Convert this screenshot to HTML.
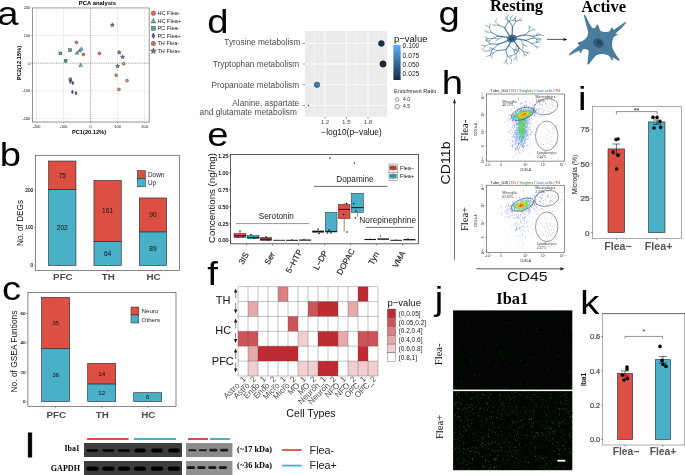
<!DOCTYPE html>
<html><head><meta charset="utf-8"><title>Figure</title>
<style>html,body{margin:0;padding:0;background:#fff}svg{display:block;will-change:transform}text{font-family:"Liberation Sans",sans-serif}</style></head>
<body>
<svg width="685" height="475" viewBox="0 0 685 475">
<rect width="685" height="475" fill="#fff"/>
<g id="pa">
<text transform="translate(-2.82 24.9) scale(1.14 1)" font-size="33.5" fill="#000">a</text>
<text x="97.4" y="5.2" font-size="5.9" text-anchor="middle" font-weight="bold" fill="#000">PCA analysis</text>
<rect x="32.50" y="7.90" width="116.70" height="114.10" fill="#fff" stroke="#8a8a8a" stroke-width="0.9"/>
<line x1="36.60" y1="7.90" x2="36.60" y2="122.00" stroke="#dcdcdc" stroke-width="0.5"/>
<line x1="32.50" y1="118.60" x2="149.20" y2="118.60" stroke="#dcdcdc" stroke-width="0.5"/>
<line x1="63.60" y1="7.90" x2="63.60" y2="122.00" stroke="#dcdcdc" stroke-width="0.5"/>
<line x1="32.50" y1="90.90" x2="149.20" y2="90.90" stroke="#dcdcdc" stroke-width="0.5"/>
<line x1="117.60" y1="7.90" x2="117.60" y2="122.00" stroke="#dcdcdc" stroke-width="0.5"/>
<line x1="32.50" y1="35.50" x2="149.20" y2="35.50" stroke="#dcdcdc" stroke-width="0.5"/>
<line x1="144.60" y1="7.90" x2="144.60" y2="122.00" stroke="#dcdcdc" stroke-width="0.5"/>
<line x1="32.50" y1="7.80" x2="149.20" y2="7.80" stroke="#dcdcdc" stroke-width="0.5"/>
<line x1="90.60" y1="7.90" x2="90.60" y2="122.00" stroke="#444" stroke-width="0.5" stroke-dasharray="1 0.8"/>
<line x1="32.50" y1="63.20" x2="149.20" y2="63.20" stroke="#444" stroke-width="0.5" stroke-dasharray="1 0.8"/>
<line x1="36.60" y1="122.00" x2="36.60" y2="123.30" stroke="#444" stroke-width="0.4"/>
<line x1="31.20" y1="118.60" x2="32.50" y2="118.60" stroke="#444" stroke-width="0.4"/>
<text x="36.6" y="127.7" font-size="3.9" text-anchor="middle" fill="#111">-200</text>
<text x="30.3" y="119.9" font-size="3.9" text-anchor="end" fill="#111">-200</text>
<line x1="63.60" y1="122.00" x2="63.60" y2="123.30" stroke="#444" stroke-width="0.4"/>
<line x1="31.20" y1="90.90" x2="32.50" y2="90.90" stroke="#444" stroke-width="0.4"/>
<text x="63.6" y="127.7" font-size="3.9" text-anchor="middle" fill="#111">-100</text>
<text x="30.3" y="92.2" font-size="3.9" text-anchor="end" fill="#111">-100</text>
<line x1="90.60" y1="122.00" x2="90.60" y2="123.30" stroke="#444" stroke-width="0.4"/>
<line x1="31.20" y1="63.20" x2="32.50" y2="63.20" stroke="#444" stroke-width="0.4"/>
<text x="90.6" y="127.7" font-size="3.9" text-anchor="middle" fill="#111">0</text>
<text x="30.3" y="64.5" font-size="3.9" text-anchor="end" fill="#111">0</text>
<line x1="117.60" y1="122.00" x2="117.60" y2="123.30" stroke="#444" stroke-width="0.4"/>
<line x1="31.20" y1="35.50" x2="32.50" y2="35.50" stroke="#444" stroke-width="0.4"/>
<text x="117.6" y="127.7" font-size="3.9" text-anchor="middle" fill="#111">100</text>
<text x="30.3" y="36.8" font-size="3.9" text-anchor="end" fill="#111">100</text>
<line x1="144.60" y1="122.00" x2="144.60" y2="123.30" stroke="#444" stroke-width="0.4"/>
<line x1="31.20" y1="7.80" x2="32.50" y2="7.80" stroke="#444" stroke-width="0.4"/>
<text x="144.6" y="127.7" font-size="3.9" text-anchor="middle" fill="#111">200</text>
<text x="30.3" y="9.1" font-size="3.9" text-anchor="end" fill="#111">200</text>
<text x="89" y="134.4" font-size="5.7" text-anchor="middle" font-weight="bold" fill="#000">PC1(20.12%)</text>
<text x="21.4" y="63" font-size="5.7" text-anchor="middle" font-weight="bold" fill="#000" transform="rotate(-90 21.4 63)">PC2(12.15%)</text>
<circle cx="76.4" cy="42.4" r="1.45" fill="#E0674B" stroke="#333" stroke-width="0.4"/>
<circle cx="83.4" cy="54.4" r="1.45" fill="#E0674B" stroke="#333" stroke-width="0.4"/>
<circle cx="99.4" cy="53.4" r="1.45" fill="#E0674B" stroke="#333" stroke-width="0.4"/>
<path d="M77 50.9L78.81 54.22L75.19 54.22Z" fill="#5FB3D3" stroke="#333" stroke-width="0.4"/>
<path d="M79.6 48.7L81.41 52.02L77.79 52.02Z" fill="#5FB3D3" stroke="#333" stroke-width="0.4"/>
<path d="M81.4 46.9L83.21 50.22L79.59 50.22Z" fill="#5FB3D3" stroke="#333" stroke-width="0.4"/>
<path d="M80.6 63.300000000000004L82.41 66.62L78.79 66.62Z" fill="#5FB3D3" stroke="#333" stroke-width="0.4"/>
<rect x="58.95" y="51.95" width="2.9" height="2.9" fill="#4FA08C" stroke="#333" stroke-width="0.4"/>
<rect x="68.75" y="48.75" width="2.9" height="2.9" fill="#4FA08C" stroke="#333" stroke-width="0.4"/>
<rect x="64.15" y="59.35" width="2.9" height="2.9" fill="#4FA08C" stroke="#333" stroke-width="0.4"/>
<rect x="68.95" y="77.95" width="2.9" height="2.9" fill="#4FA08C" stroke="#333" stroke-width="0.4"/>
<path d="M70.4 79.6L71.50 81.6L70.4 83.6L69.30 81.6Z" fill="#4E5A94" stroke="#222" stroke-width="0.4"/>
<path d="M72.8 81.0L73.90 83L72.8 85.0L71.70 83Z" fill="#4E5A94" stroke="#222" stroke-width="0.4"/>
<path d="M72.4 90.0L73.50 92L72.4 94.0L71.30 92Z" fill="#4E5A94" stroke="#222" stroke-width="0.4"/>
<path d="M76 91.2L77.10 93.2L76 95.2L74.90 93.2Z" fill="#4E5A94" stroke="#222" stroke-width="0.4"/>
<circle cx="123.6" cy="63.8" r="1.5" fill="#E3856B" stroke="#333" stroke-width="0.4"/>
<circle cx="116.2" cy="75.2" r="1.5" fill="#E3856B" stroke="#333" stroke-width="0.4"/>
<circle cx="127" cy="80.6" r="1.5" fill="#E3856B" stroke="#333" stroke-width="0.4"/>
<circle cx="119" cy="89.4" r="1.5" fill="#E3856B" stroke="#333" stroke-width="0.4"/>
<path d="M112.40 22.80L112.94 24.25L114.49 24.32L113.28 25.29L113.69 26.78L112.40 25.92L111.11 26.78L111.52 25.29L110.31 24.32L111.86 24.25Z" fill="#66759B" stroke="#222" stroke-width="0.4"/>
<path d="M119.20 50.20L119.74 51.65L121.29 51.72L120.08 52.69L120.49 54.18L119.20 53.32L117.91 54.18L118.32 52.69L117.11 51.72L118.66 51.65Z" fill="#66759B" stroke="#222" stroke-width="0.4"/>
<path d="M122.60 54.80L123.14 56.25L124.69 56.32L123.48 57.29L123.89 58.78L122.60 57.92L121.31 58.78L121.72 57.29L120.51 56.32L122.06 56.25Z" fill="#66759B" stroke="#222" stroke-width="0.4"/>
<path d="M117.60 64.00L118.14 65.45L119.69 65.52L118.48 66.49L118.89 67.98L117.60 67.12L116.31 67.98L116.72 66.49L115.51 65.52L117.06 65.45Z" fill="#66759B" stroke="#222" stroke-width="0.4"/>
<circle cx="153.4" cy="13.2" r="2.2" fill="#E0674B" stroke="#333" stroke-width="0.4"/>
<path d="M153.4 18.4L155.87 22.95L150.93 22.95Z" fill="#5FB3D3" stroke="#333" stroke-width="0.4"/>
<rect x="151.50" y="26.40" width="3.8" height="3.8" fill="#4FA08C" stroke="#333" stroke-width="0.4"/>
<path d="M153.4 33.0L154.94 35.8L153.4 38.599999999999994L151.86 35.8Z" fill="#4E5A94" stroke="#222" stroke-width="0.4"/>
<circle cx="153.4" cy="43.4" r="2.2" fill="#E3856B" stroke="#333" stroke-width="0.4"/>
<line x1="151.20" y1="43.40" x2="155.60" y2="43.40" stroke="#333" stroke-width="0.3"/>
<line x1="153.40" y1="41.20" x2="153.40" y2="45.60" stroke="#333" stroke-width="0.3"/>
<path d="M153.40 47.90L154.17 49.95L156.35 50.04L154.64 51.40L155.22 53.51L153.40 52.30L151.58 53.51L152.16 51.40L150.45 50.04L152.63 49.95Z" fill="#66759B" stroke="#222" stroke-width="0.4"/>
<text x="157.4" y="15.2" font-size="5.6" fill="#222">HC Flea-</text>
<text x="157.4" y="22.7" font-size="5.6" fill="#222">HC Flea+</text>
<text x="157.4" y="30.3" font-size="5.6" fill="#222">PC Flea-</text>
<text x="157.4" y="37.8" font-size="5.6" fill="#222">PC Flea+</text>
<text x="157.4" y="45.4" font-size="5.6" fill="#222">TH Flea-</text>
<text x="157.4" y="53" font-size="5.6" fill="#222">TH Flea+</text>
</g>
<g id="pb">
<text transform="translate(-0.26 165.7) scale(1.14 1)" font-size="33.5" fill="#000">b</text>
<rect x="35.60" y="155.30" width="143.90" height="115.20" fill="#fff" stroke="#555" stroke-width="0.7"/>
<rect x="48.65" y="189.29" width="27.30" height="76.11" fill="#49B0C7" stroke="#222" stroke-width="0.6"/>
<rect x="48.65" y="161.03" width="27.30" height="28.26" fill="#DC5044" stroke="#222" stroke-width="0.6"/>
<text x="62.3" y="229.6" font-size="6.6" text-anchor="middle" fill="#111">202</text>
<text x="62.3" y="177.5" font-size="6.6" text-anchor="middle" fill="#111">75</text>
<line x1="62.30" y1="270.50" x2="62.30" y2="272.00" stroke="#444" stroke-width="0.5"/>
<rect x="93.95" y="241.28" width="27.30" height="24.12" fill="#49B0C7" stroke="#222" stroke-width="0.6"/>
<rect x="93.95" y="180.62" width="27.30" height="60.66" fill="#DC5044" stroke="#222" stroke-width="0.6"/>
<text x="107.6" y="255.6" font-size="6.6" text-anchor="middle" fill="#111">64</text>
<text x="107.6" y="213.3" font-size="6.6" text-anchor="middle" fill="#111">161</text>
<line x1="107.60" y1="270.50" x2="107.60" y2="272.00" stroke="#444" stroke-width="0.5"/>
<rect x="139.35" y="231.86" width="27.30" height="33.54" fill="#49B0C7" stroke="#222" stroke-width="0.6"/>
<rect x="139.35" y="197.95" width="27.30" height="33.91" fill="#DC5044" stroke="#222" stroke-width="0.6"/>
<text x="153" y="250.9" font-size="6.6" text-anchor="middle" fill="#111">89</text>
<text x="153" y="217.2" font-size="6.6" text-anchor="middle" fill="#111">90</text>
<line x1="153.00" y1="270.50" x2="153.00" y2="272.00" stroke="#444" stroke-width="0.5"/>
<line x1="34.10" y1="265.40" x2="35.60" y2="265.40" stroke="#444" stroke-width="0.5"/>
<text x="33.2" y="267.1" font-size="4.7" text-anchor="end" fill="#111" stroke="#111" stroke-width="0.12">0</text>
<line x1="34.10" y1="227.72" x2="35.60" y2="227.72" stroke="#444" stroke-width="0.5"/>
<text x="33.2" y="229.4" font-size="4.7" text-anchor="end" fill="#111" stroke="#111" stroke-width="0.12">100</text>
<line x1="34.10" y1="190.04" x2="35.60" y2="190.04" stroke="#444" stroke-width="0.5"/>
<text x="33.2" y="191.7" font-size="4.7" text-anchor="end" fill="#111" stroke="#111" stroke-width="0.12">200</text>
<text x="23" y="223" font-size="8.2" text-anchor="middle" fill="#111" transform="rotate(-90 23 223)">No. of DEGs</text>
<text x="62.9" y="280" font-size="9.8" text-anchor="middle" font-weight="bold" fill="#4c4c4c">PFC</text>
<text x="108.19999999999999" y="280" font-size="9.8" text-anchor="middle" font-weight="bold" fill="#4c4c4c">TH</text>
<text x="153.6" y="280" font-size="9.8" text-anchor="middle" font-weight="bold" fill="#4c4c4c">HC</text>
<rect x="137.40" y="170.60" width="8.00" height="8.00" fill="#DC5044" stroke="#222" stroke-width="0.5"/>
<rect x="137.40" y="178.60" width="8.00" height="8.20" fill="#49B0C7" stroke="#222" stroke-width="0.5"/>
<text x="148" y="177.2" font-size="6.4" fill="#222">Down</text>
<text x="148" y="185.3" font-size="6.4" fill="#222">Up</text>
</g>
<g id="pc">
<text transform="translate(1.98 299.8) scale(1.14 1)" font-size="33.5" fill="#000">c</text>
<rect x="27.90" y="292.60" width="148.10" height="114.00" fill="#fff" stroke="#555" stroke-width="0.7"/>
<rect x="41.60" y="348.72" width="28.00" height="52.78" fill="#49B0C7" stroke="#222" stroke-width="0.6"/>
<text x="55.6" y="377.3" font-size="6.2" text-anchor="middle" fill="#111">36</text>
<rect x="41.60" y="297.41" width="28.00" height="51.31" fill="#DC5044" stroke="#222" stroke-width="0.6"/>
<text x="55.6" y="325.3" font-size="6.2" text-anchor="middle" fill="#111">35</text>
<line x1="55.60" y1="406.60" x2="55.60" y2="408.10" stroke="#444" stroke-width="0.5"/>
<rect x="87.70" y="383.91" width="28.00" height="17.59" fill="#49B0C7" stroke="#222" stroke-width="0.6"/>
<text x="101.7" y="394.9" font-size="6.2" text-anchor="middle" fill="#111">12</text>
<rect x="87.70" y="363.38" width="28.00" height="20.52" fill="#DC5044" stroke="#222" stroke-width="0.6"/>
<text x="101.7" y="375.8" font-size="6.2" text-anchor="middle" fill="#111">14</text>
<line x1="101.70" y1="406.60" x2="101.70" y2="408.10" stroke="#444" stroke-width="0.5"/>
<rect x="133.70" y="392.70" width="28.00" height="8.80" fill="#49B0C7" stroke="#222" stroke-width="0.6"/>
<text x="147.7" y="399.3" font-size="6.2" text-anchor="middle" fill="#111">6</text>
<line x1="147.70" y1="406.60" x2="147.70" y2="408.10" stroke="#444" stroke-width="0.5"/>
<line x1="26.40" y1="401.50" x2="27.90" y2="401.50" stroke="#444" stroke-width="0.5"/>
<text x="25.4" y="403.0" font-size="4.4" text-anchor="end" fill="#111" stroke="#111" stroke-width="0.12">0</text>
<line x1="26.40" y1="372.18" x2="27.90" y2="372.18" stroke="#444" stroke-width="0.5"/>
<text x="25.4" y="373.7" font-size="4.4" text-anchor="end" fill="#111" stroke="#111" stroke-width="0.12">20</text>
<line x1="26.40" y1="342.86" x2="27.90" y2="342.86" stroke="#444" stroke-width="0.5"/>
<text x="25.4" y="344.4" font-size="4.4" text-anchor="end" fill="#111" stroke="#111" stroke-width="0.12">40</text>
<line x1="26.40" y1="313.54" x2="27.90" y2="313.54" stroke="#444" stroke-width="0.5"/>
<text x="25.4" y="315.0" font-size="4.4" text-anchor="end" fill="#111" stroke="#111" stroke-width="0.12">60</text>
<text x="17.4" y="351.5" font-size="8.4" text-anchor="middle" fill="#111" transform="rotate(-90 17.4 351.5)">No. of GSEA Funtions</text>
<text x="56.2" y="417.8" font-size="9.8" text-anchor="middle" font-weight="bold" fill="#4c4c4c">PFC</text>
<text x="102.3" y="417.8" font-size="9.8" text-anchor="middle" font-weight="bold" fill="#4c4c4c">TH</text>
<text x="148.29999999999998" y="417.8" font-size="9.8" text-anchor="middle" font-weight="bold" fill="#4c4c4c">HC</text>
<rect x="131.00" y="307.00" width="7.80" height="8.00" fill="#DC5044" stroke="#222" stroke-width="0.5"/>
<rect x="131.00" y="315.00" width="7.80" height="8.00" fill="#49B0C7" stroke="#222" stroke-width="0.5"/>
<text x="141.6" y="313.2" font-size="6.2" fill="#222">Neuro</text>
<text x="141.6" y="321.6" font-size="6.2" fill="#222">Others</text>
</g>
<g id="pd">
<text transform="translate(207.20 33) scale(1.14 1)" font-size="33.5" fill="#000">d</text>
<rect x="305.00" y="31.00" width="82.00" height="85.80" fill="#EBEBEB"/>
<line x1="314.40" y1="31.00" x2="314.40" y2="116.80" stroke="#F6F6F6" stroke-width="0.5"/>
<line x1="336.00" y1="31.00" x2="336.00" y2="116.80" stroke="#F6F6F6" stroke-width="0.5"/>
<line x1="357.00" y1="31.00" x2="357.00" y2="116.80" stroke="#F6F6F6" stroke-width="0.5"/>
<line x1="378.60" y1="31.00" x2="378.60" y2="116.80" stroke="#F6F6F6" stroke-width="0.5"/>
<line x1="325.00" y1="31.00" x2="325.00" y2="116.80" stroke="#fff" stroke-width="0.9"/>
<line x1="346.40" y1="31.00" x2="346.40" y2="116.80" stroke="#fff" stroke-width="0.9"/>
<line x1="368.00" y1="31.00" x2="368.00" y2="116.80" stroke="#fff" stroke-width="0.9"/>
<line x1="305.00" y1="43.40" x2="387.00" y2="43.40" stroke="#fff" stroke-width="0.8"/>
<line x1="302.80" y1="43.40" x2="305.00" y2="43.40" stroke="#333" stroke-width="0.5"/>
<line x1="305.00" y1="64.00" x2="387.00" y2="64.00" stroke="#fff" stroke-width="0.8"/>
<line x1="302.80" y1="64.00" x2="305.00" y2="64.00" stroke="#333" stroke-width="0.5"/>
<line x1="305.00" y1="84.70" x2="387.00" y2="84.70" stroke="#fff" stroke-width="0.8"/>
<line x1="302.80" y1="84.70" x2="305.00" y2="84.70" stroke="#333" stroke-width="0.5"/>
<line x1="305.00" y1="105.40" x2="387.00" y2="105.40" stroke="#fff" stroke-width="0.8"/>
<line x1="302.80" y1="105.40" x2="305.00" y2="105.40" stroke="#333" stroke-width="0.5"/>
<line x1="325.00" y1="116.80" x2="325.00" y2="118.80" stroke="#333" stroke-width="0.5"/>
<text x="325" y="123.6" font-size="6.2" text-anchor="middle" fill="#4d4d4d">1.2</text>
<line x1="346.40" y1="116.80" x2="346.40" y2="118.80" stroke="#333" stroke-width="0.5"/>
<text x="346.4" y="123.6" font-size="6.2" text-anchor="middle" fill="#4d4d4d">1.5</text>
<line x1="368.00" y1="116.80" x2="368.00" y2="118.80" stroke="#333" stroke-width="0.5"/>
<text x="368" y="123.6" font-size="6.2" text-anchor="middle" fill="#4d4d4d">1.8</text>
<text x="300.4" y="45.0" font-size="8.3" text-anchor="end" fill="#4d4d4d">Tyrosine metabolism</text>
<text x="299.2" y="66.8" font-size="8.3" text-anchor="end" fill="#4d4d4d">Tryptophan metabolism</text>
<text x="299.2" y="88.3" font-size="8.3" text-anchor="end" fill="#4d4d4d">Propanoate metabolism</text>
<text x="299.2" y="105.9" font-size="8.3" text-anchor="end" fill="#4d4d4d">Alanine, aspartate</text>
<text x="296.9" y="115.2" font-size="8.3" text-anchor="end" fill="#4d4d4d">and glutamate metabolism</text>
<text x="351.5" y="135.2" font-size="8.4" text-anchor="middle" fill="#111">−log10(p−value)</text>
<circle cx="381.4" cy="43.4" r="3.0" fill="#1B2D47" stroke="#222" stroke-width="0.4"/>
<circle cx="383" cy="64" r="3.2" fill="#182840" stroke="#222" stroke-width="0.4"/>
<circle cx="317" cy="84.8" r="2.8" fill="#3C7DB6" stroke="#222" stroke-width="0.4"/>
<circle cx="308.4" cy="105.4" r="0.5" fill="#24466B" stroke="#222" stroke-width="0.4"/>
<text x="394" y="41.8" font-size="9.5" fill="#111">p−value</text>
<defs><linearGradient id="pvg" x1="0" y1="0" x2="0" y2="1"><stop offset="0" stop-color="#56B1F7"/><stop offset="1" stop-color="#132B43"/></linearGradient></defs>
<rect x="393.40" y="45.00" width="7.20" height="35.00" fill="url(#pvg)"/>
<text x="402.6" y="48.4" font-size="6.7" fill="#222">0.100</text>
<text x="402.6" y="57.8" font-size="6.7" fill="#222">0.075</text>
<text x="402.6" y="66.8" font-size="6.7" fill="#222">0.050</text>
<text x="402.6" y="76.0" font-size="6.7" fill="#222">0.025</text>
<text x="394" y="93.2" font-size="5.5" fill="#222">Enrichment Ratio</text>
<circle cx="397.2" cy="99.6" r="1.7" fill="#fff" stroke="#333" stroke-width="0.5"/><circle cx="397.2" cy="106.6" r="2.3" fill="#fff" stroke="#333" stroke-width="0.5"/>
<text x="403" y="101.4" font-size="5" fill="#222">4.0</text>
<text x="403" y="108.4" font-size="5" fill="#222">4.5</text>
</g>
<g id="pe">
<text transform="translate(207.18 146) scale(1.14 1)" font-size="33.5" fill="#000">e</text>
<rect x="230.50" y="154.50" width="188.00" height="89.30" fill="#fff" stroke="#333" stroke-width="0.8"/>
<line x1="229.00" y1="240.60" x2="230.50" y2="240.60" stroke="#333" stroke-width="0.5"/>
<text x="228.3" y="242.4" font-size="5.2" text-anchor="end" fill="#111" stroke="#111" stroke-width="0.15">0.00</text>
<line x1="229.00" y1="223.67" x2="230.50" y2="223.67" stroke="#333" stroke-width="0.5"/>
<text x="228.3" y="225.5" font-size="5.2" text-anchor="end" fill="#111" stroke="#111" stroke-width="0.15">0.25</text>
<line x1="229.00" y1="206.75" x2="230.50" y2="206.75" stroke="#333" stroke-width="0.5"/>
<text x="228.3" y="208.6" font-size="5.2" text-anchor="end" fill="#111" stroke="#111" stroke-width="0.15">0.50</text>
<line x1="229.00" y1="189.82" x2="230.50" y2="189.82" stroke="#333" stroke-width="0.5"/>
<text x="228.3" y="191.6" font-size="5.2" text-anchor="end" fill="#111" stroke="#111" stroke-width="0.15">0.75</text>
<line x1="229.00" y1="172.90" x2="230.50" y2="172.90" stroke="#333" stroke-width="0.5"/>
<text x="228.3" y="174.7" font-size="5.2" text-anchor="end" fill="#111" stroke="#111" stroke-width="0.15">1.00</text>
<line x1="229.00" y1="155.97" x2="230.50" y2="155.97" stroke="#333" stroke-width="0.5"/>
<text x="228.3" y="157.8" font-size="5.2" text-anchor="end" fill="#111" stroke="#111" stroke-width="0.15">1.25</text>
<text x="215.4" y="198" font-size="9.7" text-anchor="middle" fill="#111" transform="rotate(-90 215.4 198)">Concentions (ng/mg)</text>
<line x1="246.60" y1="243.80" x2="246.60" y2="245.60" stroke="#333" stroke-width="0.5"/>
<text transform="translate(249.13 254.12) rotate(-61)" text-anchor="end" font-size="8.2" fill="#222" stroke="#222" stroke-width="0.15">3IS</text>
<line x1="272.60" y1="243.80" x2="272.60" y2="245.60" stroke="#333" stroke-width="0.5"/>
<text transform="translate(275.18 254.02) rotate(-61)" text-anchor="end" font-size="8.2" fill="#222" stroke="#222" stroke-width="0.15">Ser</text>
<line x1="298.60" y1="243.80" x2="298.60" y2="245.60" stroke="#333" stroke-width="0.5"/>
<text transform="translate(302.70 251.30) rotate(-61)" text-anchor="end" font-size="8.2" fill="#222" stroke="#222" stroke-width="0.15">5−HTP</text>
<line x1="324.60" y1="243.80" x2="324.60" y2="245.60" stroke="#333" stroke-width="0.5"/>
<text transform="translate(328.11 252.35) rotate(-61)" text-anchor="end" font-size="8.2" fill="#222" stroke="#222" stroke-width="0.15">L−DP</text>
<line x1="350.60" y1="243.80" x2="350.60" y2="245.60" stroke="#333" stroke-width="0.5"/>
<text transform="translate(355.09 250.58) rotate(-61)" text-anchor="end" font-size="8.2" fill="#222" stroke="#222" stroke-width="0.15">DOPAC</text>
<line x1="376.60" y1="243.80" x2="376.60" y2="245.60" stroke="#333" stroke-width="0.5"/>
<text transform="translate(379.29 253.83) rotate(-61)" text-anchor="end" font-size="8.2" fill="#222" stroke="#222" stroke-width="0.15">Tyn</text>
<line x1="402.60" y1="243.80" x2="402.60" y2="245.60" stroke="#333" stroke-width="0.5"/>
<text transform="translate(405.77 252.97) rotate(-61)" text-anchor="end" font-size="8.2" fill="#222" stroke="#222" stroke-width="0.15">VMA</text>
<line x1="240.00" y1="231.50" x2="240.00" y2="233.60" stroke="#222" stroke-width="0.5"/>
<rect x="234.00" y="233.60" width="12.00" height="3.80" fill="#DC5044" stroke="#222" stroke-width="0.5"/>
<line x1="234.00" y1="235.80" x2="246.00" y2="235.80" stroke="#111" stroke-width="1.0"/>
<line x1="253.10" y1="234.60" x2="253.10" y2="235.60" stroke="#222" stroke-width="0.5"/>
<rect x="247.20" y="235.60" width="11.80" height="3.00" fill="#49B0C7" stroke="#222" stroke-width="0.5"/>
<line x1="247.20" y1="237.40" x2="259.00" y2="237.40" stroke="#111" stroke-width="1.0"/>
<circle cx="240" cy="231" r="0.8" fill="#111"/>
<circle cx="243" cy="236.5" r="0.8" fill="#111"/>
<circle cx="238" cy="237" r="0.8" fill="#111"/>
<circle cx="251" cy="234.5" r="0.8" fill="#111"/>
<circle cx="254" cy="238" r="0.8" fill="#111"/>
<rect x="260.20" y="237.40" width="11.40" height="3.20" fill="#DC5044" stroke="#222" stroke-width="0.5"/>
<line x1="260.20" y1="239.20" x2="271.60" y2="239.20" stroke="#111" stroke-width="1.0"/>
<line x1="273.20" y1="240.30" x2="285.00" y2="240.30" stroke="#111" stroke-width="0.9"/>
<circle cx="266" cy="236.8" r="0.8" fill="#111"/>
<circle cx="268" cy="240" r="0.8" fill="#111"/>
<line x1="286.20" y1="240.30" x2="298.00" y2="240.30" stroke="#111" stroke-width="1.0"/>
<line x1="299.20" y1="240.10" x2="311.00" y2="240.10" stroke="#111" stroke-width="1.2"/>
<circle cx="292" cy="239.6" r="0.55" fill="#111"/>
<circle cx="304" cy="239.2" r="0.6" fill="#111"/>
<line x1="312.20" y1="231.60" x2="324.00" y2="231.60" stroke="#111" stroke-width="1.9"/>
<circle cx="318" cy="229.2" r="0.8" fill="#111"/>
<circle cx="319" cy="233.6" r="0.8" fill="#111"/>
<rect x="325.40" y="212.40" width="11.60" height="19.60" fill="#49B0C7" stroke="#222" stroke-width="0.5"/>
<line x1="325.40" y1="231.40" x2="337.00" y2="231.40" stroke="#111" stroke-width="1.0"/>
<circle cx="329" cy="230" r="0.8" fill="#111"/>
<circle cx="327.5" cy="233" r="0.8" fill="#111"/>
<circle cx="331" cy="233" r="0.8" fill="#111"/>
<line x1="344.20" y1="203.00" x2="344.20" y2="204.40" stroke="#222" stroke-width="0.5"/>
<line x1="344.20" y1="218.60" x2="344.20" y2="231.60" stroke="#222" stroke-width="0.5"/>
<rect x="338.40" y="204.40" width="11.60" height="14.20" fill="#DC5044" stroke="#222" stroke-width="0.5"/>
<line x1="338.40" y1="209.40" x2="350.00" y2="209.40" stroke="#111" stroke-width="1.0"/>
<circle cx="346.5" cy="203.6" r="0.8" fill="#111"/>
<circle cx="343.5" cy="214.5" r="0.8" fill="#111"/>
<circle cx="347" cy="232" r="0.8" fill="#111"/>
<line x1="357.40" y1="212.40" x2="357.40" y2="217.00" stroke="#222" stroke-width="0.5"/>
<rect x="351.40" y="193.40" width="12.00" height="19.00" fill="#49B0C7" stroke="#222" stroke-width="0.5"/>
<line x1="351.40" y1="207.60" x2="363.40" y2="207.60" stroke="#111" stroke-width="1.0"/>
<circle cx="353.8" cy="203.6" r="0.8" fill="#111"/>
<circle cx="356" cy="211" r="0.8" fill="#111"/>
<circle cx="355.4" cy="218" r="0.8" fill="#111"/>
<line x1="364.40" y1="239.50" x2="376.00" y2="239.50" stroke="#111" stroke-width="1.1"/>
<line x1="377.40" y1="239.10" x2="389.00" y2="239.10" stroke="#111" stroke-width="1.4"/>
<circle cx="370" cy="239" r="0.55" fill="#111"/>
<circle cx="380.4" cy="235.8" r="0.65" fill="#111"/>
<line x1="390.40" y1="240.30" x2="402.00" y2="240.30" stroke="#111" stroke-width="1.0"/>
<line x1="403.40" y1="239.70" x2="415.40" y2="239.70" stroke="#111" stroke-width="1.3"/>
<circle cx="396" cy="239.8" r="0.5" fill="#111"/>
<circle cx="408" cy="238.6" r="0.6" fill="#111"/>
<circle cx="330" cy="158" r="0.8" fill="#111"/>
<circle cx="354.4" cy="163" r="0.8" fill="#111"/>
<text x="276.4" y="219.3" font-size="8.2" text-anchor="middle" fill="#222">Serotonin</text>
<line x1="236.00" y1="223.60" x2="309.40" y2="223.60" stroke="#777" stroke-width="0.8"/>
<text x="355" y="182" font-size="8.2" text-anchor="middle" fill="#222">Dopamine</text>
<line x1="314.00" y1="186.40" x2="387.40" y2="186.40" stroke="#333" stroke-width="0.7"/>
<text x="387.7" y="223" font-size="8.3" text-anchor="middle" fill="#222">Norepinephrine</text>
<line x1="366.00" y1="227.40" x2="413.60" y2="227.40" stroke="#333" stroke-width="0.7"/>
<rect x="389.00" y="164.00" width="8.20" height="8.20" fill="#fff" stroke="#555" stroke-width="0.45"/>
<rect x="389.90" y="165.90" width="6.40" height="4.00" fill="#DC5044" stroke="#222" stroke-width="0.3"/>
<line x1="389.90" y1="167.80" x2="396.30" y2="167.80" stroke="#111" stroke-width="0.45"/>
<line x1="393.10" y1="164.70" x2="393.10" y2="165.90" stroke="#222" stroke-width="0.35"/>
<line x1="393.10" y1="169.90" x2="393.10" y2="171.30" stroke="#222" stroke-width="0.35"/>
<rect x="389.00" y="172.20" width="8.20" height="8.20" fill="#fff" stroke="#555" stroke-width="0.45"/>
<rect x="389.90" y="174.10" width="6.40" height="4.00" fill="#49B0C7" stroke="#222" stroke-width="0.3"/>
<line x1="389.90" y1="176.00" x2="396.30" y2="176.00" stroke="#111" stroke-width="0.45"/>
<line x1="393.10" y1="172.90" x2="393.10" y2="174.10" stroke="#222" stroke-width="0.35"/>
<line x1="393.10" y1="178.10" x2="393.10" y2="179.50" stroke="#222" stroke-width="0.35"/>
<text x="400" y="169.6" font-size="5.6" fill="#111">Flea−</text>
<text x="400" y="177.8" font-size="5.6" fill="#111">Flea+</text>
</g>
<g id="pf">
<text transform="translate(207.36 285) scale(1.14 1)" font-size="33.5" fill="#000">f</text>
<rect x="238.00" y="286.60" width="140.00" height="89.40" fill="#fff"/>
<rect x="278.00" y="286.60" width="10.00" height="14.90" fill="#DA7F83"/>
<rect x="358.00" y="286.60" width="10.00" height="14.90" fill="#C12A30"/>
<rect x="248.00" y="301.50" width="10.00" height="14.90" fill="#E6AAAC"/>
<rect x="308.00" y="301.50" width="10.00" height="14.90" fill="#CD5559"/>
<rect x="318.00" y="301.50" width="10.00" height="14.90" fill="#C12A30"/>
<rect x="328.00" y="301.50" width="10.00" height="14.90" fill="#C12A30"/>
<rect x="348.00" y="301.50" width="10.00" height="14.90" fill="#E6AAAC"/>
<rect x="288.00" y="316.40" width="10.00" height="14.90" fill="#CD5559"/>
<rect x="238.00" y="331.30" width="10.00" height="14.90" fill="#CD5559"/>
<rect x="248.00" y="331.30" width="10.00" height="14.90" fill="#CD5559"/>
<rect x="298.00" y="331.30" width="10.00" height="14.90" fill="#F1CECF"/>
<rect x="318.00" y="331.30" width="10.00" height="14.90" fill="#C12A30"/>
<rect x="328.00" y="331.30" width="10.00" height="14.90" fill="#C12A30"/>
<rect x="338.00" y="331.30" width="10.00" height="14.90" fill="#E6AAAC"/>
<rect x="358.00" y="331.30" width="10.00" height="14.90" fill="#CD5559"/>
<rect x="368.00" y="331.30" width="10.00" height="14.90" fill="#CD5559"/>
<rect x="248.00" y="346.20" width="10.00" height="14.90" fill="#E6AAAC"/>
<rect x="258.00" y="346.20" width="10.00" height="14.90" fill="#C12A30"/>
<rect x="268.00" y="346.20" width="10.00" height="14.90" fill="#C12A30"/>
<rect x="278.00" y="346.20" width="10.00" height="14.90" fill="#C12A30"/>
<rect x="288.00" y="346.20" width="10.00" height="14.90" fill="#C12A30"/>
<rect x="358.00" y="346.20" width="10.00" height="14.90" fill="#C12A30"/>
<rect x="248.00" y="361.10" width="10.00" height="14.90" fill="#F1CECF"/>
<rect x="298.00" y="361.10" width="10.00" height="14.90" fill="#F1CECF"/>
<rect x="308.00" y="361.10" width="10.00" height="14.90" fill="#F1CECF"/>
<rect x="318.00" y="361.10" width="10.00" height="14.90" fill="#C12A30"/>
<rect x="328.00" y="361.10" width="10.00" height="14.90" fill="#C12A30"/>
<rect x="348.00" y="361.10" width="10.00" height="14.90" fill="#F1CECF"/>
<rect x="358.00" y="361.10" width="10.00" height="14.90" fill="#F1CECF"/>
<rect x="368.00" y="361.10" width="10.00" height="14.90" fill="#F1CECF"/>
<line x1="238.00" y1="286.60" x2="238.00" y2="376.00" stroke="#555" stroke-width="0.35"/>
<line x1="248.00" y1="286.60" x2="248.00" y2="376.00" stroke="#555" stroke-width="0.35"/>
<line x1="258.00" y1="286.60" x2="258.00" y2="376.00" stroke="#555" stroke-width="0.35"/>
<line x1="268.00" y1="286.60" x2="268.00" y2="376.00" stroke="#555" stroke-width="0.35"/>
<line x1="278.00" y1="286.60" x2="278.00" y2="376.00" stroke="#555" stroke-width="0.35"/>
<line x1="288.00" y1="286.60" x2="288.00" y2="376.00" stroke="#555" stroke-width="0.35"/>
<line x1="298.00" y1="286.60" x2="298.00" y2="376.00" stroke="#555" stroke-width="0.35"/>
<line x1="308.00" y1="286.60" x2="308.00" y2="376.00" stroke="#555" stroke-width="0.35"/>
<line x1="318.00" y1="286.60" x2="318.00" y2="376.00" stroke="#555" stroke-width="0.35"/>
<line x1="328.00" y1="286.60" x2="328.00" y2="376.00" stroke="#555" stroke-width="0.35"/>
<line x1="338.00" y1="286.60" x2="338.00" y2="376.00" stroke="#555" stroke-width="0.35"/>
<line x1="348.00" y1="286.60" x2="348.00" y2="376.00" stroke="#555" stroke-width="0.35"/>
<line x1="358.00" y1="286.60" x2="358.00" y2="376.00" stroke="#555" stroke-width="0.35"/>
<line x1="368.00" y1="286.60" x2="368.00" y2="376.00" stroke="#555" stroke-width="0.35"/>
<line x1="378.00" y1="286.60" x2="378.00" y2="376.00" stroke="#555" stroke-width="0.35"/>
<line x1="238.00" y1="286.60" x2="378.00" y2="286.60" stroke="#555" stroke-width="0.35"/>
<line x1="238.00" y1="301.50" x2="378.00" y2="301.50" stroke="#555" stroke-width="0.35"/>
<line x1="238.00" y1="316.40" x2="378.00" y2="316.40" stroke="#555" stroke-width="0.35"/>
<line x1="238.00" y1="331.30" x2="378.00" y2="331.30" stroke="#555" stroke-width="0.35"/>
<line x1="238.00" y1="346.20" x2="378.00" y2="346.20" stroke="#555" stroke-width="0.35"/>
<line x1="238.00" y1="361.10" x2="378.00" y2="361.10" stroke="#555" stroke-width="0.35"/>
<line x1="238.00" y1="376.00" x2="378.00" y2="376.00" stroke="#555" stroke-width="0.35"/>
<text x="223.2" y="303.5" font-size="11" text-anchor="middle" fill="#111">TH</text>
<text x="223.3" y="333.9" font-size="11" text-anchor="middle" fill="#111">HC</text>
<text x="222.8" y="364.9" font-size="11" text-anchor="middle" fill="#111">PFC</text>
<line x1="235.60" y1="298.00" x2="235.60" y2="290.10" stroke="#111" stroke-width="0.5"/>
<path d="M235.6 288.6L234.0 292.6L237.2 292.6Z" fill="#111"/>
<line x1="235.60" y1="303.00" x2="235.60" y2="312.10" stroke="#111" stroke-width="0.5"/>
<path d="M235.6 313.6L234.0 309.6L237.2 309.6Z" fill="#111"/>
<line x1="235.60" y1="328.40" x2="235.60" y2="320.10" stroke="#111" stroke-width="0.5"/>
<path d="M235.6 318.6L234.0 322.6L237.2 322.6Z" fill="#111"/>
<line x1="235.60" y1="333.00" x2="235.60" y2="341.50" stroke="#111" stroke-width="0.5"/>
<path d="M235.6 343L234.0 339L237.2 339Z" fill="#111"/>
<line x1="235.60" y1="359.00" x2="235.60" y2="350.10" stroke="#111" stroke-width="0.5"/>
<path d="M235.6 348.6L234.0 352.6L237.2 352.6Z" fill="#111"/>
<line x1="235.60" y1="362.60" x2="235.60" y2="371.10" stroke="#111" stroke-width="0.5"/>
<path d="M235.6 372.6L234.0 368.6L237.2 368.6Z" fill="#111"/>
<text transform="translate(246.5 379.6) rotate(-45)" text-anchor="end" font-size="8.1" fill="#4d4d4d">Astro_1</text>
<text transform="translate(256.5 379.6) rotate(-45)" text-anchor="end" font-size="8.1" fill="#4d4d4d">Astro_2</text>
<text transform="translate(266.5 379.6) rotate(-45)" text-anchor="end" font-size="8.1" fill="#4d4d4d">Endo_1</text>
<text transform="translate(276.5 379.6) rotate(-45)" text-anchor="end" font-size="8.1" fill="#4d4d4d">Endo_2</text>
<text transform="translate(286.5 379.6) rotate(-45)" text-anchor="end" font-size="8.1" fill="#4d4d4d">Micro_1</text>
<text transform="translate(296.5 379.6) rotate(-45)" text-anchor="end" font-size="8.1" fill="#4d4d4d">Micro_2</text>
<text transform="translate(306.5 379.6) rotate(-45)" text-anchor="end" font-size="8.1" fill="#4d4d4d">MO_1</text>
<text transform="translate(316.5 379.6) rotate(-45)" text-anchor="end" font-size="8.1" fill="#4d4d4d">MO_2</text>
<text transform="translate(326.5 379.6) rotate(-45)" text-anchor="end" font-size="8.1" fill="#4d4d4d">Neuron_1</text>
<text transform="translate(336.5 379.6) rotate(-45)" text-anchor="end" font-size="8.1" fill="#4d4d4d">Neuron_2</text>
<text transform="translate(346.5 379.6) rotate(-45)" text-anchor="end" font-size="8.1" fill="#4d4d4d">NFO_1</text>
<text transform="translate(356.5 379.6) rotate(-45)" text-anchor="end" font-size="8.1" fill="#4d4d4d">NFO_2</text>
<text transform="translate(366.5 379.6) rotate(-45)" text-anchor="end" font-size="8.1" fill="#4d4d4d">OPC_1</text>
<text transform="translate(376.5 379.6) rotate(-45)" text-anchor="end" font-size="8.1" fill="#4d4d4d">OPC_2</text>
<text x="311" y="416.8" font-size="10.6" text-anchor="middle" fill="#111">Cell Types</text>
<text x="387.4" y="306.3" font-size="9.5" fill="#111">p−value</text>
<rect x="387.40" y="309.00" width="8.20" height="8.77" fill="#C12A30" stroke="#444" stroke-width="0.35"/>
<text x="398.6" y="315.7" font-size="6.5" fill="#222">(0,0.05]</text>
<rect x="387.40" y="317.77" width="8.20" height="8.77" fill="#CD5559" stroke="#444" stroke-width="0.35"/>
<text x="398.6" y="324.5" font-size="6.5" fill="#222">(0.05,0.2]</text>
<rect x="387.40" y="326.54" width="8.20" height="8.77" fill="#DA7F83" stroke="#444" stroke-width="0.35"/>
<text x="398.6" y="333.2" font-size="6.5" fill="#222">(0.2,0.4]</text>
<rect x="387.40" y="335.31" width="8.20" height="8.77" fill="#E6AAAC" stroke="#444" stroke-width="0.35"/>
<text x="398.6" y="342.0" font-size="6.5" fill="#222">(0.4,0.6]</text>
<rect x="387.40" y="344.08" width="8.20" height="8.77" fill="#F1CECF" stroke="#444" stroke-width="0.35"/>
<text x="398.6" y="350.8" font-size="6.5" fill="#222">(0.6,0.8]</text>
<rect x="387.40" y="352.85" width="8.20" height="8.77" fill="#fff" stroke="#444" stroke-width="0.35"/>
<text x="398.6" y="359.6" font-size="6.5" fill="#222">(0.8,1]</text>
</g>
<g id="pg">
<text transform="translate(438.40 24.8) scale(1.14 1)" font-size="33.5" fill="#000">g</text>
<text x="516.5" y="11" font-size="16.5" text-anchor="middle" font-weight="bold" style="font-family:'Liberation Serif',serif" fill="#000">Resting</text>
<text x="603.6" y="12" font-size="16.5" text-anchor="middle" font-weight="bold" style="font-family:'Liberation Serif',serif" fill="#000">Active</text>
<path d="M515.0 38.9Q520.4 39.4 525.8 40.3M513.7 40.6Q516.6 44.2 519.0 48.1M511.1 40.9Q509.2 45.5 505.9 49.6M509.4 39.8Q503.9 42.5 497.8 44.3M509.1 37.9Q503.9 36.5 498.4 36.2M510.4 36.6Q507.0 32.4 504.6 27.8M512.1 36.2Q512.3 31.4 512.5 26.5M514.7 37.6Q519.6 35.7 524.9 34.9" fill="none" stroke="#4E7E9F" stroke-width="1.3" stroke-linecap="round"/>
<path d="M525.8 40.3Q528.9 42.1 532.1 43.6M525.8 40.3Q529.2 39.1 532.8 38.2M519.0 48.1Q518.1 51.0 516.3 53.6M519.0 48.1Q521.4 49.6 523.3 51.5M505.9 49.6Q501.7 50.1 497.5 50.6M505.9 49.6Q506.2 52.8 507.5 55.9M497.8 44.3Q493.9 44.0 490.0 43.9M497.8 44.3Q495.2 47.7 491.6 50.6M498.4 36.2Q494.6 34.6 491.3 32.4M498.4 36.2Q495.4 37.4 492.3 38.5M504.6 27.8Q506.2 24.8 508.1 21.9M504.6 27.8Q501.8 26.2 498.6 25.1M512.5 26.5Q514.4 24.1 515.9 21.5M512.5 26.5Q511.0 24.0 509.4 21.5M524.9 34.9Q528.9 35.6 533.0 36.1M524.9 34.9Q527.1 33.3 529.0 31.4" fill="none" stroke="#4E7E9F" stroke-width="0.9" stroke-linecap="round"/>
<path d="M532.1 43.6Q533.7 45.2 535.9 46.3M535.9 46.3Q536.5 47.5 537.1 48.6M535.9 46.3Q537.6 46.6 539.1 47.3M532.1 43.6Q534.7 43.3 537.0 42.3M537.0 42.3Q538.6 42.2 540.2 42.1M537.0 42.3Q538.1 41.2 539.2 40.2M532.8 38.2Q535.4 38.4 538.0 38.2M538.0 38.2Q539.3 38.8 540.8 39.1M532.8 38.2Q534.8 36.7 536.8 35.1M536.8 35.1Q538.8 34.7 540.9 34.2M536.8 35.1Q537.2 33.8 538.0 32.7M520.4 39.4Q522.1 41.7 523.1 44.3M523.1 44.3Q522.5 46.3 522.7 48.5M523.1 44.3Q524.9 45.6 527.0 46.5M516.3 53.6Q514.0 54.7 511.6 55.7M511.6 55.7Q510.1 55.9 508.6 56.2M511.6 55.7Q511.0 56.9 510.2 57.9M516.3 53.6Q516.2 55.7 515.9 57.8M515.9 57.8Q514.9 58.9 513.7 59.9M515.9 57.8Q516.2 59.1 517.0 60.4M523.3 51.5Q523.8 53.0 524.4 54.4M524.4 54.4Q524.4 55.4 524.3 56.4M524.4 54.4Q525.7 54.9 526.8 55.6M523.3 51.5Q525.1 52.1 527.0 52.6M527.0 52.6Q527.5 53.5 528.2 54.2M527.0 52.6Q528.1 52.4 529.3 52.2M516.6 44.2Q515.9 46.8 516.0 49.4M516.0 49.4Q514.8 50.7 514.1 52.2M516.0 49.4Q517.8 50.8 519.4 52.4M497.5 50.6Q495.0 49.6 492.4 48.7M492.4 48.7Q491.3 47.8 490.0 47.1M492.4 48.7Q490.7 48.8 489.0 49.2M497.5 50.6Q495.2 51.5 493.4 52.9M493.4 52.9Q492.0 53.0 490.6 53.4M493.4 52.9Q492.9 54.3 491.9 55.5M507.5 55.9Q506.8 58.4 506.0 60.9M506.0 60.9Q504.9 62.1 504.0 63.4M506.0 60.9Q506.6 62.8 507.7 64.5M507.5 55.9Q509.6 57.8 511.5 59.8M511.5 59.8Q511.5 61.8 511.0 63.8M509.2 45.5Q511.4 47.8 514.0 49.8M514.0 49.8Q514.0 51.7 514.5 53.5M514.0 49.8Q516.4 50.0 518.7 50.5M490.0 43.9Q488.3 42.5 486.6 41.1M486.6 41.1Q486.7 39.7 486.8 38.3M490.0 43.9Q487.5 44.8 485.1 45.9M485.1 45.9Q483.4 45.5 481.7 45.3M485.1 45.9Q484.2 47.0 483.6 48.3M491.6 50.6Q488.1 51.1 484.5 51.0M484.5 51.0Q483.1 49.8 481.5 48.7M491.6 50.6Q491.3 53.0 490.2 55.3M490.2 55.3Q488.5 56.0 486.7 56.4M490.2 55.3Q491.1 56.7 492.1 58.1M491.3 32.4Q489.9 30.0 489.5 27.4M489.5 27.4Q490.2 25.7 490.1 23.8M489.5 27.4Q487.7 26.1 485.5 25.3M491.3 32.4Q488.8 32.5 486.4 31.8M486.4 31.8Q485.7 30.8 484.8 29.8M492.3 38.5Q490.1 38.3 487.9 38.6M487.9 38.6Q486.6 37.8 485.6 36.8M487.9 38.6Q486.7 39.5 485.3 40.2M492.3 38.5Q490.9 39.6 489.5 40.8M489.5 40.8Q488.1 40.8 486.7 40.7M489.5 40.8Q489.1 41.7 488.6 42.5M503.9 36.5Q501.0 37.8 498.1 39.1M498.1 39.1Q496.3 38.8 494.5 38.3M498.1 39.1Q497.0 40.5 495.6 41.7M508.1 21.9Q510.5 20.8 513.1 20.1M513.1 20.1Q515.1 20.5 517.1 20.9M513.1 20.1Q514.4 18.9 515.9 18.1M508.1 21.9Q507.1 19.4 506.9 16.9M506.9 16.9Q508.1 15.7 508.9 14.4M498.6 25.1Q496.9 23.6 495.6 21.9M495.6 21.9Q496.0 20.5 496.3 19.0M498.6 25.1Q496.6 25.2 494.6 25.3M494.6 25.3Q493.4 24.8 492.4 24.0M515.9 21.5Q517.7 20.8 519.5 20.2M519.5 20.2Q520.7 20.5 521.9 20.8M519.5 20.2Q520.5 19.2 521.1 18.0M515.9 21.5Q515.1 19.8 514.9 18.1M514.9 18.1Q515.3 17.2 515.9 16.3M509.4 21.5Q510.2 19.5 510.5 17.4M510.5 17.4Q511.8 16.3 513.0 15.3M509.4 21.5Q507.6 20.6 506.1 19.4M506.1 19.4Q505.8 18.4 505.9 17.4M533.0 36.1Q535.2 37.6 536.7 39.5M536.7 39.5Q536.6 40.8 536.3 42.1M536.7 39.5Q539.0 39.8 541.2 39.8M533.0 36.1Q536.1 35.4 539.2 34.9M539.2 34.9Q541.3 35.5 543.5 35.6M529.0 31.4Q530.9 30.5 532.9 29.7M532.9 29.7Q534.2 29.8 535.5 29.9M529.0 31.4Q529.1 29.7 529.3 28.0M529.3 28.0Q530.4 27.3 531.3 26.5M529.3 28.0Q528.9 27.0 528.8 25.9" fill="none" stroke="#4E7E9F" stroke-width="0.6" stroke-linecap="round"/>
<ellipse cx="512.0" cy="38.6" rx="5" ry="3.9" fill="#3F7091" transform="rotate(-15 512.0 38.6)"/>
<ellipse cx="511.7" cy="38.7" rx="2.6" ry="2" fill="#2A5170" transform="rotate(-15 512.0 38.6)"/>
<line x1="547.00" y1="39.40" x2="565.00" y2="39.40" stroke="#111" stroke-width="0.7"/>
<path d="M567.4 39.4L563.6 37.9L563.6 40.9Z" fill="#111"/>
<path d="M584.6 15.6C587 20 589 25 592 28.5L595.3 29.2Q596.4 26.2 597.6 25.4Q598.4 28 599.6 31C603 33.5 607 33 610 32L612 28.4L613.3 31C617 28.5 621 26 625.2 22.8C621.6 27.6 617.6 31 614 33.6L616.6 34.6L613.5 36.2C611 40 610.5 46 612.5 50C614.5 54 616.5 57 618.8 60C615.5 58.6 613 56.6 611.5 55L612.4 59.6L609.8 55.4C606 53 600 53 596 54.5C593 57.5 591 60.5 588.2 63.8C588.4 59 589.5 54 589.5 50.5C588 48.5 585 48 582.5 48.6L580.4 52.2L580 49.6C576 51 573 52.8 569.6 54.6C573 51 577 48 580.5 45.5L578.4 43L582.5 42C586 40 589 36 589 32C587.5 27 586 21 584.6 15.6Z" fill="#4A7C9D" stroke="#4A7C9D" stroke-width="1.5" stroke-linejoin="round"/>
<ellipse cx="598.6" cy="43" rx="5.6" ry="4.4" fill="#305A78" transform="rotate(30 598.6 43)"/>
<ellipse cx="599.4" cy="42.4" rx="2.8" ry="1.7" fill="#23435E" transform="rotate(35 599.4 42.4)"/>
</g>
<g id="ph">
<text transform="translate(441.75 93.6) scale(1.14 1)" font-size="33.5" fill="#000">h</text>
<line x1="454.50" y1="259.80" x2="454.50" y2="102.00" stroke="#333" stroke-width="0.7"/>
<path d="M454.5 98.8L453 103.2L456 103.2Z" fill="#222"/>
<line x1="476.40" y1="268.80" x2="562.00" y2="268.80" stroke="#333" stroke-width="0.8"/>
<path d="M564.8 268.8L560.4 267.2L560.4 270.4Z" fill="#222"/>
<text transform="translate(450.2 163) rotate(-90) scale(1.06 1)" text-anchor="middle" font-size="13.4" fill="#111">CD11b</text>
<text transform="translate(527.4 281.3) scale(1.16 1)" text-anchor="middle" font-size="13.7" fill="#111">CD45</text>
<text x="468.2" y="130.6" font-size="10.6" text-anchor="middle" style="font-family:'Liberation Serif',serif" fill="#111" transform="rotate(-90 468.2 130.6)">Flea-</text>
<text x="468.2" y="219" font-size="10.6" text-anchor="middle" style="font-family:'Liberation Serif',serif" fill="#111" transform="rotate(-90 468.2 219)">Flea+</text>
<g transform="translate(486.5 94)">
<rect x="0.00" y="0.00" width="78.00" height="67.10" fill="#fff" stroke="#3a3a3a" stroke-width="0.55"/>
<path d="M29.1 55.7h.5M28.3 50.5h.5M26.1 47.2h.5M21.7 36.8h.5M24.7 26.5h.5M32.3 58.4h.5M29.3 55.2h.5M28.6 55.0h.5M27.7 41.9h.5M31.2 56.8h.5M37.8 51.7h.5M31.7 50.5h.5M40.2 50.9h.5M25.5 31.7h.5M26.0 53.2h.5M28.5 50.1h.5M26.4 47.0h.5M24.3 39.6h.5M48.4 15.3h.5M36.9 52.1h.5M45.8 29.6h.5M23.7 38.9h.5M37.2 52.2h.5M31.4 55.5h.5M32.7 54.5h.5M42.1 29.1h.5M30.2 52.5h.5M44.2 40.7h.5M26.6 27.8h.5M44.0 26.6h.5M28.4 48.0h.5M25.9 26.4h.5M37.8 12.0h.5M24.2 21.3h.5M28.7 49.9h.5M36.8 57.1h.5M25.8 42.9h.5M26.4 31.8h.5M25.6 51.5h.5M22.0 20.7h.5M24.0 25.3h.5M22.4 27.8h.5M57.4 16.4h.5M36.5 53.8h.5M40.8 41.2h.5M65.7 11.0h.5M41.2 39.7h.5M38.5 49.9h.5M42.6 35.6h.5M25.5 52.5h.5M25.4 50.9h.5M36.3 50.2h.5M24.3 35.9h.5M21.7 37.5h.5M36.3 51.8h.5M32.2 57.8h.5M28.3 54.6h.5M67.1 12.8h.5M49.0 16.9h.5M55.8 20.2h.5M62.5 9.9h.5M57.3 57.5h.5M62.3 12.1h.5M60.8 17.7h.5M32.5 53.2h.5M39.3 11.4h.5M38.9 13.4h.5M34.5 8.9h.5M29.3 55.5h.5M30.3 53.5h.5M24.4 51.6h.5M28.6 47.2h.5M41.7 13.0h.5M64.5 7.9h.5M47.6 13.6h.5M42.5 25.5h.5M27.7 31.3h.5M41.3 41.5h.5M32.0 14.7h.5M37.9 11.3h.5M46.5 14.5h.5M26.5 34.9h.5M26.4 34.6h.5M51.3 18.3h.5M26.0 19.2h.5M20.5 24.2h.5M32.6 15.2h.5M50.0 14.4h.5M40.5 51.5h.5M48.4 21.3h.5M41.5 34.1h.5M28.0 13.5h.5M29.3 53.7h.5M41.9 28.8h.5M65.7 35.0h.5M70.9 52.6h.5M69.0 52.1h.5M69.1 50.9h.5M60.5 35.8h.5M40.7 44.6h.5M26.4 51.3h.5M35.5 52.6h.5M45.6 14.7h.5M40.9 41.7h.5M36.3 3.4h.5M28.3 17.1h.5M66.3 33.3h.5M69.7 31.6h.5M66.0 38.8h.5M36.1 51.7h.5M34.1 55.5h.5M26.0 33.4h.5M26.1 13.2h.5M35.0 8.9h.5M24.7 16.4h.5M45.2 38.6h.5M25.2 42.5h.5M26.1 38.4h.5M28.0 28.9h.5M37.1 11.8h.5M25.6 51.2h.5M45.9 38.1h.5M33.4 51.6h.5M48.5 10.5h.5M42.0 25.8h.5M39.8 10.9h.5M31.1 14.8h.5M45.0 23.4h.5M26.9 7.1h.5M46.7 40.6h.5M26.6 42.9h.5M42.3 59.1h.5M49.0 19.8h.5M28.2 57.8h.5M38.8 48.8h.5M23.1 25.9h.5M48.3 20.0h.5M41.0 47.9h.5M34.0 58.6h.5M34.9 53.0h.5M34.5 13.3h.5M38.0 13.2h.5M37.0 52.4h.5M46.1 14.5h.5M30.2 51.7h.5M36.2 56.1h.5M41.4 45.9h.5M29.0 17.7h.5M25.8 28.4h.5M38.6 7.6h.5M36.8 53.1h.5M42.5 25.6h.5M30.7 16.4h.5M36.5 54.2h.5M35.6 9.6h.5M40.2 42.7h.5M23.8 49.5h.5M36.1 52.9h.5M22.3 21.3h.5M50.1 34.6h.5M44.4 40.2h.5M36.4 53.1h.5M41.7 26.3h.5M23.1 46.0h.5M30.9 13.6h.5M45.7 13.9h.5M60.8 13.3h.5M23.8 51.7h.5M32.0 4.8h.5M26.0 47.3h.5M26.2 63.0h.5M40.1 51.8h.5M25.4 27.1h.5M41.3 45.5h.5M30.3 53.3h.5M51.8 17.1h.5M41.6 13.8h.5M40.5 12.3h.5M65.1 42.4h.5M54.3 18.4h.5M50.8 12.0h.5M62.7 20.6h.5M64.4 14.4h.5M52.3 10.8h.5M56.3 15.0h.5M63.6 50.4h.5M20.8 31.7h.5M44.2 35.6h.5M43.9 29.4h.5M45.8 12.6h.5M33.8 15.1h.5M34.5 9.6h.5M31.7 4.9h.5M47.6 21.3h.5M45.0 8.7h.5M23.3 20.5h.5M47.9 32.7h.5M17.7 28.3h.5M44.5 38.1h.5M37.7 12.2h.5M24.7 36.0h.5M54.7 14.4h.5M65.1 64.3h.5M69.0 32.6h.5M65.0 46.9h.5M56.8 50.5h.5M67.4 36.6h.5M40.4 55.0h.5M25.6 53.0h.5M43.2 9.8h.5M39.7 11.0h.5M28.5 60.2h.5M20.5 26.7h.5M30.2 15.5h.5M43.8 52.8h.5M42.5 27.9h.5M52.0 3.3h.5M42.8 41.0h.5M26.9 30.5h.5M37.5 49.3h.5M49.4 28.0h.5M44.6 24.8h.5M60.7 5.8h.5M44.5 37.4h.5M37.7 13.0h.5M47.4 22.7h.5M26.7 41.1h.5M37.9 13.7h.5M29.6 58.8h.5M22.7 37.7h.5M44.3 32.4h.5M22.0 23.1h.5M24.8 20.3h.5M46.3 44.8h.5M27.6 40.5h.5M30.6 54.7h.5M44.2 50.2h.5M42.4 52.3h.5M31.6 5.1h.5M42.6 33.4h.5M35.9 56.0h.5M39.7 12.0h.5M37.2 11.2h.5M43.7 40.2h.5M30.3 15.2h.5M43.4 47.9h.5M60.6 41.6h.5M42.1 40.2h.5M26.5 41.8h.5M41.8 43.1h.5M43.3 36.0h.5M39.3 8.7h.5M33.7 9.7h.5M28.3 50.1h.5M38.8 14.4h.5M43.3 29.0h.5M43.1 9.2h.5M67.7 12.1h.5M67.0 55.4h.5M55.0 48.0h.5M31.9 62.2h.5M47.9 21.8h.5M42.2 43.1h.5M25.8 26.4h.5M31.6 54.8h.5M23.4 25.0h.5M38.6 7.7h.5M43.1 14.3h.5M24.3 45.1h.5M50.0 16.6h.5M24.2 33.1h.5M25.4 43.3h.5M40.2 12.1h.5M53.1 6.9h.5M48.2 20.0h.5M58.8 9.4h.5M55.0 11.2h.5M29.6 55.0h.5M43.2 11.1h.5M33.9 10.6h.5M65.0 18.5h.5M24.6 14.7h.5M43.4 45.1h.5M33.1 59.7h.5M38.1 48.4h.5M29.0 53.9h.5M45.4 11.6h.5M52.7 15.7h.5M45.8 5.0h.5M59.5 12.8h.5M49.9 15.4h.5M60.7 6.2h.5M37.8 8.1h.5M56.8 17.7h.5M60.3 11.2h.5M21.8 38.7h.5M34.3 12.8h.5M31.0 54.6h.5M53.1 14.5h.5M26.3 41.0h.5M28.1 49.3h.5M49.3 17.2h.5M30.9 53.4h.5M26.1 48.4h.5M52.9 8.7h.5M52.8 8.8h.5M51.4 14.9h.5M55.4 10.8h.5M58.3 16.1h.5M41.7 13.4h.5M62.1 17.0h.5M63.3 17.3h.5M55.4 14.8h.5M59.6 10.2h.5M60.7 54.2h.5M68.9 31.5h.5M66.4 53.1h.5M66.5 60.1h.5M61.0 49.3h.5M67.3 34.4h.5M62.5 45.4h.5M59.2 44.3h.5M64.3 10.5h.5M66.1 60.3h.5M62.6 39.1h.5M61.6 37.6h.5M54.3 44.5h.5M56.1 53.7h.5M63.9 47.6h.5M60.7 4.5h.5M71.8 7.7h.5M53.9 10.2h.5M52.5 22.9h.5M47.8 15.0h.5M56.6 8.6h.5M53.6 22.4h.5M70.4 49.6h.5M51.3 16.4h.5M62.6 20.3h.5M61.8 2.6h.5M58.7 9.6h.5M52.5 10.0h.5M56.7 18.4h.5M47.8 10.5h.5M33.0 14.1h.5M36.1 52.5h.5M29.0 18.1h.5M42.4 33.0h.5M30.9 16.7h.5M27.9 45.1h.5M27.3 33.0h.5M29.9 48.8h.5M33.3 53.0h.5M44.3 21.6h.5M28.4 39.5h.5M28.8 33.8h.5M35.7 49.7h.5M30.3 49.5h.5M43.6 14.9h.5M28.2 29.4h.5M44.2 14.3h.5M26.4 27.1h.5M32.0 51.1h.5M42.6 24.8h.5M27.4 38.1h.5M28.4 26.6h.5M28.9 43.0h.5M41.2 26.5h.5M44.6 21.6h.5M41.7 35.2h.5M46.1 15.1h.5M40.5 40.1h.5M30.3 47.7h.5M27.6 42.6h.5M43.5 15.0h.5M28.2 30.7h.5M27.8 32.7h.5M28.1 31.2h.5M28.6 44.6h.5M46.6 16.0h.5M37.2 13.3h.5M33.2 52.4h.5M29.6 47.4h.5M41.5 28.9h.5M36.7 49.6h.5M40.7 25.7h.5M27.0 26.4h.5M36.9 50.5h.5M47.8 19.1h.5M27.6 32.7h.5M24.1 21.2h.5M29.2 38.3h.5M42.4 30.9h.5M28.0 38.7h.5M48.4 18.6h.5M28.5 40.6h.5M40.3 40.8h.5M24.2 24.7h.5M40.0 41.8h.5M38.7 43.6h.5M38.2 48.1h.5M48.8 17.4h.5M35.8 12.9h.5M46.0 21.0h.5M30.5 17.6h.5M31.5 50.2h.5M27.8 46.7h.5M41.7 15.0h.5M28.2 31.9h.5M41.3 14.8h.5M27.3 43.2h.5M40.3 38.3h.5M40.9 29.6h.5M27.4 36.7h.5M41.2 29.2h.5M40.8 35.7h.5M31.2 51.4h.5M43.3 15.5h.5M35.6 51.3h.5M25.3 22.8h.5M29.3 46.2h.5M48.5 16.2h.5M49.5 15.9h.5M29.3 18.5h.5M41.8 24.4h.5M42.3 27.1h.5M30.0 32.1h.5M39.4 41.7h.5M39.4 45.4h.5M32.0 49.8h.5M29.7 41.6h.5M30.4 45.3h.5M29.3 30.2h.5" stroke="#2B4BDE" stroke-width="0.5" fill="none"/>
<path d="M30.0 46.2h.5M42.1 14.7h.5M39.2 41.1h.5M40.4 25.0h.5M41.2 36.5h.5M28.2 19.4h.5M40.2 40.9h.5M29.5 46.0h.5M32.2 16.3h.5M47.2 18.1h.5M33.0 49.7h.5M44.7 15.0h.5M38.3 46.4h.5M39.1 44.8h.5M45.9 20.5h.5M37.9 47.5h.5M29.6 34.9h.5M29.3 44.0h.5M30.8 17.7h.5M39.1 40.7h.5M38.5 14.3h.5M48.2 18.6h.5M32.1 49.2h.5M29.1 46.1h.5M46.3 16.1h.5M37.8 45.6h.5M46.5 19.8h.5M28.5 39.6h.5M32.1 48.8h.5M38.1 46.4h.5M29.1 27.8h.5M33.8 13.6h.5M45.4 20.7h.5M40.4 14.3h.5M48.6 17.0h.5M39.5 45.2h.5M39.5 42.6h.5M29.8 34.7h.5M33.6 16.3h.5M28.2 27.3h.5M29.0 26.9h.5M28.5 18.4h.5M31.5 48.2h.5M28.8 19.0h.5M29.9 44.9h.5M42.4 23.3h.5M29.3 27.8h.5M41.7 23.0h.5M43.3 23.2h.5M29.8 37.2h.5M34.8 46.4h.5M30.4 28.5h.5M40.1 38.4h.5M30.2 49.1h.5M33.8 16.4h.5M29.4 46.7h.5M28.9 28.2h.5M40.2 26.6h.5M29.7 40.1h.5M37.4 46.9h.5M29.4 42.0h.5M34.1 47.8h.5M40.7 33.3h.5M47.9 18.6h.5M28.4 38.1h.5M29.2 44.6h.5M29.2 44.0h.5M25.9 22.0h.5M39.1 44.6h.5M43.6 15.7h.5M27.2 20.0h.5M41.7 15.1h.5M25.5 21.3h.5M37.7 49.2h.5M36.7 49.7h.5M34.2 50.3h.5M38.7 14.7h.5M28.3 36.7h.5M38.3 46.9h.5M35.4 46.8h.5M41.2 28.4h.5M48.4 17.3h.5M38.4 45.2h.5M41.2 33.8h.5M33.7 17.3h.5M34.8 48.0h.5M30.2 30.0h.5M41.0 31.3h.5M29.2 19.1h.5M26.9 25.9h.5M32.6 49.6h.5M40.5 30.4h.5M34.7 50.6h.5M40.5 29.0h.5M26.1 20.8h.5M31.8 49.9h.5M37.3 47.8h.5M35.0 51.4h.5M34.7 15.2h.5M29.9 41.8h.5M44.8 15.4h.5M34.7 14.4h.5M35.1 46.3h.5M40.0 35.7h.5M46.9 15.8h.5M40.6 31.8h.5M29.7 18.4h.5M38.5 46.0h.5M46.6 17.4h.5M42.6 23.2h.5M47.3 16.6h.5M41.0 36.4h.5M41.0 25.4h.5M37.6 15.3h.5M30.0 29.7h.5M24.6 23.4h.5M35.1 16.2h.5M29.7 44.0h.5M34.2 50.6h.5M27.9 20.1h.5M35.6 50.7h.5M46.2 19.2h.5M37.8 44.3h.5M29.0 43.5h.5M36.5 46.0h.5M43.6 21.6h.5M45.6 16.1h.5M36.4 14.8h.5M25.7 26.5h.5M45.1 15.9h.5M34.7 16.4h.5M39.6 14.8h.5M30.7 42.4h.5M35.4 47.2h.5M40.6 27.6h.5M33.0 49.7h.5M44.3 20.9h.5" stroke="#3269E1" stroke-width="0.5" fill="none"/>
<path d="M39.5 37.6h.5M47.5 18.4h.5M29.5 36.4h.5M29.6 40.5h.5M29.0 37.8h.5M29.3 48.6h.5M30.4 46.2h.5M26.0 24.5h.5M32.4 17.7h.5M40.2 36.9h.5M29.7 39.4h.5M40.2 32.3h.5M45.3 21.1h.5M39.9 27.2h.5M41.1 27.4h.5M34.6 48.8h.5M31.4 46.6h.5M36.6 15.4h.5M30.6 40.2h.5M37.5 46.8h.5M33.9 51.0h.5M30.4 35.8h.5M35.8 43.6h.5M29.9 29.6h.5M32.7 46.8h.5M33.6 16.6h.5M30.3 29.1h.5M32.8 17.2h.5M47.5 15.9h.5M35.2 15.6h.5M45.3 16.3h.5M33.4 47.8h.5M39.9 25.9h.5M27.4 19.8h.5M30.6 34.0h.5M37.6 41.3h.5M30.4 30.1h.5M29.8 31.6h.5M45.4 21.1h.5M30.0 28.8h.5M29.2 25.9h.5M34.4 47.0h.5M43.2 21.9h.5M34.4 49.4h.5M45.2 16.8h.5M40.8 23.7h.5M29.7 42.8h.5M28.6 38.2h.5M29.8 42.4h.5M29.4 35.8h.5M29.9 29.8h.5M40.2 31.9h.5M40.2 33.0h.5M40.1 40.0h.5M25.2 23.2h.5M40.3 15.3h.5M33.1 16.9h.5M39.6 26.5h.5M30.9 43.5h.5M35.0 15.6h.5M45.7 19.6h.5M44.2 15.9h.5M39.1 26.2h.5M29.5 26.5h.5M39.6 32.4h.5M30.3 43.8h.5M39.8 26.4h.5M34.4 16.5h.5M29.7 36.3h.5M35.6 47.9h.5M35.4 47.5h.5M29.4 18.9h.5M27.1 25.6h.5M30.0 26.6h.5M34.8 16.5h.5M39.5 36.9h.5M30.8 42.8h.5M37.6 42.6h.5M26.7 22.4h.5M32.2 25.5h.5M35.6 15.9h.5M40.5 23.5h.5M40.0 29.4h.5M39.3 37.5h.5M31.4 26.3h.5M39.1 15.9h.5M29.0 39.5h.5M46.4 18.0h.5M31.6 48.6h.5M29.8 33.1h.5M32.8 47.7h.5M33.6 49.8h.5M29.6 31.8h.5M32.9 46.7h.5M33.5 47.1h.5M40.7 16.0h.5M39.5 36.7h.5M46.7 18.8h.5M35.4 49.2h.5M29.8 40.1h.5M30.5 30.7h.5M33.8 48.7h.5M31.0 44.4h.5M36.7 46.1h.5M38.9 26.6h.5M39.6 33.7h.5M29.6 37.2h.5M30.3 26.8h.5M39.9 37.0h.5M34.9 48.2h.5M31.7 45.9h.5M39.5 39.9h.5M35.6 47.2h.5M43.4 16.3h.5M26.2 23.4h.5M26.0 24.3h.5M30.0 25.6h.5M43.7 16.7h.5M37.7 43.7h.5M28.9 36.8h.5M32.9 46.3h.5M27.2 20.8h.5M29.2 25.2h.5M25.2 23.5h.5M39.2 27.4h.5M41.1 23.6h.5M30.2 40.6h.5M30.3 27.0h.5M26.6 22.1h.5M37.3 43.1h.5M39.4 28.6h.5M46.5 18.5h.5M42.9 16.4h.5M29.9 38.5h.5M40.8 29.9h.5M35.0 47.0h.5M39.5 38.7h.5M37.7 15.9h.5M39.0 38.0h.5M39.4 24.3h.5M43.1 21.6h.5M45.9 17.1h.5M31.0 31.4h.5M27.0 21.7h.5M32.9 45.3h.5M32.6 49.3h.5M30.9 30.6h.5M30.8 29.8h.5M35.2 16.6h.5M46.9 18.2h.5M36.6 15.4h.5M40.0 33.5h.5M36.6 44.3h.5M33.1 17.0h.5M32.7 17.4h.5M27.6 23.8h.5M39.8 33.2h.5M30.9 41.7h.5M39.6 37.4h.5M42.0 16.3h.5M28.6 25.3h.5M31.5 45.8h.5M40.6 38.4h.5M39.3 27.2h.5M28.7 26.1h.5M26.9 21.8h.5M30.4 36.5h.5M41.7 22.9h.5M33.7 47.8h.5M31.4 27.4h.5M31.0 33.9h.5M35.6 47.5h.5M45.8 20.3h.5M37.7 42.4h.5M33.7 46.5h.5M27.0 23.3h.5M40.3 31.1h.5M29.5 19.2h.5M39.6 29.0h.5M38.7 37.0h.5M32.8 25.4h.5" stroke="#3987E4" stroke-width="0.5" fill="none"/>
<path d="M28.2 24.3h.5M30.2 40.1h.5M41.1 23.0h.5M26.7 23.5h.5M32.2 29.4h.5M45.7 16.4h.5M43.9 20.8h.5M37.9 40.6h.5M30.1 40.1h.5M30.3 39.7h.5M38.6 42.3h.5M39.5 28.0h.5M40.3 31.4h.5M46.3 18.6h.5M38.7 36.1h.5M27.1 20.5h.5M34.5 47.8h.5M37.0 44.3h.5M40.3 28.9h.5M31.7 28.5h.5M45.8 19.2h.5M30.7 27.1h.5M38.8 38.6h.5M30.7 29.9h.5M31.4 44.7h.5M39.7 36.7h.5M27.7 22.3h.5M35.6 45.3h.5M45.2 19.8h.5M39.0 27.5h.5M31.3 29.9h.5M29.5 35.5h.5M39.3 28.3h.5M39.3 39.8h.5M26.8 24.6h.5M30.2 35.1h.5M35.9 48.1h.5M31.1 34.1h.5M30.5 43.1h.5M32.7 50.3h.5M40.5 23.4h.5M33.2 45.3h.5M35.0 45.1h.5M46.9 18.1h.5M39.9 32.1h.5M29.9 40.3h.5M28.5 23.6h.5M30.8 45.8h.5M39.3 39.5h.5M31.0 37.9h.5M39.2 37.2h.5M39.3 28.6h.5M32.4 29.3h.5M30.1 39.4h.5M26.9 21.2h.5M41.0 15.6h.5M32.6 26.6h.5M32.5 44.1h.5M30.2 30.4h.5M26.6 22.1h.5M40.0 29.5h.5M43.0 15.8h.5M34.3 46.8h.5M39.7 25.1h.5M30.4 36.5h.5M38.3 42.4h.5M31.9 44.2h.5M39.2 32.7h.5M40.4 34.3h.5M38.0 26.2h.5M27.1 24.8h.5M40.3 23.1h.5M44.3 20.5h.5M32.6 17.2h.5M31.5 28.9h.5M30.8 37.3h.5M32.7 45.1h.5M32.4 27.8h.5M26.3 23.3h.5M31.8 17.4h.5M27.5 25.0h.5M41.5 22.8h.5M32.2 41.1h.5M36.4 44.8h.5M31.5 41.7h.5M30.6 45.1h.5M33.0 17.2h.5M30.9 29.3h.5M30.6 39.1h.5M39.6 36.9h.5M44.3 16.2h.5M31.4 33.6h.5M42.6 16.8h.5M39.5 28.7h.5M32.5 44.6h.5M32.0 38.9h.5M39.9 24.0h.5M39.4 34.7h.5M39.1 34.7h.5M30.3 36.1h.5M27.1 22.4h.5M26.3 23.7h.5M31.4 42.5h.5M29.3 19.4h.5M31.3 18.8h.5M36.2 16.0h.5M31.5 38.8h.5M32.5 27.6h.5M42.3 21.7h.5M37.1 44.2h.5M37.1 16.0h.5M31.4 32.9h.5M31.5 29.3h.5M38.5 37.6h.5M34.8 42.5h.5M41.9 22.3h.5M37.7 43.8h.5M39.0 34.3h.5M33.6 47.5h.5M39.7 23.4h.5M28.7 21.3h.5M31.1 43.6h.5M36.6 43.5h.5M25.9 22.5h.5M39.4 29.1h.5M40.7 22.9h.5M36.3 42.3h.5M31.3 33.5h.5M31.5 38.7h.5M25.5 23.1h.5M32.2 44.5h.5M32.0 18.1h.5M35.1 44.8h.5M31.6 25.9h.5M33.7 42.2h.5M27.3 22.1h.5M39.3 26.7h.5M36.9 41.7h.5M35.2 16.5h.5M41.1 16.0h.5M37.2 16.8h.5M36.3 44.9h.5M26.8 22.3h.5M31.8 40.0h.5M31.1 31.7h.5M34.2 17.8h.5M38.1 40.1h.5M32.8 28.3h.5M40.9 23.0h.5M40.2 23.2h.5M30.8 24.1h.5M33.1 29.8h.5M38.5 38.2h.5M41.7 21.6h.5M29.6 24.7h.5M27.9 21.1h.5M33.6 16.9h.5M45.6 18.4h.5M39.4 24.6h.5M30.6 29.4h.5M44.2 16.2h.5M32.0 28.9h.5M36.1 16.8h.5M38.9 29.6h.5M28.2 21.0h.5M37.7 16.5h.5M39.3 26.2h.5M36.0 48.7h.5M40.0 23.5h.5M34.6 45.2h.5M36.8 16.5h.5M27.9 21.7h.5M32.5 28.5h.5M35.6 44.5h.5M31.5 24.4h.5M39.0 26.9h.5M34.7 41.8h.5M42.3 21.8h.5M42.2 16.5h.5M38.0 38.8h.5M31.3 36.2h.5M32.6 29.3h.5M33.0 42.1h.5M38.4 38.7h.5M32.5 40.8h.5M37.9 15.9h.5M31.7 27.3h.5M36.5 16.5h.5M38.7 28.4h.5M31.5 30.2h.5M28.0 21.1h.5M31.6 29.6h.5M34.4 43.9h.5M31.8 31.3h.5M33.5 45.7h.5M38.9 40.0h.5M45.7 17.7h.5M41.3 22.2h.5M33.4 18.1h.5M32.2 42.7h.5M31.6 35.6h.5M32.4 26.8h.5M36.4 42.8h.5M37.5 29.8h.5M38.2 39.4h.5M32.3 44.4h.5M44.4 17.6h.5M42.7 16.1h.5M37.6 38.7h.5M32.3 42.7h.5M46.1 17.8h.5M31.0 34.7h.5M38.3 35.9h.5M32.4 43.2h.5M39.1 30.3h.5M28.9 20.2h.5M26.6 22.2h.5M41.0 22.6h.5M33.0 42.5h.5M28.5 21.6h.5M38.8 32.1h.5M27.2 23.5h.5M38.4 37.1h.5M42.0 21.4h.5M31.9 39.4h.5M32.0 28.7h.5M36.2 43.7h.5M36.9 41.7h.5M39.5 25.8h.5M35.6 43.2h.5M31.8 35.5h.5M37.9 34.9h.5M37.8 40.1h.5" stroke="#3E9ED3" stroke-width="0.5" fill="none"/>
<path d="M31.3 36.6h.5M39.0 31.0h.5M37.6 25.1h.5M42.7 17.1h.5M37.6 16.3h.5M39.3 24.4h.5M37.7 39.5h.5M32.1 25.7h.5M45.4 18.0h.5M35.3 40.3h.5M33.3 44.0h.5M34.5 42.6h.5M30.4 25.5h.5M37.6 38.4h.5M39.1 15.7h.5M33.4 41.3h.5M34.8 45.8h.5M39.6 16.4h.5M31.7 33.6h.5M39.4 24.1h.5M33.6 43.5h.5M32.3 27.1h.5M36.7 42.4h.5M32.7 25.2h.5M32.6 44.7h.5M27.6 23.5h.5M38.0 38.2h.5M31.4 26.2h.5M38.1 29.2h.5M28.1 22.6h.5M38.9 28.1h.5M31.7 24.7h.5M35.5 42.6h.5M27.1 23.8h.5M38.0 31.0h.5M27.1 24.1h.5M29.3 24.8h.5M28.9 21.2h.5M27.5 23.5h.5M31.8 35.6h.5M37.5 37.1h.5M36.5 42.1h.5M38.0 36.9h.5M31.4 38.7h.5M31.4 31.1h.5M38.5 29.7h.5M38.6 31.1h.5M32.5 36.9h.5M34.1 40.3h.5M35.2 45.2h.5M33.7 45.3h.5M30.9 40.8h.5M29.9 19.2h.5M42.0 21.4h.5M28.9 21.5h.5M37.2 43.2h.5M37.5 25.6h.5M31.2 37.5h.5M34.9 42.8h.5M31.4 34.1h.5M37.6 40.6h.5M38.3 25.9h.5M39.2 26.6h.5M28.1 21.8h.5M32.3 33.5h.5M30.4 38.2h.5M33.8 27.5h.5M38.6 24.8h.5M38.6 32.4h.5M27.4 24.2h.5M42.0 21.8h.5M28.0 21.3h.5M44.0 16.7h.5M33.9 41.6h.5M32.2 26.7h.5M32.6 44.7h.5M32.9 27.2h.5M31.7 33.8h.5M30.3 39.2h.5M29.9 20.3h.5M33.5 17.4h.5M31.8 39.0h.5M39.6 16.1h.5M39.3 24.0h.5M39.7 32.8h.5M37.8 30.4h.5M36.3 42.3h.5M37.6 36.0h.5M38.7 29.1h.5M32.8 45.0h.5M33.4 45.3h.5M28.8 24.0h.5M38.7 36.1h.5M31.6 36.4h.5M37.8 42.9h.5M32.9 28.7h.5M37.9 25.3h.5M29.2 24.7h.5M34.3 45.7h.5M37.1 42.8h.5M39.5 28.9h.5M32.9 40.1h.5M35.7 42.1h.5M28.1 23.2h.5M29.5 24.1h.5M32.2 43.2h.5M35.5 45.8h.5M38.1 35.1h.5M31.5 41.1h.5M38.5 33.9h.5M43.6 17.1h.5M35.7 45.5h.5M33.9 41.7h.5M37.5 29.2h.5M31.2 38.6h.5M31.6 25.0h.5M29.5 20.3h.5M33.2 43.5h.5M30.2 41.1h.5M33.6 26.3h.5M32.6 26.2h.5M32.1 28.4h.5M40.2 23.3h.5M37.8 38.3h.5M38.2 36.5h.5M37.1 16.6h.5M37.8 16.4h.5M38.7 39.3h.5M34.6 46.0h.5M32.5 37.3h.5M32.3 33.7h.5M32.9 29.4h.5M35.2 43.0h.5M37.0 43.2h.5M36.7 43.6h.5M32.7 43.6h.5M36.4 44.7h.5M35.8 43.3h.5M32.2 25.5h.5M35.5 44.9h.5M42.1 21.4h.5M31.6 43.6h.5M32.3 31.4h.5M37.6 31.3h.5M32.5 28.9h.5M28.7 21.9h.5M32.8 33.4h.5M34.5 41.5h.5M31.4 38.1h.5M32.4 24.9h.5M31.7 33.7h.5M35.7 43.1h.5M34.1 44.7h.5M28.7 24.6h.5M38.4 33.8h.5M33.5 27.6h.5M33.4 43.1h.5M31.0 19.6h.5M32.2 33.8h.5M37.5 37.7h.5M37.7 31.9h.5M35.4 17.6h.5M38.6 38.9h.5M32.9 42.3h.5M26.5 22.6h.5M36.1 26.5h.5M45.0 17.6h.5M38.2 27.3h.5M32.6 38.2h.5M37.8 41.1h.5M36.7 41.2h.5M32.3 38.7h.5M31.4 36.5h.5M30.4 36.6h.5M32.0 18.5h.5M34.8 17.4h.5M32.0 33.3h.5M37.4 39.8h.5M38.4 33.4h.5M37.3 39.5h.5M32.8 28.0h.5M35.1 44.7h.5M33.4 25.8h.5M41.3 17.0h.5M37.0 25.4h.5M28.7 24.6h.5M38.4 39.0h.5M30.8 38.3h.5M40.6 22.6h.5M32.6 31.6h.5M28.8 21.7h.5M37.5 17.2h.5M35.0 39.9h.5M32.9 41.2h.5M28.0 21.5h.5M32.3 39.2h.5M36.1 45.6h.5M32.0 29.6h.5M32.3 35.0h.5M27.4 23.2h.5M37.4 29.7h.5M30.1 24.4h.5M38.9 25.1h.5M32.1 42.9h.5M36.8 38.0h.5M30.8 36.4h.5M38.5 24.7h.5M33.2 34.8h.5M32.1 33.5h.5M40.2 22.0h.5M29.3 25.0h.5M42.3 21.1h.5M29.8 20.0h.5M33.0 35.8h.5M41.1 21.8h.5M34.7 47.0h.5M43.3 20.7h.5M33.7 24.7h.5M27.2 22.7h.5M27.2 24.2h.5M32.8 25.4h.5M38.0 24.0h.5M28.6 22.4h.5M38.1 29.8h.5M35.3 44.8h.5M29.6 20.5h.5M33.3 30.2h.5M38.0 27.5h.5M40.0 22.4h.5M29.0 23.3h.5M32.8 34.0h.5M32.3 36.5h.5M27.4 21.5h.5M32.2 28.1h.5M36.0 25.7h.5M39.0 25.2h.5M37.9 38.4h.5M37.0 41.3h.5M40.6 21.6h.5M29.7 19.8h.5M34.5 17.4h.5M39.0 16.3h.5M36.5 42.3h.5M36.0 41.1h.5M35.0 43.1h.5M32.0 40.2h.5M38.0 27.0h.5M32.4 28.5h.5M33.9 17.6h.5M29.1 21.8h.5M38.5 33.5h.5M42.2 16.9h.5M35.4 31.5h.5M27.5 21.8h.5M38.8 36.1h.5M28.0 22.9h.5M33.2 27.6h.5M38.2 34.9h.5M43.5 16.6h.5M33.5 43.1h.5M37.5 26.5h.5M37.7 36.4h.5M36.3 39.5h.5M32.5 18.6h.5M30.8 32.3h.5M37.9 25.0h.5M38.0 30.0h.5M39.2 35.8h.5M39.2 30.5h.5M44.6 17.4h.5M43.4 17.0h.5M37.0 29.4h.5M34.3 30.0h.5M34.0 26.3h.5M37.5 37.7h.5M29.9 23.8h.5M36.7 29.1h.5M37.8 38.8h.5M36.3 28.6h.5M28.9 24.2h.5M31.9 28.3h.5M32.9 38.4h.5M43.9 20.1h.5M36.7 38.1h.5M35.8 17.6h.5M33.7 17.8h.5M37.4 24.4h.5M31.2 20.2h.5M36.1 44.2h.5M38.2 31.5h.5M33.2 39.0h.5M32.8 32.6h.5M32.1 32.8h.5M34.5 25.9h.5M37.2 31.9h.5M31.6 41.4h.5M36.0 39.6h.5M32.3 31.4h.5M34.3 18.0h.5M32.1 38.8h.5M33.0 37.6h.5M37.3 34.9h.5M32.1 36.0h.5M31.7 30.7h.5M40.8 22.1h.5M38.9 22.7h.5M37.1 37.2h.5M31.9 29.7h.5M37.4 40.9h.5M32.4 39.7h.5M34.3 39.6h.5M39.5 16.7h.5M37.9 35.0h.5M37.9 31.0h.5M35.2 44.6h.5M39.2 22.8h.5M37.4 31.7h.5M37.0 29.5h.5M37.7 26.9h.5M36.1 42.4h.5M33.0 30.4h.5M32.7 25.5h.5M32.7 43.2h.5M32.5 42.2h.5M45.1 19.0h.5M37.0 39.7h.5M34.1 27.1h.5M33.6 32.4h.5M36.4 42.2h.5M32.6 27.1h.5M38.6 36.3h.5M38.7 32.3h.5M33.1 35.7h.5M37.7 28.7h.5M39.4 23.8h.5M37.9 30.9h.5M34.6 18.4h.5M36.5 40.2h.5M33.1 43.5h.5M38.1 24.9h.5M27.8 23.4h.5M31.8 33.4h.5M43.8 18.8h.5M32.8 38.1h.5M34.1 44.1h.5M36.7 37.6h.5M29.9 19.4h.5M36.5 16.9h.5M36.4 36.7h.5M38.7 17.3h.5M33.8 35.1h.5" stroke="#42AFAE" stroke-width="0.5" fill="none"/>
<path d="M33.6 30.1h.5M30.0 22.7h.5M32.7 36.4h.5M41.7 16.7h.5M32.6 24.7h.5M32.0 25.8h.5M34.2 27.2h.5M35.9 44.3h.5M29.3 22.9h.5M37.1 26.1h.5M34.1 37.0h.5M36.9 39.0h.5M38.4 16.7h.5M34.3 25.0h.5M28.6 23.6h.5M36.3 38.5h.5M36.1 42.6h.5M36.7 28.5h.5M33.6 42.7h.5M44.8 18.4h.5M37.9 34.1h.5M33.1 43.3h.5M31.7 34.5h.5M33.0 39.5h.5M33.1 25.6h.5M43.2 17.3h.5M34.9 43.7h.5M34.2 37.1h.5M34.3 25.2h.5M36.0 40.8h.5M27.2 22.8h.5M34.6 28.0h.5M38.4 31.4h.5M41.9 21.6h.5M34.2 18.4h.5M29.0 22.7h.5M34.0 28.2h.5M36.1 25.7h.5M34.8 41.4h.5M31.6 33.7h.5M36.8 38.7h.5M34.9 30.1h.5M33.2 42.2h.5M34.2 34.6h.5M33.0 18.7h.5M37.5 34.4h.5M30.8 23.0h.5M38.4 33.6h.5M32.1 33.5h.5M40.5 16.5h.5M32.7 24.7h.5M28.5 21.3h.5M36.2 36.3h.5M37.0 40.4h.5M42.1 16.8h.5M33.6 25.4h.5M33.0 37.7h.5M32.0 24.1h.5M43.9 18.5h.5M32.7 35.7h.5M34.1 38.5h.5M35.0 39.6h.5M37.8 24.7h.5M32.6 39.0h.5M31.9 36.2h.5M42.7 20.9h.5M33.3 42.6h.5M38.5 33.0h.5M32.9 39.6h.5M37.6 29.0h.5M33.7 18.4h.5M35.2 41.9h.5M36.1 35.5h.5M34.7 35.9h.5M33.1 35.9h.5M33.1 19.0h.5M30.4 19.8h.5M36.0 17.6h.5M36.9 41.0h.5M39.6 17.0h.5M37.3 30.1h.5M34.5 17.4h.5M32.6 18.2h.5M35.5 40.9h.5M33.2 40.7h.5M31.4 24.0h.5M38.8 16.5h.5M33.0 31.1h.5M36.8 35.9h.5M34.6 32.1h.5M37.7 25.9h.5M34.3 39.0h.5M33.2 33.8h.5M34.8 32.9h.5M35.7 30.0h.5M34.2 38.8h.5M37.7 37.9h.5M32.9 37.1h.5M33.3 26.5h.5M32.6 33.8h.5M39.4 17.3h.5M30.2 23.2h.5M28.5 22.3h.5M33.4 34.1h.5M33.8 24.1h.5M32.6 23.8h.5M34.1 41.2h.5M34.0 30.4h.5M35.8 44.4h.5M34.0 38.6h.5M34.2 35.0h.5M32.8 36.1h.5M31.7 24.8h.5M36.6 27.2h.5M33.5 24.5h.5M35.6 25.6h.5M29.1 21.1h.5M32.7 30.3h.5M37.0 35.4h.5M44.3 18.4h.5M37.5 41.1h.5M32.1 25.3h.5M33.6 36.9h.5M37.7 25.5h.5M32.1 25.1h.5M43.9 18.2h.5M33.7 34.2h.5M37.9 31.2h.5M32.8 32.1h.5M35.5 36.9h.5M32.6 24.4h.5M38.0 26.0h.5M31.0 24.8h.5M33.4 32.6h.5M34.9 40.0h.5M34.8 29.2h.5M38.3 24.3h.5M41.4 21.9h.5M29.9 20.0h.5M36.3 38.7h.5M33.5 27.9h.5M34.3 25.0h.5M33.6 45.4h.5M36.1 26.9h.5M37.2 25.5h.5M35.5 39.3h.5M33.3 36.4h.5M38.2 23.8h.5M34.0 42.6h.5M33.3 40.8h.5M37.2 38.8h.5M33.5 37.4h.5M45.2 17.8h.5M33.0 28.1h.5M36.5 34.1h.5M33.1 29.3h.5M32.7 36.8h.5M36.6 39.8h.5M37.2 32.3h.5M33.1 40.0h.5M34.3 27.6h.5M34.9 40.3h.5M33.7 29.8h.5M42.8 17.3h.5M38.0 31.0h.5M34.6 35.6h.5M33.4 37.0h.5M27.9 22.2h.5M33.7 18.7h.5M36.0 39.2h.5M35.0 42.4h.5M32.5 19.3h.5M43.1 20.5h.5M33.7 38.5h.5M38.4 25.7h.5M37.6 35.4h.5M31.6 24.6h.5M38.2 30.9h.5M33.6 29.0h.5M33.9 36.1h.5M36.5 35.7h.5M38.8 32.8h.5M32.9 34.1h.5M29.6 22.1h.5M29.3 21.8h.5M35.5 43.5h.5M35.7 37.1h.5M38.3 22.9h.5M39.2 23.2h.5M32.9 29.0h.5M37.8 34.6h.5M35.3 32.1h.5M32.7 34.5h.5M35.8 40.4h.5M37.5 26.9h.5M41.1 16.9h.5M36.4 32.4h.5M40.0 17.4h.5M35.1 29.4h.5M34.9 24.1h.5M36.0 18.0h.5M38.0 26.2h.5M31.1 19.5h.5M40.0 22.4h.5M33.1 25.1h.5M44.6 18.1h.5M40.4 21.9h.5M33.0 35.6h.5M37.6 34.3h.5M35.1 17.7h.5M37.8 32.0h.5M35.1 39.6h.5M38.5 25.0h.5M33.6 32.4h.5M44.2 18.2h.5M34.3 37.7h.5M33.0 26.3h.5M36.4 32.7h.5M35.2 41.3h.5M35.0 42.4h.5M37.8 36.4h.5M36.5 29.7h.5M35.6 39.0h.5M33.4 37.8h.5M37.3 35.1h.5M36.5 25.6h.5M37.3 36.1h.5M33.0 34.9h.5M30.3 23.4h.5M38.4 16.8h.5M27.9 22.9h.5M34.5 26.7h.5M34.4 28.4h.5M39.2 27.2h.5M34.5 38.5h.5M32.4 19.9h.5M38.9 22.8h.5M36.0 41.2h.5M33.4 35.6h.5M33.9 25.8h.5M36.7 27.9h.5M32.4 30.1h.5M35.3 39.5h.5M42.3 20.9h.5M36.2 38.0h.5M37.8 33.9h.5M35.0 38.7h.5M37.1 29.3h.5M34.6 39.9h.5M32.9 38.8h.5M35.1 32.3h.5M37.9 30.7h.5M28.6 22.5h.5M37.7 37.3h.5M35.6 28.3h.5M37.2 33.0h.5M37.1 26.2h.5M35.1 31.7h.5M34.0 36.2h.5M35.5 34.9h.5M36.9 37.5h.5M37.6 30.1h.5M36.5 24.6h.5M33.6 41.1h.5M29.8 22.4h.5M34.1 37.9h.5M30.8 20.3h.5M34.7 36.9h.5M44.1 19.7h.5M38.6 17.3h.5M35.2 34.7h.5M36.0 27.8h.5M33.1 24.9h.5M37.7 34.3h.5M30.0 23.7h.5M29.5 22.0h.5M33.5 34.6h.5M37.5 27.4h.5M33.3 29.4h.5M34.8 39.2h.5M37.4 31.2h.5M37.5 17.3h.5M43.0 18.5h.5M34.8 41.7h.5M34.9 41.0h.5M38.3 37.0h.5M36.3 17.7h.5M32.6 37.9h.5M37.3 33.3h.5M36.0 39.1h.5M35.7 29.3h.5M36.3 32.1h.5M34.8 30.4h.5M30.8 21.2h.5M32.0 36.9h.5M37.8 23.8h.5M38.5 17.6h.5M37.2 24.3h.5M34.3 26.1h.5M39.2 22.7h.5M36.9 34.6h.5M33.9 37.1h.5M32.1 30.8h.5M36.3 17.3h.5M36.7 25.3h.5M33.1 36.4h.5M30.8 20.7h.5M33.9 30.9h.5M37.0 32.6h.5M43.7 18.4h.5M37.7 17.4h.5M36.6 31.6h.5M34.3 25.6h.5M34.1 26.7h.5M35.5 25.7h.5M30.6 23.7h.5M35.0 25.4h.5M33.6 17.6h.5M32.0 23.9h.5M33.1 23.9h.5M38.4 38.4h.5M34.7 34.1h.5M30.2 21.8h.5M35.3 37.6h.5M35.9 26.1h.5M37.4 26.6h.5M34.6 28.5h.5M39.7 22.3h.5M35.2 38.1h.5M37.5 29.8h.5M29.3 22.7h.5M33.5 30.6h.5M32.9 30.9h.5M44.5 18.2h.5M33.3 36.8h.5M37.3 30.9h.5M37.0 34.4h.5M43.7 18.5h.5M37.4 32.3h.5M36.0 28.4h.5M37.9 31.8h.5M39.7 22.5h.5M34.3 27.9h.5M37.5 31.2h.5M35.1 33.3h.5M32.7 34.3h.5M33.4 34.5h.5M38.5 24.0h.5M35.7 35.6h.5M35.7 40.0h.5M37.0 28.7h.5M32.6 32.9h.5M34.3 26.0h.5M36.9 17.4h.5M37.2 32.1h.5M43.4 17.6h.5M28.3 22.8h.5M35.0 25.9h.5M37.0 29.1h.5M43.9 19.4h.5M33.8 18.3h.5M33.8 31.1h.5M35.3 40.7h.5M34.0 26.4h.5M37.4 23.4h.5M35.3 37.3h.5M32.7 32.9h.5M34.0 27.4h.5M29.8 22.2h.5M37.6 26.9h.5M34.9 27.3h.5M31.1 23.2h.5M35.5 36.9h.5M34.8 18.1h.5M34.4 28.7h.5M43.6 19.7h.5M35.6 37.9h.5M33.5 31.1h.5M34.5 31.0h.5M30.5 23.4h.5M35.0 40.1h.5M43.7 19.4h.5M36.4 24.4h.5M32.6 32.8h.5M30.3 23.0h.5M38.8 22.5h.5M36.8 25.7h.5M41.0 20.8h.5M38.0 31.6h.5M33.8 27.9h.5M33.4 33.2h.5M36.6 32.0h.5M33.4 37.1h.5M33.6 25.5h.5M36.4 30.0h.5M38.1 30.1h.5M33.7 33.7h.5M36.9 37.0h.5M36.2 39.4h.5M43.6 19.6h.5M40.4 17.1h.5M36.1 35.3h.5M33.0 23.3h.5M32.3 33.0h.5M34.6 28.9h.5M34.8 27.8h.5M31.8 23.4h.5M42.5 19.8h.5M34.9 34.2h.5M31.9 24.7h.5M34.7 25.0h.5M34.5 25.1h.5M32.7 19.2h.5M32.8 31.2h.5M32.7 37.2h.5M35.9 36.3h.5M34.5 24.0h.5M37.3 26.4h.5M30.9 24.2h.5M36.0 17.7h.5M44.5 19.1h.5M36.3 24.4h.5M33.0 35.1h.5M30.6 23.5h.5M35.2 39.5h.5M33.6 30.6h.5M30.3 21.1h.5M36.7 32.5h.5M29.4 22.6h.5M34.1 29.2h.5M44.0 19.4h.5M38.0 30.6h.5M39.4 17.4h.5M41.7 17.5h.5M43.3 19.4h.5M42.9 17.7h.5M37.1 24.7h.5M37.7 26.2h.5M29.9 20.5h.5M36.7 30.5h.5M37.6 32.0h.5M42.5 18.2h.5M34.5 29.6h.5M36.5 30.4h.5" stroke="#49BF89" stroke-width="0.5" fill="none"/>
<path d="M35.3 18.0h.5M32.9 37.3h.5M32.6 28.6h.5M34.5 29.5h.5M36.3 23.7h.5M35.9 33.7h.5M34.7 40.3h.5M34.3 39.2h.5M34.6 37.8h.5M33.2 38.8h.5M33.8 25.3h.5M34.0 28.5h.5M36.5 17.9h.5M31.0 22.1h.5M38.7 17.7h.5M32.9 35.7h.5M43.4 18.5h.5M36.0 34.0h.5M37.2 25.9h.5M37.9 28.3h.5M38.9 17.7h.5M42.5 17.5h.5M34.5 34.0h.5M33.0 37.7h.5M33.3 28.4h.5M35.7 34.0h.5M32.6 24.3h.5M35.7 40.7h.5M33.6 28.2h.5M43.5 17.6h.5M30.5 24.2h.5M37.3 31.1h.5M35.2 40.5h.5M34.0 39.2h.5M37.6 32.0h.5M34.1 37.1h.5M30.5 21.1h.5M35.4 24.2h.5M36.1 26.2h.5M36.1 37.4h.5M32.4 24.7h.5M36.9 31.6h.5M34.0 37.5h.5M36.4 35.5h.5M34.3 36.5h.5M37.1 17.9h.5M33.2 33.0h.5M31.0 19.5h.5M42.3 17.5h.5M38.6 17.4h.5M36.0 31.5h.5M36.7 25.9h.5M32.1 39.0h.5M36.4 35.0h.5M34.7 41.8h.5M35.6 18.6h.5M35.4 36.7h.5M36.8 26.5h.5M35.2 38.2h.5M36.9 36.5h.5M37.2 32.6h.5M35.7 25.3h.5M34.6 41.2h.5M35.9 26.6h.5M37.4 32.0h.5M33.4 37.5h.5M35.6 29.7h.5M37.2 31.4h.5M34.8 37.2h.5M35.6 23.6h.5M36.3 28.9h.5M33.6 33.8h.5M35.2 25.1h.5M36.3 34.0h.5M34.4 27.0h.5M34.1 32.9h.5M35.6 24.8h.5M43.1 19.7h.5M36.3 31.2h.5M34.5 32.1h.5M37.3 31.8h.5M34.9 27.0h.5M35.0 32.2h.5M36.7 23.2h.5M34.3 40.0h.5M36.3 34.2h.5M31.0 21.2h.5M31.7 19.8h.5M33.2 38.7h.5M37.8 17.0h.5M35.6 36.8h.5M34.9 27.6h.5M39.3 22.2h.5M32.8 30.9h.5M34.0 33.4h.5M35.9 33.9h.5M31.4 20.1h.5M34.9 29.4h.5M40.1 21.8h.5M31.7 22.6h.5M36.1 38.6h.5M35.6 27.6h.5M32.5 19.0h.5M38.1 17.6h.5M36.7 17.9h.5M33.9 30.3h.5M31.0 22.3h.5M36.2 28.5h.5M34.6 32.1h.5M35.5 39.1h.5M35.4 28.0h.5M43.7 19.8h.5M43.5 18.9h.5M35.1 35.2h.5M35.3 35.7h.5M31.4 23.5h.5M35.8 29.2h.5M33.7 36.9h.5M35.8 27.1h.5M34.7 32.4h.5M30.0 22.8h.5M30.8 20.0h.5M35.7 37.2h.5M39.8 16.9h.5M33.1 38.0h.5M36.6 35.0h.5M34.9 26.5h.5M29.0 21.8h.5M33.5 29.5h.5M36.0 18.0h.5M33.8 29.2h.5M35.5 23.8h.5M29.9 22.3h.5M43.6 18.8h.5M34.8 29.5h.5M37.9 30.4h.5M36.7 25.9h.5M37.7 18.0h.5M33.7 40.8h.5M35.3 34.5h.5M39.0 22.7h.5M33.4 30.1h.5M33.5 36.3h.5M31.7 19.7h.5M36.6 22.8h.5M35.0 33.9h.5M40.5 21.0h.5M36.3 25.6h.5M32.9 24.5h.5M43.0 17.0h.5M34.6 30.3h.5M42.7 18.9h.5M35.8 35.6h.5M30.6 22.1h.5M41.0 17.4h.5M34.0 34.6h.5M38.7 22.7h.5M36.1 28.4h.5M37.2 26.7h.5M44.4 18.8h.5M34.5 28.1h.5M31.7 23.7h.5M36.5 29.2h.5M31.8 23.1h.5M40.4 17.2h.5M34.2 29.6h.5M33.0 34.4h.5M35.7 41.8h.5M31.7 23.8h.5M35.6 24.6h.5M33.3 32.6h.5M39.1 18.3h.5M36.4 24.9h.5M42.6 20.9h.5M36.8 33.9h.5M36.0 34.2h.5M36.7 31.9h.5M36.5 24.4h.5M35.8 37.5h.5M35.6 39.8h.5M32.1 23.9h.5M34.3 24.4h.5M42.5 18.1h.5M33.9 35.8h.5M35.2 31.8h.5M37.0 29.2h.5M37.8 35.6h.5M36.1 34.8h.5M36.5 17.4h.5M38.6 23.1h.5M44.0 18.9h.5M35.6 34.7h.5M39.6 17.4h.5M40.5 17.2h.5M31.0 24.7h.5M33.4 32.4h.5M33.2 34.0h.5M33.7 34.5h.5M33.6 19.1h.5M37.4 28.3h.5M35.2 35.8h.5M34.2 31.6h.5M39.6 21.9h.5M34.7 18.1h.5M31.7 20.5h.5M30.3 22.8h.5M30.7 23.2h.5M35.2 40.1h.5M37.1 30.6h.5M36.5 30.9h.5M34.8 37.1h.5M36.4 40.2h.5M34.6 26.4h.5M35.1 37.2h.5M38.7 18.2h.5M36.3 24.6h.5M29.8 21.1h.5M37.6 23.0h.5M36.5 33.5h.5M33.5 19.3h.5M38.1 25.5h.5M36.2 30.6h.5M32.6 38.1h.5M35.9 24.6h.5M36.8 29.5h.5M34.3 27.6h.5M37.5 25.0h.5M34.8 18.5h.5M39.7 22.2h.5M34.6 36.1h.5M35.9 24.2h.5M35.5 29.4h.5M34.4 24.0h.5M35.7 32.6h.5M35.0 26.9h.5M35.2 24.0h.5M34.6 26.8h.5M35.8 31.7h.5M38.1 22.6h.5M34.6 35.9h.5M37.0 29.5h.5M37.9 33.0h.5M34.1 32.1h.5M34.3 27.1h.5M33.4 34.7h.5M35.5 34.7h.5M35.0 28.4h.5M33.3 42.1h.5M37.6 22.7h.5M36.8 27.3h.5M38.7 17.9h.5M39.7 21.9h.5M33.2 23.9h.5M42.3 17.0h.5M30.6 23.8h.5M33.6 19.6h.5M34.9 32.6h.5M36.7 30.1h.5M35.0 24.9h.5M42.1 20.4h.5M30.2 21.1h.5M35.3 18.6h.5M34.8 31.8h.5M34.6 18.3h.5M36.7 36.5h.5M34.9 34.7h.5M36.4 18.1h.5M31.0 21.2h.5M29.2 23.1h.5M35.3 33.5h.5M30.4 23.3h.5M35.0 28.2h.5M36.5 35.3h.5M37.1 36.7h.5M35.1 39.9h.5M32.3 19.4h.5M35.0 30.8h.5M35.6 32.9h.5M36.6 35.7h.5M36.1 34.5h.5M36.2 27.9h.5M36.4 18.2h.5M35.0 39.1h.5M36.3 32.7h.5M36.9 30.0h.5M38.2 23.0h.5M33.6 24.2h.5M34.4 19.3h.5M32.9 35.2h.5M34.1 31.2h.5M38.6 22.5h.5M36.1 28.6h.5M36.0 25.3h.5M37.2 30.9h.5M35.7 29.5h.5M33.1 18.6h.5M34.5 24.2h.5M36.3 31.2h.5M36.4 29.4h.5M38.2 23.1h.5M39.0 22.1h.5M36.2 24.7h.5M33.3 39.9h.5M35.3 18.1h.5M34.3 34.5h.5M39.9 18.0h.5M34.0 36.1h.5M36.9 31.2h.5M36.4 37.2h.5M43.3 18.1h.5M42.8 19.6h.5M33.9 34.0h.5M35.1 38.1h.5M34.9 37.4h.5M30.4 20.9h.5M35.8 35.1h.5M37.5 32.2h.5M40.3 17.9h.5M35.6 29.3h.5M33.9 34.2h.5M35.4 26.2h.5M36.2 17.7h.5M36.4 35.8h.5M33.8 35.8h.5M34.2 36.0h.5M43.2 17.2h.5M36.5 18.0h.5M34.4 28.9h.5M32.4 23.7h.5M34.7 19.1h.5M36.4 30.3h.5M35.7 28.1h.5M36.0 29.7h.5M43.5 19.3h.5M35.3 18.2h.5M32.9 35.9h.5M36.4 26.0h.5M36.0 27.6h.5M35.7 36.4h.5M35.4 30.8h.5M34.6 33.2h.5M34.0 40.0h.5M35.3 28.0h.5M41.8 17.9h.5M35.4 24.2h.5M36.4 23.7h.5M41.5 20.9h.5M32.7 22.6h.5M35.1 18.8h.5M42.7 18.5h.5M35.3 38.7h.5M34.5 33.0h.5M37.4 23.5h.5M33.7 36.3h.5M35.3 37.0h.5M37.6 23.2h.5M33.8 35.4h.5M41.8 20.9h.5M35.2 18.5h.5M40.8 17.9h.5M35.3 31.4h.5M35.2 32.0h.5M33.9 35.1h.5M37.0 29.7h.5M42.2 17.8h.5M35.3 35.2h.5M35.4 25.4h.5M37.0 34.0h.5M29.7 21.0h.5M44.8 18.1h.5M35.7 29.2h.5M41.4 17.5h.5M37.7 17.7h.5M36.2 31.8h.5M40.6 18.4h.5M35.7 18.7h.5M35.7 26.2h.5M35.6 23.2h.5M36.4 17.6h.5M34.8 30.7h.5M35.1 23.6h.5M37.0 18.2h.5M36.9 27.3h.5M36.4 17.9h.5M39.0 16.8h.5M33.1 23.8h.5M35.6 29.9h.5M36.3 37.7h.5M35.3 38.9h.5M33.7 34.9h.5M37.4 24.8h.5M32.7 31.0h.5M41.9 17.9h.5M41.0 17.3h.5M34.0 23.6h.5M36.8 30.1h.5M32.7 19.8h.5M36.1 29.4h.5M35.1 19.1h.5M42.4 18.2h.5M32.2 24.0h.5M31.5 23.2h.5M34.4 34.3h.5M35.3 27.8h.5M36.4 30.4h.5M34.5 35.6h.5M42.2 20.3h.5M37.1 18.2h.5M34.1 19.7h.5M33.5 30.6h.5M37.0 18.3h.5M37.0 30.5h.5M32.2 21.8h.5M35.3 36.6h.5M30.9 21.9h.5M31.7 19.5h.5M35.9 27.4h.5M37.0 27.8h.5M34.6 18.3h.5M36.7 18.1h.5M35.6 30.6h.5M30.5 21.9h.5M41.6 17.9h.5M36.2 25.3h.5M35.2 30.7h.5M33.0 19.7h.5M37.7 22.4h.5M36.5 31.7h.5M36.4 33.0h.5M34.1 36.6h.5M33.9 33.6h.5M33.1 19.9h.5M30.7 22.1h.5M36.1 25.5h.5M36.5 23.4h.5M41.9 21.0h.5M37.3 18.3h.5M35.8 29.8h.5M33.8 40.3h.5M34.7 23.6h.5M33.4 35.2h.5M35.6 35.2h.5M36.0 33.3h.5M36.1 24.2h.5M36.6 23.1h.5M36.2 36.1h.5M34.2 23.3h.5M36.0 22.7h.5M33.7 32.2h.5M30.5 22.3h.5M36.2 24.0h.5M43.0 18.3h.5M35.3 30.1h.5M42.8 20.1h.5M42.3 19.9h.5M34.7 31.3h.5M39.9 17.1h.5M34.8 23.7h.5M35.8 33.4h.5M42.7 20.0h.5M32.1 23.5h.5M35.2 34.1h.5M32.2 23.4h.5M35.4 30.9h.5M43.2 19.4h.5M34.9 27.4h.5M35.5 35.4h.5M41.9 17.6h.5M38.8 22.4h.5M33.4 34.8h.5M44.3 18.2h.5M35.9 34.9h.5M36.1 30.1h.5M40.5 17.9h.5M41.4 18.3h.5M35.1 18.5h.5M34.7 35.7h.5M42.5 19.3h.5M38.4 21.8h.5M38.8 22.6h.5" stroke="#66C666" stroke-width="0.5" fill="none"/>
<path d="M34.3 35.2h.5M40.7 18.4h.5M34.6 18.9h.5M33.3 23.5h.5M34.2 37.9h.5M33.3 36.3h.5M41.1 18.8h.5M42.7 19.5h.5M35.2 29.0h.5M30.5 22.1h.5M36.3 18.6h.5M35.6 27.9h.5M34.7 25.7h.5M30.0 22.5h.5M34.7 28.9h.5M31.6 22.6h.5M34.1 30.9h.5M35.4 28.8h.5M36.3 30.3h.5M34.4 31.1h.5M35.9 23.2h.5M37.8 27.1h.5M33.8 19.2h.5M38.2 22.8h.5M35.1 25.7h.5M41.5 18.2h.5M32.1 22.6h.5M36.1 27.6h.5M34.4 23.7h.5M36.8 22.8h.5M30.5 21.8h.5M34.5 23.4h.5M30.8 21.6h.5M33.1 19.5h.5M37.2 34.6h.5M36.4 38.3h.5M42.3 19.4h.5M31.4 22.2h.5M40.0 21.2h.5M36.5 32.4h.5M36.8 23.9h.5M33.8 38.7h.5M35.8 32.1h.5M37.6 24.0h.5M37.2 17.9h.5M36.0 31.1h.5M40.7 21.3h.5M31.7 20.6h.5M32.4 20.0h.5M30.9 22.1h.5M34.6 29.3h.5M34.4 19.2h.5M35.0 24.2h.5M37.3 22.5h.5M42.5 18.2h.5M39.6 22.6h.5M43.3 18.7h.5M41.3 20.2h.5M34.2 33.7h.5M35.0 19.7h.5M32.4 24.1h.5M33.9 23.1h.5M43.0 18.3h.5M33.9 30.6h.5M33.3 19.2h.5M33.5 20.3h.5M35.9 30.0h.5M37.5 19.1h.5M40.2 22.4h.5M40.3 17.3h.5M33.0 24.3h.5M42.6 18.9h.5M42.9 18.5h.5M35.0 25.2h.5M35.6 30.8h.5M37.9 22.6h.5M35.5 23.3h.5M34.1 35.7h.5M36.1 28.2h.5M36.1 22.6h.5M31.4 22.5h.5M36.1 28.1h.5M33.2 23.0h.5M43.0 18.4h.5M32.7 22.2h.5M37.8 22.9h.5M31.0 21.9h.5M40.0 18.1h.5M37.5 29.6h.5M35.5 30.3h.5M36.1 24.1h.5M35.2 36.9h.5M38.2 21.9h.5M39.3 21.8h.5M39.0 18.3h.5M41.7 17.7h.5M36.5 23.4h.5M38.5 18.3h.5M40.2 19.7h.5M42.0 18.2h.5M41.8 18.4h.5M32.7 21.9h.5M36.9 34.6h.5M31.8 20.3h.5M42.0 17.9h.5M33.8 23.1h.5M32.3 23.2h.5M38.2 23.5h.5M31.8 20.3h.5M33.0 22.8h.5M43.4 19.5h.5M33.1 19.6h.5M35.9 35.9h.5M40.3 21.4h.5M31.9 22.1h.5M35.4 22.8h.5M35.4 34.2h.5M30.9 22.7h.5M32.3 21.1h.5M34.4 36.3h.5M32.5 21.4h.5M35.6 36.4h.5M35.6 35.2h.5M38.4 21.9h.5M40.3 21.5h.5M33.7 34.6h.5M41.3 20.7h.5M40.8 18.2h.5M38.9 18.2h.5M43.2 17.9h.5M32.1 22.5h.5M34.1 19.4h.5M35.8 23.5h.5M33.3 20.3h.5M34.3 32.5h.5M37.6 18.3h.5M36.3 18.4h.5M32.2 22.1h.5M35.4 34.4h.5M38.6 21.3h.5M40.0 21.6h.5M32.7 20.1h.5M30.9 22.5h.5M39.1 21.3h.5M39.0 21.9h.5M36.7 19.0h.5M36.5 36.0h.5M32.4 22.1h.5M35.3 18.9h.5M33.3 20.3h.5M35.0 19.3h.5M34.6 19.4h.5M34.3 22.9h.5M37.1 22.6h.5M30.7 21.6h.5M35.9 18.6h.5M38.4 22.0h.5M40.4 19.2h.5M39.2 22.5h.5M34.5 22.7h.5M42.2 18.6h.5M40.7 21.2h.5M34.7 30.2h.5M41.4 20.7h.5M32.2 23.2h.5M42.1 19.7h.5M31.0 22.1h.5M38.5 21.6h.5M36.9 22.1h.5M42.5 18.9h.5M37.5 22.3h.5M41.3 20.7h.5M40.1 20.2h.5M43.1 19.1h.5M34.1 23.4h.5M38.6 21.9h.5M31.6 21.2h.5M42.8 19.6h.5M34.0 31.4h.5M41.4 20.6h.5M33.2 19.9h.5M32.2 21.1h.5M38.5 18.2h.5M32.8 20.0h.5M36.0 18.8h.5M40.2 18.3h.5M34.3 19.2h.5M34.2 22.9h.5M34.4 21.8h.5M37.9 22.0h.5M31.4 21.2h.5M35.0 37.6h.5M36.8 18.6h.5M33.6 19.7h.5M42.6 19.4h.5M40.1 17.9h.5M35.0 37.3h.5M42.3 19.3h.5M38.9 21.7h.5M33.4 23.1h.5M31.2 23.0h.5M33.6 19.9h.5M32.8 19.5h.5M33.2 22.7h.5M35.0 18.8h.5M39.2 22.1h.5M42.5 19.8h.5M33.4 22.5h.5M41.9 19.8h.5M33.2 21.3h.5M32.6 21.9h.5M36.1 18.4h.5M36.1 18.7h.5M36.4 31.0h.5M36.7 18.8h.5M33.7 20.8h.5M39.5 18.1h.5M42.5 19.6h.5M40.6 20.7h.5M39.7 18.3h.5M38.3 21.7h.5M34.0 20.0h.5M31.8 22.4h.5M39.4 21.8h.5M30.7 21.7h.5M34.5 22.6h.5M31.7 21.9h.5M36.2 22.5h.5M35.6 18.9h.5M35.3 34.2h.5M35.3 19.6h.5M34.8 20.7h.5M31.5 21.3h.5M33.0 19.8h.5M39.8 21.3h.5M36.4 18.2h.5M42.3 19.0h.5M36.7 21.9h.5M37.2 18.8h.5M32.5 21.1h.5M40.0 18.3h.5M35.4 34.2h.5M41.6 19.6h.5M40.5 18.7h.5M31.5 21.1h.5M36.4 19.0h.5M35.3 31.0h.5M40.8 19.5h.5M36.5 29.4h.5M34.0 22.9h.5M33.5 19.8h.5M38.7 18.0h.5M41.6 17.7h.5M40.9 20.5h.5M35.4 22.0h.5M39.7 18.7h.5M36.2 31.2h.5M34.3 23.0h.5M38.7 17.8h.5M41.1 20.3h.5M42.5 19.1h.5M34.6 22.1h.5M43.2 19.1h.5M30.9 21.5h.5M41.9 19.9h.5M40.5 20.8h.5M37.3 22.7h.5M41.4 18.8h.5M35.7 18.7h.5M41.2 20.2h.5M33.3 19.9h.5M33.5 23.3h.5M39.2 18.8h.5M36.7 18.8h.5M36.5 22.2h.5M36.0 22.4h.5M34.6 22.5h.5M39.1 22.2h.5M42.2 19.5h.5M33.3 22.3h.5M31.2 22.1h.5M36.5 24.3h.5M39.5 21.2h.5M43.1 18.8h.5M35.1 32.3h.5M32.0 22.7h.5M37.8 22.2h.5M39.6 17.9h.5M40.0 18.9h.5M41.2 20.3h.5M35.4 22.8h.5M32.2 22.6h.5M34.6 20.1h.5M31.6 20.9h.5M32.2 20.4h.5M35.5 19.3h.5M36.6 34.3h.5" stroke="#85CE45" stroke-width="0.5" fill="none"/>
<path d="M39.3 18.9h.5M38.1 18.8h.5M41.8 19.1h.5M38.0 21.6h.5M41.6 19.0h.5M36.9 22.6h.5M35.3 18.8h.5M34.3 20.0h.5M34.8 34.3h.5M33.4 21.9h.5M38.0 21.9h.5M41.1 19.5h.5M32.4 22.4h.5M35.7 28.3h.5M38.6 21.1h.5M41.0 18.5h.5M40.3 18.3h.5M40.6 18.0h.5M38.9 22.0h.5M39.4 18.5h.5M37.0 22.3h.5M37.3 22.9h.5M35.5 18.3h.5M33.5 21.0h.5M34.2 19.7h.5M33.1 20.0h.5M35.8 22.5h.5M35.3 23.1h.5M33.0 23.3h.5M35.7 19.6h.5M33.2 19.9h.5M39.9 20.0h.5M41.6 19.0h.5M41.4 19.9h.5M38.7 22.6h.5M35.1 19.6h.5M34.0 24.2h.5M37.0 18.4h.5M36.4 22.1h.5M41.9 18.4h.5M40.5 18.8h.5M34.4 23.7h.5M34.0 22.7h.5M35.2 21.5h.5M37.4 18.5h.5M34.7 23.6h.5M35.7 21.9h.5M33.4 23.4h.5M39.2 21.2h.5M34.0 20.8h.5M42.0 19.8h.5M35.5 22.4h.5M41.0 19.4h.5M41.3 18.4h.5M35.9 32.2h.5M34.3 20.4h.5M38.1 18.8h.5M35.9 19.6h.5M31.6 22.8h.5M36.3 22.0h.5M32.7 22.0h.5M34.8 22.4h.5M35.3 19.6h.5M41.1 20.7h.5M35.6 22.6h.5M42.2 19.8h.5M34.1 20.6h.5M34.4 22.2h.5M40.6 20.8h.5M32.5 21.0h.5M40.1 18.5h.5M42.0 19.1h.5M34.1 31.0h.5M40.5 19.5h.5M41.2 19.5h.5M32.0 20.6h.5M41.6 20.2h.5M35.0 32.4h.5M40.8 19.7h.5M34.4 20.1h.5M37.0 19.3h.5M41.8 19.3h.5M40.0 20.1h.5M40.4 19.9h.5M40.5 20.7h.5M33.3 21.8h.5M41.4 19.2h.5M41.8 20.3h.5M33.0 22.5h.5M38.7 21.5h.5M32.3 21.0h.5M40.1 18.9h.5M40.8 19.1h.5M32.0 21.3h.5M34.8 21.7h.5M33.0 21.4h.5M34.2 21.6h.5M38.7 18.8h.5M38.2 21.7h.5M35.0 19.7h.5M32.7 21.5h.5M34.2 19.3h.5M34.8 19.0h.5M33.6 20.4h.5M40.3 18.7h.5M34.5 22.2h.5M32.8 21.5h.5M34.0 22.1h.5M32.9 22.7h.5M34.1 20.6h.5M36.5 18.7h.5M40.2 19.3h.5M41.3 18.8h.5M35.2 23.3h.5M33.0 20.5h.5M36.7 22.9h.5M35.8 22.9h.5M38.4 18.8h.5M37.3 22.2h.5M39.9 20.3h.5M40.5 18.6h.5M40.8 19.2h.5M36.0 22.9h.5M32.1 22.0h.5M34.1 22.6h.5M33.6 20.0h.5M38.9 21.7h.5M39.5 20.0h.5M36.9 18.3h.5M38.6 19.0h.5M40.1 20.9h.5M38.5 18.7h.5M34.5 19.7h.5M40.4 20.6h.5M41.4 19.9h.5M35.1 19.2h.5M39.4 18.8h.5M34.8 19.4h.5M38.6 22.0h.5M41.9 19.1h.5M34.7 22.8h.5M38.5 21.4h.5M32.4 22.4h.5M31.4 20.8h.5M40.5 20.5h.5M33.0 21.1h.5M37.7 18.9h.5M38.5 21.4h.5M40.6 20.3h.5M40.4 20.9h.5M42.2 19.8h.5M41.2 20.2h.5M34.5 22.3h.5M38.5 21.3h.5M34.3 22.5h.5M37.4 21.3h.5M35.6 22.0h.5M35.4 19.3h.5M37.0 18.7h.5M38.7 21.3h.5M31.1 22.1h.5M35.0 22.6h.5M39.1 21.2h.5M34.4 22.9h.5M32.9 20.9h.5M37.2 21.4h.5M39.3 21.4h.5M37.4 21.0h.5M36.1 22.7h.5M36.2 22.1h.5M38.7 18.4h.5M33.3 21.4h.5M32.4 21.9h.5M32.8 21.3h.5M35.6 19.6h.5M40.4 19.0h.5M40.3 18.5h.5M33.0 20.6h.5M35.1 21.2h.5M40.2 18.7h.5M39.9 18.9h.5M36.4 22.4h.5M34.8 22.0h.5M34.5 22.7h.5M37.0 18.7h.5M34.8 22.2h.5M39.1 19.3h.5M35.8 22.3h.5M37.5 22.0h.5M33.3 20.3h.5M34.4 20.4h.5M33.7 19.7h.5M38.4 22.0h.5M35.1 22.1h.5M34.6 22.4h.5M39.7 20.0h.5M36.5 19.4h.5M40.7 19.2h.5M37.1 19.3h.5M35.0 20.6h.5M33.7 21.1h.5M34.5 22.5h.5M39.4 20.8h.5M34.6 21.1h.5M37.6 18.8h.5M35.4 21.5h.5M37.5 21.0h.5M33.2 19.8h.5M35.1 22.5h.5M37.9 18.5h.5M34.8 21.9h.5M40.7 20.1h.5M38.9 19.3h.5M34.6 19.4h.5M34.3 22.5h.5M33.9 20.4h.5M37.2 22.0h.5M39.1 20.4h.5M35.0 19.7h.5M33.1 20.9h.5M35.8 22.1h.5M33.6 22.9h.5M39.3 21.1h.5M34.1 22.7h.5M33.4 19.7h.5M36.2 22.2h.5M39.2 19.0h.5M39.5 18.2h.5M34.5 20.4h.5M38.0 18.7h.5M36.6 19.1h.5M35.7 18.9h.5M37.3 21.9h.5M41.9 19.2h.5M34.1 22.3h.5M33.4 20.6h.5M35.8 22.1h.5M38.7 18.5h.5M37.0 22.1h.5M34.4 21.8h.5M40.5 19.9h.5M38.6 18.5h.5M33.6 20.7h.5M32.3 22.2h.5M40.2 17.9h.5M36.1 20.5h.5M40.9 19.3h.5M33.8 20.7h.5M32.6 21.3h.5M38.2 21.9h.5M35.4 20.1h.5M39.9 18.4h.5M35.6 18.7h.5M34.1 20.9h.5M36.8 19.1h.5M37.7 18.6h.5M38.0 21.5h.5M34.1 21.6h.5M36.4 21.7h.5M37.5 22.1h.5M39.9 20.8h.5M36.0 21.7h.5M37.2 19.4h.5M34.9 19.9h.5M37.4 20.8h.5M38.9 20.6h.5M38.8 20.1h.5M37.7 18.7h.5M39.4 20.7h.5M40.7 18.6h.5M39.9 18.7h.5M35.2 21.6h.5M40.2 19.8h.5M39.9 20.5h.5M35.4 21.2h.5M33.5 22.4h.5M32.7 22.3h.5M40.3 19.7h.5M35.4 23.3h.5M37.8 19.3h.5M40.9 20.4h.5M38.8 20.9h.5M34.2 20.2h.5M40.6 18.5h.5M37.4 18.6h.5M41.2 19.0h.5M36.8 19.5h.5M38.1 21.1h.5M38.4 21.5h.5M36.6 21.7h.5M40.5 20.6h.5M37.7 21.7h.5M38.4 21.1h.5M35.7 19.3h.5M37.8 18.8h.5M35.5 20.8h.5M34.3 20.4h.5M38.6 19.3h.5M38.0 21.7h.5M41.6 19.5h.5M39.4 20.7h.5M37.4 19.1h.5M37.8 21.6h.5M36.1 21.7h.5M35.1 19.7h.5M35.6 19.2h.5M37.9 21.3h.5M38.9 18.8h.5M36.8 19.3h.5M34.7 21.8h.5" stroke="#BFD83B" stroke-width="0.5" fill="none"/>
<path d="M32.5 21.0h.5M38.8 18.9h.5M34.5 20.9h.5M37.4 19.8h.5M38.0 21.2h.5M38.1 18.7h.5M35.1 22.1h.5M40.0 20.3h.5M31.8 21.7h.5M37.8 18.8h.5M33.5 22.1h.5M35.9 22.0h.5M38.6 20.9h.5M38.8 20.8h.5M39.1 19.1h.5M32.4 21.6h.5M36.8 19.6h.5M37.6 19.9h.5M40.4 19.1h.5M34.9 22.9h.5M36.8 18.9h.5M32.9 22.6h.5M40.3 19.7h.5M40.8 20.6h.5M36.2 21.6h.5M37.7 19.0h.5M37.6 19.4h.5M33.5 21.3h.5M38.2 21.3h.5M36.2 21.7h.5M36.6 20.1h.5M40.1 18.9h.5M37.5 19.3h.5M35.9 21.7h.5M38.2 19.8h.5M40.8 19.0h.5M38.7 20.0h.5M39.1 20.2h.5M33.8 21.5h.5M36.7 20.5h.5M38.3 19.4h.5M38.6 21.4h.5M34.6 21.2h.5M34.3 22.0h.5M38.0 20.2h.5M38.1 22.0h.5M40.3 19.3h.5M37.9 19.1h.5M40.5 19.2h.5M40.4 20.0h.5M40.4 19.4h.5M35.5 20.2h.5M33.8 21.2h.5M40.2 20.5h.5M37.1 21.7h.5M34.8 20.8h.5M34.8 20.2h.5M38.0 18.9h.5M37.6 22.1h.5M34.1 21.1h.5M39.7 20.6h.5M38.6 20.6h.5M35.0 20.0h.5M36.4 21.2h.5M38.3 19.4h.5M39.3 19.0h.5M35.5 21.6h.5M37.2 20.2h.5M38.1 21.6h.5M34.2 22.9h.5M38.7 20.6h.5M39.7 19.7h.5M39.1 20.8h.5M35.2 22.1h.5M33.9 20.3h.5M40.8 20.7h.5M38.6 20.7h.5M38.4 21.5h.5M37.5 21.3h.5M35.4 19.8h.5M40.9 20.2h.5M40.6 19.4h.5M36.2 19.1h.5M38.5 18.9h.5M32.5 21.5h.5M35.4 21.6h.5M39.5 20.8h.5M34.7 20.4h.5M33.4 21.7h.5M39.0 21.6h.5M38.6 19.2h.5M37.3 20.4h.5M36.0 21.5h.5M38.6 18.7h.5M39.1 19.0h.5M34.5 20.9h.5M41.0 18.9h.5M35.3 20.7h.5M37.1 20.5h.5M37.0 21.0h.5M33.0 20.0h.5M38.8 20.6h.5M33.1 20.4h.5M34.4 20.8h.5M37.7 21.8h.5M37.2 19.0h.5M37.6 21.7h.5M34.2 20.4h.5M38.0 21.6h.5M35.4 20.9h.5M36.6 19.8h.5M37.3 21.0h.5M34.9 21.9h.5M35.5 20.8h.5M34.2 20.9h.5M37.2 21.6h.5M33.7 21.6h.5M40.2 18.9h.5M35.7 21.1h.5M34.9 21.4h.5M38.4 20.8h.5M36.2 21.2h.5M36.0 20.8h.5M35.0 21.7h.5M36.3 21.0h.5M38.7 21.6h.5M35.9 21.4h.5M35.2 20.7h.5M35.7 20.5h.5M40.8 19.1h.5M34.8 20.3h.5M37.5 21.5h.5M36.8 20.1h.5M35.1 20.5h.5M37.8 21.2h.5M36.7 20.8h.5M33.8 20.6h.5M38.2 20.3h.5M33.3 20.2h.5M40.6 20.3h.5M35.5 21.8h.5M38.5 20.7h.5M36.6 20.9h.5M41.2 19.7h.5M35.2 22.0h.5M38.1 19.4h.5M40.3 19.9h.5M40.2 19.8h.5M35.4 21.2h.5M34.6 22.4h.5M38.7 20.9h.5M37.5 19.0h.5M37.7 20.9h.5M35.0 21.6h.5M37.4 19.6h.5M38.4 20.9h.5M39.3 19.3h.5M36.6 19.1h.5M37.3 19.5h.5M36.6 22.1h.5M37.3 20.2h.5M40.2 20.4h.5M35.9 21.9h.5M38.4 20.7h.5M38.5 19.4h.5M35.2 20.0h.5M40.3 20.2h.5M37.8 19.8h.5M35.3 22.1h.5M35.9 21.7h.5M39.3 20.2h.5M35.0 22.1h.5M38.9 20.9h.5M38.2 20.0h.5M35.5 19.6h.5M38.2 19.2h.5M37.2 21.3h.5M35.5 20.3h.5M40.4 19.1h.5M34.5 21.2h.5M38.7 19.6h.5M38.4 20.3h.5M38.4 20.3h.5M40.5 19.5h.5M35.6 21.4h.5M40.0 20.3h.5M38.8 19.2h.5M35.3 19.4h.5M35.2 22.0h.5M34.9 20.6h.5M34.9 20.7h.5M39.2 19.6h.5M38.4 19.4h.5M34.9 20.9h.5M36.6 20.0h.5M34.8 20.5h.5M40.5 20.0h.5M36.6 20.7h.5M34.7 22.0h.5M39.0 20.1h.5M34.8 22.4h.5M37.9 20.4h.5M38.6 19.7h.5M39.4 20.3h.5M35.0 21.4h.5M37.9 19.9h.5M37.2 21.6h.5M33.3 20.8h.5M38.2 20.1h.5M39.4 19.2h.5M39.1 20.0h.5M34.5 23.1h.5M39.8 20.4h.5M35.8 19.6h.5M38.1 19.2h.5M34.9 20.2h.5M36.5 20.1h.5M35.7 22.3h.5M36.3 20.6h.5M39.3 20.3h.5M38.7 19.4h.5M37.1 21.7h.5M36.6 20.2h.5M38.2 20.0h.5M37.5 19.9h.5M38.5 19.1h.5M38.5 19.9h.5M39.6 19.6h.5M38.1 19.5h.5M38.2 20.9h.5M40.0 19.7h.5M35.9 21.7h.5M35.1 21.7h.5M40.6 19.1h.5M38.5 20.9h.5M35.7 20.5h.5M38.0 20.9h.5M38.3 19.7h.5M39.4 20.7h.5M34.7 20.8h.5M37.5 21.3h.5M36.2 21.5h.5M35.8 21.6h.5M36.4 20.1h.5M40.1 19.3h.5M38.8 20.9h.5M34.0 21.1h.5M36.6 19.9h.5M37.5 21.3h.5M38.8 20.7h.5M38.4 19.7h.5M40.2 20.8h.5M35.9 20.4h.5M35.6 21.1h.5M35.7 21.9h.5M35.3 19.9h.5M36.6 19.9h.5M37.4 20.2h.5M38.1 20.8h.5M35.2 21.7h.5M37.3 21.3h.5M36.0 21.0h.5M36.5 20.7h.5M37.5 20.1h.5M34.4 22.1h.5M39.1 20.8h.5M37.1 20.4h.5M37.0 20.4h.5M37.3 21.2h.5M37.7 20.4h.5M40.1 19.9h.5M34.1 20.9h.5M37.9 20.9h.5M37.3 19.8h.5M35.6 20.4h.5M37.5 20.5h.5M40.5 20.6h.5M34.0 21.9h.5M37.6 21.2h.5M40.8 20.1h.5M35.8 19.2h.5M36.7 22.1h.5" stroke="#F0DA31" stroke-width="0.5" fill="none"/>
<path d="M38.1 19.7h.5M34.0 21.2h.5M35.5 20.1h.5M37.2 19.6h.5M36.9 21.7h.5M36.0 20.3h.5M35.8 21.2h.5M35.2 20.6h.5M34.4 21.2h.5M38.5 19.5h.5M40.2 19.8h.5M38.4 20.1h.5M36.7 20.2h.5M37.2 19.5h.5M38.4 20.6h.5M39.4 19.1h.5M39.1 19.0h.5M38.5 21.1h.5M38.1 19.3h.5M36.8 20.4h.5M34.2 20.5h.5M37.5 19.8h.5M36.3 19.7h.5M36.8 20.9h.5M37.2 22.0h.5M39.0 19.8h.5M38.2 19.6h.5M38.7 19.2h.5M36.2 20.5h.5M38.2 19.8h.5M38.9 19.9h.5M39.6 19.9h.5M35.0 20.4h.5M35.3 20.6h.5M38.8 20.0h.5M34.8 22.3h.5M39.9 20.5h.5M36.8 19.7h.5M37.8 19.4h.5M35.7 21.1h.5M39.1 20.5h.5M34.2 21.5h.5M34.0 22.4h.5M40.7 19.5h.5M36.4 21.5h.5M36.8 20.1h.5M34.3 21.3h.5M37.4 20.3h.5M38.3 20.9h.5M36.5 20.7h.5M36.7 21.0h.5M36.8 20.0h.5M37.1 19.9h.5M35.9 21.1h.5M39.2 19.8h.5M38.6 19.5h.5M35.6 21.4h.5M39.7 19.3h.5M37.5 20.2h.5M39.3 20.3h.5M38.3 20.8h.5M38.8 19.1h.5M35.8 20.3h.5M37.7 19.8h.5M33.9 21.1h.5M35.9 21.1h.5M34.2 20.8h.5M38.1 20.7h.5M39.2 19.1h.5M33.9 20.7h.5M33.8 21.8h.5M38.6 19.3h.5M36.2 20.9h.5M35.6 20.8h.5M38.9 20.6h.5M35.0 21.5h.5M36.5 21.0h.5M36.9 20.9h.5M36.1 20.4h.5M36.3 21.8h.5M35.8 20.3h.5M37.9 21.4h.5M38.2 20.8h.5M38.3 19.2h.5M38.2 20.3h.5M37.4 20.2h.5M34.9 21.2h.5M38.3 19.8h.5M36.2 20.8h.5M39.8 18.6h.5M37.4 21.1h.5M37.8 21.2h.5M35.3 20.9h.5M38.0 20.4h.5M39.4 19.8h.5M37.5 19.9h.5M35.9 20.9h.5M37.0 20.6h.5M35.3 21.6h.5M37.1 19.8h.5M36.0 20.2h.5M39.2 19.8h.5M35.9 20.5h.5M38.5 20.3h.5M34.8 20.3h.5M35.9 20.9h.5M39.3 20.0h.5M36.0 20.9h.5M36.7 19.5h.5M35.0 20.5h.5M38.5 19.7h.5M38.3 19.9h.5M39.1 19.1h.5M36.1 21.6h.5M36.2 21.0h.5M39.1 19.8h.5M38.6 20.2h.5M35.8 19.8h.5M37.0 21.4h.5M35.2 20.5h.5M35.9 21.3h.5M35.7 20.5h.5M36.2 21.2h.5M38.2 20.9h.5M36.3 20.8h.5M35.7 21.0h.5M34.9 20.9h.5M37.0 20.4h.5M39.0 19.8h.5" stroke="#F4A62A" stroke-width="0.5" fill="none"/>
<path d="M38.1 20.0h.5M35.2 21.1h.5M38.1 19.6h.5M39.4 19.7h.5M35.9 21.4h.5M39.0 19.6h.5M37.1 20.8h.5M37.5 20.2h.5M37.8 20.2h.5M37.2 20.6h.5M37.5 21.4h.5M36.1 20.4h.5M38.7 20.8h.5M38.7 20.0h.5M37.6 20.1h.5M36.4 20.7h.5" stroke="#EC5622" stroke-width="0.5" fill="none"/>
<ellipse cx="36.0" cy="19.8" rx="11.8" ry="5.6" fill="none" stroke="#222" stroke-width="0.45" transform="rotate(-20 36.0 19.8)"/>
<ellipse cx="59.3" cy="12.8" rx="12.3" ry="7.8" fill="none" stroke="#222" stroke-width="0.45" transform="rotate(-12 59.3 12.8)"/>
<ellipse cx="60.2" cy="41.8" rx="11.2" ry="14.8" fill="none" stroke="#222" stroke-width="0.45" transform="rotate(0 60.2 41.8)"/>
<text x="15.7" y="8.6" font-size="3.7" style="font-family:'Liberation Serif',serif" fill="#333">Microglia</text>
<text x="15.7" y="12.4" font-size="3.7" style="font-family:'Liberation Serif',serif" fill="#333">46.22%</text>
<text x="48.8" y="4" font-size="3.7" style="font-family:'Liberation Serif',serif" fill="#333">Macrophages</text>
<text x="48.8" y="8" font-size="3.7" style="font-family:'Liberation Serif',serif" fill="#333">1.62%</text>
<text x="50.2" y="59.9" font-size="3.7" style="font-family:'Liberation Serif',serif" fill="#333">Lymphocytes</text>
<text x="50.2" y="64" font-size="3.7" style="font-family:'Liberation Serif',serif" fill="#333">0.44%</text>
<line x1="2.34" y1="67.10" x2="2.34" y2="68.30" stroke="#333" stroke-width="0.35"/>
<line x1="14.82" y1="67.10" x2="14.82" y2="68.30" stroke="#333" stroke-width="0.35"/>
<line x1="39.00" y1="67.10" x2="39.00" y2="68.30" stroke="#333" stroke-width="0.35"/>
<line x1="56.94" y1="67.10" x2="56.94" y2="68.30" stroke="#333" stroke-width="0.35"/>
<line x1="76.83" y1="67.10" x2="76.83" y2="68.30" stroke="#333" stroke-width="0.35"/>
<line x1="-1.20" y1="2.01" x2="0.00" y2="2.01" stroke="#333" stroke-width="0.35"/>
<line x1="-1.20" y1="20.13" x2="0.00" y2="20.13" stroke="#333" stroke-width="0.35"/>
<line x1="-1.20" y1="37.58" x2="0.00" y2="37.58" stroke="#333" stroke-width="0.35"/>
<line x1="-1.20" y1="51.67" x2="0.00" y2="51.67" stroke="#333" stroke-width="0.35"/>
<line x1="-1.20" y1="66.09" x2="0.00" y2="66.09" stroke="#333" stroke-width="0.35"/>
<text x="2.3" y="71.7" font-size="3.0" text-anchor="middle" fill="#222">-10³·⁵</text>
<text x="14.8" y="71.7" font-size="3.0" text-anchor="middle" fill="#222">0</text>
<text x="39.0" y="71.7" font-size="3.0" text-anchor="middle" fill="#222">10⁴</text>
<text x="56.9" y="71.7" font-size="3.0" text-anchor="middle" fill="#222">10⁵</text>
<text x="76.8" y="71.7" font-size="3.0" text-anchor="middle" fill="#222">10⁵·⁵</text>
<text transform="translate(-2.4 2.0) rotate(-90)" text-anchor="middle" font-size="3" fill="#222">10⁵·⁵</text>
<text transform="translate(-2.4 20.1) rotate(-90)" text-anchor="middle" font-size="3" fill="#222">10⁵</text>
<text transform="translate(-2.4 37.6) rotate(-90)" text-anchor="middle" font-size="3" fill="#222">10⁴</text>
<text transform="translate(-2.4 51.7) rotate(-90)" text-anchor="middle" font-size="3" fill="#222">0</text>
<text transform="translate(-2.4 66.1) rotate(-90)" text-anchor="middle" font-size="3" fill="#222">-10⁴·¹</text>
<text transform="translate(-9.6 35.6) rotate(-90)" text-anchor="middle" font-size="3.2" fill="#222">CD11b-A</text>
<text x="39.0" y="76.9" font-size="3.2" text-anchor="middle" fill="#222">CD45-A</text>
<text x="39.0" y="-1.6" text-anchor="middle" font-size="3.9" fill="#222">Tube_004 / <tspan fill="#D22">R1</tspan> / <tspan fill="#2A8A3A">Singlets</tspan> / <tspan fill="#2F55C8">Live cells</tspan> / <tspan fill="#D22">P4</tspan></text>
</g>
<g transform="translate(486.5 185.2)">
<rect x="0.00" y="0.00" width="78.00" height="67.20" fill="#fff" stroke="#3a3a3a" stroke-width="0.55"/>
<path d="M48.4 13.5h.5M45.5 12.4h.5M21.6 31.3h.5M40.0 12.2h.5M19.4 28.2h.5M21.8 18.8h.5M20.6 27.5h.5M20.7 23.5h.5M18.2 26.5h.5M52.6 15.2h.5M21.7 21.2h.5M41.8 27.6h.5M53.9 16.3h.5M48.1 11.0h.5M41.2 12.6h.5M48.4 14.0h.5M42.9 27.6h.5M49.8 22.4h.5M20.1 21.1h.5M33.7 29.5h.5M43.4 28.8h.5M27.6 33.0h.5M25.5 17.3h.5M21.8 28.8h.5M46.3 23.6h.5M49.7 20.3h.5M46.3 10.4h.5M56.7 16.1h.5M50.5 19.2h.5M20.4 31.8h.5M24.9 30.0h.5M40.8 11.0h.5M20.5 24.2h.5M33.1 11.9h.5M55.2 23.4h.5M22.1 26.8h.5M19.7 24.5h.5M49.9 19.0h.5M24.2 30.9h.5M38.2 10.6h.5M50.9 28.7h.5M39.1 29.2h.5M23.6 20.2h.5M46.1 32.3h.5M49.8 28.8h.5M36.7 30.0h.5M22.5 30.6h.5M47.7 23.9h.5M55.1 23.2h.5M59.2 19.2h.5M55.8 24.5h.5M30.1 42.0h.5M37.1 6.5h.5M34.6 38.2h.5M22.0 51.0h.5M36.0 56.9h.5M30.7 60.2h.5M43.9 26.0h.5M34.3 50.0h.5M33.0 43.5h.5M43.3 25.7h.5M36.5 4.1h.5M14.5 21.4h.5M14.7 28.3h.5M29.3 12.3h.5M35.8 32.1h.5M29.4 14.1h.5M20.1 25.6h.5M48.1 27.0h.5M54.7 13.4h.5M14.9 13.1h.5M33.3 12.0h.5M53.9 18.6h.5M18.4 25.7h.5M41.5 27.8h.5M43.6 12.3h.5M15.0 22.7h.5M21.7 20.4h.5M53.5 12.4h.5M52.7 25.3h.5M60.5 41.8h.5M63.9 38.3h.5M66.2 47.7h.5M54.3 52.7h.5M64.4 44.8h.5M64.5 33.1h.5M66.8 44.7h.5M59.8 37.8h.5M57.7 42.1h.5M63.3 61.9h.5M66.7 44.0h.5M58.5 46.0h.5M62.3 56.0h.5M62.6 16.6h.5M58.6 13.2h.5M63.2 12.5h.5M48.3 11.4h.5M47.8 23.1h.5M60.0 20.1h.5M67.1 47.1h.5M65.2 48.8h.5M53.2 45.1h.5M52.2 49.7h.5M53.3 41.2h.5M55.9 49.8h.5M69.7 35.7h.5M70.4 45.6h.5M60.3 37.8h.5M58.6 33.2h.5M61.4 50.7h.5M35.5 62.2h.5M64.2 49.8h.5M63.6 28.9h.5M30.1 43.6h.5M61.1 12.2h.5M61.0 6.7h.5M65.0 15.7h.5M56.9 15.1h.5M60.9 55.7h.5M63.9 50.6h.5M48.8 21.2h.5M63.6 8.9h.5M55.5 18.4h.5M68.0 61.2h.5M23.4 21.0h.5M25.9 27.7h.5M37.6 31.9h.5M42.4 25.5h.5M37.7 12.2h.5M15.0 29.4h.5M58.7 14.7h.5M48.4 19.4h.5M54.6 14.7h.5M31.5 33.1h.5M49.7 10.9h.5M50.4 21.4h.5M18.4 31.4h.5M19.4 28.1h.5M46.4 9.8h.5M25.8 29.0h.5M60.9 10.3h.5M34.0 36.1h.5M59.8 44.6h.5M71.0 42.9h.5M59.9 51.2h.5M75.3 11.0h.5M50.3 14.9h.5M64.1 15.6h.5M59.1 9.0h.5M75.9 15.2h.5M30.2 32.3h.5M64.5 11.5h.5M62.0 10.3h.5M55.5 10.6h.5M70.3 11.8h.5M62.3 18.8h.5M50.7 10.2h.5M55.2 12.6h.5M71.4 16.0h.5M65.5 10.1h.5M35.6 32.5h.5M29.9 43.5h.5M31.0 43.3h.5M62.8 44.0h.5M64.0 40.0h.5M38.8 31.6h.5M44.2 47.4h.5M49.6 26.2h.5M33.8 34.0h.5M42.0 45.8h.5M29.8 29.4h.5M35.3 33.3h.5M29.0 45.7h.5M32.2 41.3h.5M34.2 45.1h.5M60.6 10.6h.5M69.2 12.4h.5M55.1 13.4h.5M61.0 19.2h.5M72.1 18.4h.5M37.1 44.4h.5M31.9 42.3h.5M32.1 44.6h.5M32.6 43.0h.5M33.5 31.1h.5M34.0 42.0h.5M37.8 33.0h.5M31.6 51.1h.5M33.4 43.0h.5M36.3 41.7h.5M51.8 8.4h.5M36.4 41.2h.5M27.8 33.5h.5M32.8 42.5h.5M29.8 42.6h.5M29.1 37.9h.5M30.9 32.1h.5M30.4 39.7h.5M43.8 41.4h.5M31.8 30.2h.5M61.8 61.0h.5M53.7 11.8h.5M61.4 11.2h.5M66.1 16.5h.5M63.8 15.4h.5M53.0 16.6h.5M56.6 6.3h.5M62.9 47.0h.5M67.4 39.9h.5M66.3 49.7h.5M50.2 9.8h.5M65.6 41.5h.5M63.1 39.9h.5M55.7 41.9h.5M59.1 59.5h.5M65.6 26.5h.5M60.8 40.3h.5M60.8 47.3h.5M61.7 49.2h.5M57.6 57.2h.5M55.5 9.9h.5M49.7 14.0h.5M56.2 8.9h.5M56.5 7.3h.5M56.8 19.4h.5M54.7 8.6h.5M60.2 11.3h.5M56.8 49.5h.5M61.7 6.1h.5M70.7 8.4h.5M35.6 34.6h.5M74.6 7.5h.5M67.4 12.8h.5M74.6 14.4h.5M54.0 20.0h.5M66.6 52.2h.5M63.5 16.9h.5M48.2 11.0h.5M56.1 2.8h.5M41.3 42.2h.5M36.1 40.8h.5M38.0 46.1h.5M42.9 36.3h.5M38.9 51.6h.5M31.2 37.3h.5M35.9 49.8h.5M27.6 30.2h.5M39.5 36.5h.5M22.9 33.0h.5M38.0 33.0h.5M41.0 41.0h.5M47.6 24.6h.5M37.9 35.6h.5M29.1 38.3h.5M25.5 30.3h.5M31.8 32.4h.5M29.7 45.7h.5M38.2 32.2h.5M52.9 50.0h.5M25.6 16.5h.5M39.7 38.7h.5M25.0 41.0h.5M23.4 17.3h.5M20.0 19.9h.5M49.4 22.4h.5M52.4 16.3h.5M32.4 12.2h.5M21.2 26.4h.5M47.3 12.1h.5M28.9 45.0h.5M25.4 27.4h.5M34.5 47.7h.5M32.4 39.4h.5M50.3 39.5h.5M26.6 40.2h.5M34.2 45.8h.5M29.4 44.3h.5M26.6 32.3h.5M21.5 32.6h.5M36.7 58.6h.5M36.6 33.9h.5M36.0 53.9h.5M45.6 38.9h.5M45.4 49.7h.5M36.2 45.2h.5M28.7 28.8h.5M54.3 12.8h.5M33.2 50.8h.5M42.7 25.8h.5M50.9 11.4h.5M48.4 15.6h.5M21.8 19.3h.5M28.4 15.6h.5M48.2 10.7h.5M29.3 44.6h.5M30.6 32.0h.5M33.8 35.7h.5M28.2 39.6h.5M38.1 28.1h.5M31.1 31.4h.5M28.5 51.2h.5M46.5 44.1h.5M22.4 58.9h.5M35.3 41.4h.5M38.7 52.4h.5M41.8 29.7h.5M37.7 38.0h.5M33.3 54.9h.5M35.5 49.8h.5M39.3 36.6h.5M30.3 32.2h.5M22.0 23.8h.5M40.8 26.1h.5M23.8 26.4h.5M21.9 24.8h.5M24.7 27.4h.5M46.6 21.6h.5M37.7 27.5h.5M36.6 35.0h.5M33.8 37.3h.5M22.8 24.4h.5M47.4 18.8h.5M29.4 29.8h.5M48.0 19.3h.5M36.6 27.1h.5M42.8 25.6h.5M32.7 33.1h.5M24.7 20.3h.5M43.8 13.9h.5M24.5 25.0h.5M34.1 29.1h.5M46.6 12.8h.5M26.4 18.1h.5M41.5 25.0h.5M25.5 18.8h.5M48.0 20.1h.5M33.6 29.9h.5M48.4 16.1h.5M47.8 17.1h.5M39.8 26.4h.5M27.8 16.7h.5M45.2 21.8h.5M42.1 24.7h.5M42.5 23.4h.5M41.2 13.1h.5M41.6 24.0h.5M43.3 23.4h.5M35.5 28.1h.5M47.6 15.7h.5M27.0 17.3h.5M47.5 18.1h.5M24.7 25.8h.5M31.7 29.5h.5" stroke="#2B4BDE" stroke-width="0.5" fill="none"/>
<path d="M24.9 21.0h.5M33.2 14.8h.5M48.4 20.0h.5M22.9 21.6h.5M44.6 22.0h.5M48.3 18.0h.5M37.2 13.7h.5M35.9 13.3h.5M42.1 13.6h.5M36.8 27.6h.5M42.1 13.6h.5M31.0 15.6h.5M24.5 25.3h.5M34.2 26.1h.5M46.1 19.3h.5M34.5 26.8h.5M38.9 25.3h.5M42.3 12.6h.5M43.5 24.3h.5M35.2 14.7h.5M40.6 13.8h.5M46.9 17.8h.5M25.7 25.0h.5M45.6 16.0h.5M46.7 17.7h.5M34.3 15.2h.5M25.5 25.7h.5M44.2 20.1h.5M24.4 23.3h.5M47.7 16.9h.5M45.6 19.0h.5M24.2 22.8h.5M25.3 25.4h.5M36.7 25.9h.5M24.9 25.3h.5M45.5 16.7h.5M46.6 16.0h.5M34.4 15.0h.5M25.5 24.2h.5" stroke="#3269E1" stroke-width="0.5" fill="none"/>
<path d="M38.2 25.3h.5M26.3 19.1h.5M36.0 27.0h.5M23.8 23.5h.5M44.8 19.6h.5M45.9 17.3h.5M46.0 17.3h.5M45.8 17.4h.5M40.5 13.9h.5M27.9 26.3h.5M40.2 24.9h.5M46.0 19.9h.5M34.6 27.3h.5M38.8 24.7h.5M37.6 24.4h.5M34.2 15.4h.5M31.2 25.7h.5M43.8 15.2h.5M26.3 20.2h.5M23.6 23.8h.5M45.4 14.6h.5M35.3 26.4h.5M33.3 26.4h.5M45.4 18.5h.5M34.1 15.6h.5M27.0 18.8h.5M28.1 17.8h.5M26.1 26.2h.5M35.6 25.4h.5M39.2 23.5h.5M26.7 25.7h.5M33.8 15.3h.5M24.2 23.8h.5M44.7 21.8h.5M29.4 25.0h.5M45.0 16.1h.5M25.1 21.6h.5M42.3 13.9h.5M34.0 26.6h.5M25.8 25.0h.5M43.4 15.7h.5M35.4 25.7h.5M30.6 26.9h.5M42.1 15.5h.5M37.2 14.6h.5M40.3 14.7h.5M23.9 24.4h.5M43.4 15.5h.5M43.9 20.3h.5M34.5 25.3h.5M44.5 17.7h.5M26.8 20.7h.5M36.2 25.3h.5M38.2 25.1h.5M39.9 15.6h.5M37.0 15.3h.5M25.4 21.6h.5M25.0 23.2h.5" stroke="#3987E4" stroke-width="0.5" fill="none"/>
<path d="M45.8 19.7h.5M26.3 21.9h.5M31.4 25.6h.5M42.5 22.9h.5M38.6 14.9h.5M29.8 24.5h.5M32.4 15.4h.5M46.2 19.7h.5M44.9 16.2h.5M36.1 14.6h.5M39.4 14.7h.5M42.0 15.1h.5M36.8 24.3h.5M29.7 17.0h.5M26.6 20.9h.5M25.8 20.4h.5M40.5 15.3h.5M34.4 26.3h.5M27.7 17.9h.5M28.7 25.6h.5M27.2 18.9h.5M26.1 21.4h.5M27.5 19.2h.5M44.2 17.8h.5M26.5 21.6h.5M37.4 23.4h.5M39.8 14.9h.5M43.8 18.1h.5M39.7 22.3h.5M27.6 24.8h.5M38.8 23.2h.5M30.5 25.5h.5M27.9 24.9h.5M27.7 24.8h.5M44.9 20.1h.5M26.1 23.5h.5M42.4 20.9h.5M38.0 15.9h.5M26.6 19.4h.5M32.1 25.5h.5M26.5 24.8h.5M39.9 23.6h.5M43.1 15.6h.5M40.9 22.4h.5M27.5 24.0h.5M30.8 16.6h.5M40.4 23.9h.5M39.6 21.9h.5M33.2 16.1h.5M45.0 16.5h.5M43.7 20.5h.5M43.0 15.6h.5M25.9 23.1h.5M26.1 20.4h.5M33.6 16.0h.5M38.9 23.7h.5M41.4 22.6h.5M43.8 16.6h.5M38.0 23.7h.5M31.5 16.1h.5M44.0 16.1h.5M27.3 24.3h.5M40.2 20.7h.5M26.2 25.8h.5M32.9 24.8h.5M27.2 21.2h.5M34.2 15.7h.5M41.7 20.9h.5M40.9 22.7h.5M42.3 16.3h.5M30.7 24.8h.5M26.8 21.4h.5" stroke="#3E9ED3" stroke-width="0.5" fill="none"/>
<path d="M29.7 17.2h.5M39.8 23.3h.5M27.9 19.7h.5M37.5 24.5h.5M27.0 18.9h.5M36.4 24.3h.5M40.5 22.1h.5M28.9 19.0h.5M40.8 22.0h.5M37.6 23.4h.5M28.7 18.0h.5M28.5 23.9h.5M36.6 15.8h.5M28.4 19.5h.5M34.7 24.6h.5M27.3 23.2h.5M42.4 19.4h.5M41.8 16.0h.5M41.2 15.5h.5M31.6 17.0h.5M37.0 24.6h.5M41.5 21.4h.5M43.0 17.7h.5M39.1 14.7h.5M30.6 25.3h.5M42.5 20.2h.5M41.3 15.7h.5M42.8 18.4h.5M41.2 20.9h.5M29.5 18.1h.5M41.7 16.3h.5M39.9 22.9h.5M42.6 17.2h.5M36.9 23.0h.5M41.5 20.1h.5M33.1 24.8h.5M42.4 20.1h.5M27.1 23.2h.5M27.1 21.8h.5M43.5 16.9h.5M41.0 16.6h.5M40.5 21.8h.5M27.0 19.5h.5M27.5 21.2h.5M39.9 15.9h.5M34.9 23.0h.5M42.9 17.0h.5M38.1 23.9h.5M34.7 16.5h.5M42.0 17.2h.5M32.9 24.9h.5M43.1 18.9h.5M42.7 19.6h.5M31.2 23.7h.5M36.0 24.8h.5M36.4 15.1h.5M33.6 24.2h.5M33.7 24.6h.5M32.6 25.4h.5M26.8 21.1h.5M41.5 16.8h.5M42.1 16.2h.5M38.9 15.0h.5M27.5 21.4h.5M27.4 22.6h.5M29.5 24.7h.5M30.3 18.4h.5M41.0 20.4h.5M34.6 24.0h.5" stroke="#42AFAE" stroke-width="0.5" fill="none"/>
<path d="M27.4 21.6h.5M29.3 19.6h.5M39.9 17.3h.5M38.8 15.2h.5M43.3 18.1h.5M36.8 23.1h.5M42.3 16.4h.5M30.9 17.8h.5M27.7 22.6h.5M37.8 23.6h.5M30.2 24.3h.5M42.8 16.9h.5M42.3 19.4h.5M40.3 22.5h.5M39.3 15.4h.5M35.7 23.9h.5M27.5 23.2h.5M40.1 21.4h.5M34.5 23.4h.5M39.9 21.0h.5M27.6 19.7h.5M26.9 21.3h.5M37.3 23.3h.5M35.7 16.1h.5M31.6 24.6h.5M42.8 19.1h.5M36.1 17.0h.5M29.8 24.4h.5M40.6 16.7h.5M42.3 19.7h.5M37.3 16.1h.5M40.7 22.4h.5M30.9 23.6h.5M41.7 19.4h.5M41.3 21.2h.5M30.4 18.5h.5M29.5 18.8h.5M41.6 21.1h.5M39.6 15.9h.5M39.8 15.3h.5M31.4 24.9h.5M36.7 16.4h.5M27.7 20.9h.5M38.7 22.1h.5M38.8 22.0h.5M32.1 17.6h.5M27.5 22.1h.5M42.5 18.9h.5M27.5 21.6h.5M36.0 16.0h.5M41.2 20.4h.5M32.7 24.0h.5M27.7 23.1h.5M37.8 23.5h.5M40.5 16.2h.5M41.6 15.8h.5M41.4 20.1h.5M27.9 19.1h.5M39.6 21.6h.5M28.1 22.7h.5M38.4 22.5h.5M28.5 20.6h.5M42.5 19.5h.5M31.6 18.4h.5M27.7 20.6h.5M41.1 19.6h.5M40.3 20.6h.5M40.3 15.8h.5M32.5 17.1h.5M41.6 16.4h.5M29.3 24.1h.5M37.3 15.9h.5M43.2 18.7h.5M37.3 22.8h.5M36.4 23.2h.5M35.9 23.4h.5M34.3 23.8h.5M31.9 17.3h.5M28.8 21.0h.5M35.7 16.6h.5M41.3 20.9h.5M39.6 22.9h.5M35.9 15.9h.5M40.0 15.9h.5M32.7 24.1h.5M40.5 17.3h.5M30.6 17.9h.5M27.9 23.0h.5M35.3 16.4h.5M29.8 19.8h.5M41.0 18.4h.5M29.0 19.4h.5M29.8 22.2h.5M40.4 21.7h.5M29.1 18.7h.5M29.0 19.9h.5M41.4 20.0h.5M36.6 23.3h.5M36.5 22.7h.5M28.0 22.9h.5M38.6 16.1h.5" stroke="#49BF89" stroke-width="0.5" fill="none"/>
<path d="M42.0 18.4h.5M28.7 22.7h.5M40.7 20.7h.5M29.7 19.5h.5M28.2 21.8h.5M34.0 23.5h.5M39.4 16.8h.5M28.4 20.1h.5M28.5 21.8h.5M39.0 17.1h.5M40.0 17.5h.5M28.0 22.4h.5M37.1 22.3h.5M38.7 20.8h.5M39.9 20.8h.5M29.8 19.9h.5M36.9 22.4h.5M35.8 23.0h.5M31.8 24.2h.5M30.1 19.0h.5M32.9 23.8h.5M37.8 22.9h.5M34.5 16.9h.5M37.3 15.9h.5M41.1 19.4h.5M41.7 20.1h.5M29.8 19.8h.5M40.3 19.3h.5M38.0 22.1h.5M41.1 16.6h.5M39.3 17.7h.5M29.4 22.3h.5M28.1 21.9h.5M33.2 23.2h.5M28.1 20.5h.5M35.8 16.6h.5M29.3 22.8h.5M28.7 20.7h.5M34.7 17.5h.5M34.4 17.0h.5M33.2 23.2h.5M37.7 21.5h.5M38.5 16.3h.5M30.4 21.0h.5M40.1 20.5h.5M28.3 22.9h.5M29.9 22.8h.5M28.6 20.6h.5M30.5 22.9h.5M28.9 22.0h.5M33.5 22.7h.5M35.6 23.2h.5M39.7 17.6h.5M29.1 20.2h.5M38.5 20.8h.5M30.1 21.1h.5M35.5 17.0h.5M39.5 20.7h.5M31.6 18.4h.5M40.7 17.0h.5M39.3 20.1h.5M31.7 18.0h.5M40.7 19.1h.5M28.0 21.5h.5M31.6 23.9h.5M36.8 21.7h.5M40.2 18.8h.5M32.6 17.1h.5M29.6 22.1h.5M39.0 16.7h.5M37.4 20.6h.5M31.1 23.9h.5M39.9 17.2h.5M32.1 23.3h.5M36.4 16.7h.5M30.9 18.6h.5M40.2 17.6h.5M29.5 22.8h.5M31.1 18.1h.5M30.4 18.8h.5M30.4 19.0h.5M31.3 23.1h.5M32.5 23.4h.5M33.8 17.0h.5M40.9 18.3h.5M29.3 23.2h.5M39.9 20.7h.5M40.1 20.4h.5M34.6 17.1h.5M39.7 16.3h.5M37.2 22.2h.5M30.3 18.8h.5M39.1 21.8h.5M36.2 17.0h.5M34.6 23.8h.5M28.4 22.2h.5M28.5 21.5h.5M31.0 22.5h.5M33.5 17.1h.5M38.9 17.3h.5M29.1 22.3h.5M34.7 23.0h.5M31.1 19.3h.5M38.7 20.1h.5M40.3 18.3h.5M37.7 21.1h.5M38.1 21.7h.5M28.7 22.3h.5M39.0 19.7h.5M39.0 20.7h.5M30.3 19.2h.5M40.4 18.0h.5M30.7 22.9h.5M38.3 22.0h.5M36.9 21.7h.5M34.3 17.0h.5M33.2 17.7h.5M33.7 17.3h.5M38.9 20.0h.5M39.5 17.3h.5M30.6 19.1h.5M32.7 23.1h.5M36.4 16.8h.5M37.0 17.7h.5M37.8 22.2h.5M39.4 20.2h.5M35.0 22.3h.5" stroke="#66C666" stroke-width="0.5" fill="none"/>
<path d="M35.7 16.7h.5M28.9 22.1h.5M38.5 18.3h.5M32.4 18.1h.5M30.3 19.6h.5M35.5 16.9h.5M39.9 19.5h.5M38.7 17.4h.5M37.7 17.3h.5M34.8 17.5h.5M39.9 19.5h.5M41.1 18.2h.5M35.2 17.2h.5M29.8 22.3h.5M38.4 21.0h.5M38.6 20.8h.5M35.3 22.4h.5M32.2 23.5h.5M37.7 17.2h.5M33.5 22.9h.5M35.3 16.2h.5M39.1 19.9h.5M39.7 20.6h.5M38.1 21.6h.5M36.7 22.1h.5M39.8 18.7h.5M39.8 19.2h.5M36.2 22.7h.5M40.0 17.6h.5M33.5 17.4h.5M38.2 21.4h.5M38.7 20.8h.5M29.1 22.2h.5M31.2 23.3h.5M39.1 19.8h.5M38.5 17.3h.5M38.6 18.0h.5M37.4 20.7h.5M33.0 23.4h.5M35.4 22.0h.5M33.4 22.8h.5M30.6 19.6h.5M29.1 23.0h.5M38.3 18.4h.5M38.6 19.0h.5M37.1 17.8h.5M35.3 22.1h.5M39.8 18.5h.5M36.1 21.9h.5M39.8 18.3h.5M30.5 20.0h.5M37.0 22.1h.5M40.1 18.5h.5M35.8 22.5h.5M37.7 17.3h.5M30.4 21.6h.5M30.6 21.3h.5M39.0 20.1h.5M32.2 22.6h.5M33.5 18.2h.5M34.6 22.4h.5M39.1 19.1h.5M33.5 17.8h.5M32.6 22.5h.5M38.8 20.2h.5M35.1 23.0h.5M35.7 17.0h.5M33.6 18.1h.5M36.4 21.3h.5M32.1 22.3h.5M40.0 20.5h.5M33.6 18.4h.5M40.6 19.5h.5M39.5 18.5h.5M36.6 21.0h.5M38.2 20.4h.5M32.6 18.8h.5M39.0 18.5h.5M36.9 21.0h.5M30.2 22.4h.5M37.7 18.0h.5M35.5 21.9h.5M37.9 17.2h.5M29.4 21.7h.5M39.0 16.8h.5M38.0 17.6h.5M30.3 20.6h.5M37.0 21.8h.5M31.2 19.5h.5M31.6 23.1h.5M39.5 18.7h.5M31.9 22.8h.5M30.5 22.0h.5M38.4 16.9h.5M34.8 17.9h.5M33.7 18.6h.5M30.3 21.2h.5M36.9 21.4h.5M37.9 17.6h.5M30.8 20.4h.5M30.9 22.0h.5M36.6 17.8h.5M29.1 19.9h.5M38.4 17.6h.5M38.7 17.6h.5M38.2 17.6h.5M39.6 20.1h.5M33.9 18.0h.5M33.6 18.4h.5M35.6 21.9h.5M34.1 18.5h.5M36.7 18.1h.5M29.8 21.4h.5M39.4 16.9h.5M39.9 19.2h.5M32.2 22.6h.5M30.4 19.6h.5M30.7 19.5h.5M33.0 22.9h.5" stroke="#85CE45" stroke-width="0.5" fill="none"/>
<path d="M41.0 18.5h.5M31.2 19.6h.5M29.2 22.0h.5M32.2 18.5h.5M38.0 18.2h.5M37.1 20.3h.5M36.6 21.7h.5M37.8 18.4h.5M30.5 22.9h.5M39.0 19.8h.5M35.5 21.8h.5M37.5 21.0h.5M33.6 18.1h.5M37.4 21.2h.5M35.0 22.2h.5M39.0 17.6h.5M36.6 17.4h.5M35.0 17.9h.5M32.0 18.9h.5M36.6 21.0h.5M31.2 21.7h.5M37.3 18.4h.5M36.3 21.2h.5M35.1 21.6h.5M31.9 19.1h.5M35.1 17.9h.5M32.2 22.5h.5M37.5 18.3h.5M38.3 19.5h.5M36.7 21.9h.5M33.5 22.5h.5M32.5 22.7h.5M34.3 22.4h.5M36.0 21.7h.5M30.1 21.2h.5M31.2 21.0h.5M38.7 18.2h.5M38.9 18.9h.5M30.7 22.1h.5M33.9 22.7h.5M31.3 21.8h.5M36.0 21.8h.5M35.2 17.4h.5M37.9 21.2h.5M37.1 17.8h.5M39.0 18.7h.5M34.6 21.6h.5M38.6 18.4h.5M37.4 18.0h.5M39.6 19.0h.5M33.6 23.0h.5M35.7 18.8h.5M38.2 19.4h.5M37.9 17.9h.5M30.0 22.0h.5M32.0 19.6h.5M38.6 17.8h.5M37.8 17.8h.5M31.6 18.4h.5M36.9 17.6h.5M34.3 18.0h.5M34.7 18.0h.5M35.6 17.6h.5M37.0 21.3h.5M37.3 20.1h.5M35.7 22.2h.5M37.2 18.3h.5M37.2 20.6h.5M32.0 22.5h.5M39.2 17.5h.5M38.4 18.3h.5M36.5 20.6h.5M31.1 22.4h.5M38.3 19.5h.5M36.8 21.7h.5M29.4 21.6h.5M35.8 21.8h.5M35.9 18.2h.5M32.3 18.3h.5M35.0 22.1h.5M33.6 21.4h.5M37.2 19.5h.5M31.5 22.6h.5M36.3 21.1h.5M34.2 18.3h.5M35.0 22.1h.5M33.5 22.0h.5M33.7 22.5h.5M35.6 19.1h.5M37.3 19.3h.5M34.7 21.8h.5M37.0 20.2h.5M38.9 18.1h.5M36.8 21.2h.5M35.9 21.5h.5M33.5 19.1h.5M36.0 21.4h.5M40.2 19.6h.5M31.5 19.5h.5M38.8 18.4h.5M38.7 19.2h.5M34.4 21.7h.5M36.4 21.5h.5M38.5 18.6h.5M33.6 22.9h.5M30.4 20.6h.5M37.3 21.5h.5M37.5 18.4h.5M38.3 18.5h.5M31.5 21.3h.5M37.5 20.5h.5M33.4 22.0h.5M34.6 21.5h.5M36.1 21.6h.5M35.7 21.2h.5M38.2 20.5h.5M31.8 19.5h.5M39.2 19.1h.5M33.7 18.8h.5M34.2 18.2h.5M38.2 19.3h.5M32.7 21.4h.5M31.5 19.8h.5M37.5 18.4h.5M36.6 17.7h.5M32.6 22.5h.5M35.5 21.7h.5M37.8 18.7h.5M31.5 20.3h.5M37.6 18.7h.5M35.7 18.3h.5M32.8 22.6h.5M36.7 19.7h.5M37.8 21.2h.5M34.6 18.3h.5M34.2 19.0h.5M35.6 20.5h.5M37.1 20.8h.5M36.2 20.1h.5M34.9 21.4h.5M35.2 17.8h.5M36.0 17.3h.5M33.6 18.8h.5M33.4 21.3h.5M37.8 19.7h.5M35.1 17.8h.5M30.4 20.5h.5M33.7 18.7h.5M36.4 20.3h.5M34.0 18.3h.5M38.3 18.7h.5M37.5 19.4h.5M33.6 19.1h.5M32.5 19.4h.5M36.8 20.4h.5M37.7 19.7h.5M31.2 20.2h.5M36.8 19.9h.5M37.9 19.2h.5M37.4 20.3h.5M35.3 21.1h.5M36.1 21.5h.5M36.3 21.9h.5M35.9 18.4h.5M35.8 19.6h.5M35.4 21.0h.5M37.4 18.9h.5M36.7 20.0h.5M33.5 18.9h.5M32.2 22.2h.5" stroke="#BFD83B" stroke-width="0.5" fill="none"/>
<path d="M30.4 20.8h.5M32.0 21.2h.5M31.6 22.8h.5M36.2 18.5h.5M35.6 18.8h.5M32.2 19.8h.5M30.9 21.3h.5M35.3 21.5h.5M31.4 21.2h.5M37.2 19.1h.5M33.6 18.7h.5M33.5 18.6h.5M32.2 19.9h.5M36.1 20.6h.5M36.8 20.0h.5M37.9 18.1h.5M31.2 21.3h.5M33.9 20.0h.5M34.2 18.6h.5M34.6 19.1h.5M35.4 18.6h.5M34.4 22.0h.5M37.8 19.0h.5M35.3 18.3h.5M37.7 18.6h.5M37.6 20.1h.5M38.1 19.7h.5M32.4 21.5h.5M31.4 21.9h.5M36.7 19.6h.5M33.3 19.1h.5M37.3 20.5h.5M37.6 19.4h.5M32.2 22.1h.5M31.8 22.3h.5M30.9 19.8h.5M36.5 18.6h.5M32.8 21.7h.5M33.6 18.6h.5M34.3 18.8h.5M32.7 21.4h.5M33.3 18.4h.5M36.7 21.0h.5M37.3 19.2h.5M36.6 20.2h.5M31.8 20.8h.5M33.1 19.7h.5M36.7 19.3h.5M32.4 19.2h.5M32.3 19.7h.5M36.5 18.4h.5M31.9 20.8h.5M35.2 18.9h.5M31.7 20.4h.5M34.5 19.3h.5M31.1 19.7h.5M34.5 22.0h.5M31.3 21.4h.5M37.6 19.7h.5M31.3 21.3h.5M32.6 19.6h.5M32.2 21.9h.5M37.5 19.6h.5M37.3 18.9h.5M31.6 19.3h.5M32.4 20.0h.5M31.6 20.7h.5M33.6 18.4h.5M38.0 19.0h.5M35.9 20.1h.5M37.8 18.6h.5M34.9 21.0h.5M31.4 20.6h.5M33.6 21.5h.5M33.7 19.6h.5M33.2 19.0h.5M33.2 19.7h.5M35.4 18.8h.5M32.3 21.5h.5M36.8 20.9h.5M32.7 20.8h.5M36.3 19.6h.5M31.7 22.2h.5M35.5 19.2h.5M33.8 21.8h.5M34.7 18.3h.5M36.2 19.4h.5M36.1 18.7h.5M34.6 22.3h.5M34.7 18.9h.5M37.6 19.8h.5M32.3 21.9h.5M37.1 19.2h.5M35.5 18.5h.5M33.1 19.3h.5M36.7 20.3h.5M31.8 21.2h.5M35.8 19.9h.5M35.3 20.3h.5M34.6 19.1h.5M35.3 19.0h.5M31.6 21.5h.5M35.8 20.1h.5M35.2 19.5h.5M31.9 21.8h.5M36.2 21.3h.5M37.6 20.2h.5M36.2 19.0h.5M33.5 20.6h.5M36.5 18.8h.5M35.0 20.8h.5M33.6 19.9h.5M32.5 20.3h.5M34.1 21.7h.5M36.3 19.0h.5M32.8 20.2h.5M35.4 19.3h.5M30.9 21.7h.5M33.8 19.1h.5M36.8 19.3h.5M36.0 20.0h.5M36.0 20.4h.5M33.3 19.3h.5M33.9 19.0h.5M35.7 18.7h.5M33.4 20.8h.5M32.7 22.5h.5M32.4 21.1h.5M33.8 19.6h.5M33.4 20.1h.5M33.4 21.3h.5M32.2 21.1h.5M33.1 21.5h.5M32.7 20.1h.5M31.7 21.9h.5M36.2 18.6h.5M35.9 20.6h.5M36.3 20.6h.5M31.3 20.0h.5M35.0 19.6h.5M35.3 18.3h.5M33.9 21.1h.5M33.0 20.9h.5M31.9 21.4h.5M33.7 21.8h.5M33.1 19.3h.5M37.2 20.6h.5M36.2 20.0h.5M37.1 20.1h.5M35.4 20.4h.5M32.2 20.1h.5M34.7 19.6h.5M32.8 20.0h.5M35.5 18.6h.5M31.6 21.2h.5M32.9 19.6h.5M33.0 20.1h.5M32.4 20.3h.5M33.9 19.9h.5M35.6 18.4h.5M35.3 20.1h.5M33.4 20.7h.5M37.4 19.9h.5M34.0 21.6h.5M34.4 18.9h.5M35.8 19.4h.5M35.7 21.2h.5M34.2 18.9h.5M34.5 18.7h.5M32.9 20.3h.5M34.4 21.7h.5M33.7 20.4h.5M34.6 20.2h.5M35.9 19.0h.5M35.3 18.7h.5M35.1 20.1h.5M36.4 19.9h.5M33.1 21.9h.5M33.1 20.0h.5M36.5 20.1h.5M31.3 20.9h.5M35.8 19.8h.5M35.9 18.4h.5" stroke="#F0DA31" stroke-width="0.5" fill="none"/>
<path d="M32.0 20.1h.5M34.6 20.3h.5M35.6 19.6h.5M32.9 21.7h.5M32.5 20.4h.5M34.3 20.5h.5M33.2 19.8h.5M35.1 21.1h.5M36.0 19.3h.5M34.2 20.8h.5M35.2 19.6h.5M33.6 21.2h.5M35.6 18.3h.5M33.8 19.6h.5M33.8 19.7h.5M35.3 18.9h.5M33.1 20.4h.5M36.3 20.5h.5M35.4 20.3h.5M33.8 19.0h.5M32.4 20.6h.5M36.0 21.5h.5M35.3 20.9h.5M33.9 19.6h.5M32.9 22.4h.5M36.5 19.8h.5M32.7 20.3h.5M31.0 20.9h.5M34.6 21.4h.5M37.0 18.9h.5M32.0 20.5h.5M34.1 20.9h.5M33.5 19.9h.5M35.8 20.0h.5M32.3 20.3h.5M34.7 18.9h.5M37.1 19.2h.5M34.0 19.3h.5M33.8 20.7h.5M32.3 21.7h.5M34.9 19.3h.5M32.1 20.1h.5M35.1 20.7h.5M35.9 18.6h.5M35.1 19.3h.5M35.6 20.0h.5M33.2 21.1h.5M33.7 21.2h.5M36.6 20.8h.5M31.4 21.4h.5M33.1 21.3h.5M35.0 21.0h.5M38.1 19.4h.5M35.7 18.5h.5M32.8 20.7h.5M34.3 19.3h.5M37.7 19.7h.5M36.0 20.4h.5M35.4 20.3h.5M32.0 20.8h.5M35.4 19.5h.5M37.0 19.4h.5M31.5 20.6h.5M32.9 20.1h.5M35.3 18.8h.5M33.2 19.8h.5M34.2 21.4h.5M35.8 19.8h.5M31.7 20.9h.5M36.2 19.2h.5M32.6 21.1h.5M35.3 20.0h.5M34.9 20.5h.5M32.8 20.7h.5M34.0 21.0h.5M36.2 19.7h.5M33.6 18.9h.5M32.8 21.2h.5M32.7 21.5h.5M35.0 19.8h.5M34.1 20.2h.5M35.2 19.6h.5M34.0 20.1h.5M34.8 18.9h.5M32.8 21.3h.5M35.8 21.0h.5M36.7 20.5h.5M34.0 19.3h.5M34.6 20.1h.5M36.0 20.6h.5M35.0 21.3h.5M33.7 21.3h.5M32.6 19.9h.5M33.5 19.4h.5M33.9 20.0h.5M34.8 19.3h.5M33.8 21.2h.5M32.7 20.4h.5M36.4 19.3h.5M33.6 20.9h.5M35.7 19.1h.5M35.7 19.6h.5M33.7 20.5h.5M34.5 20.5h.5M34.6 19.8h.5M35.1 19.7h.5M33.9 19.8h.5M34.7 19.5h.5M33.9 19.8h.5M34.3 19.2h.5M35.4 20.1h.5M33.2 19.3h.5M33.7 20.9h.5M34.3 20.6h.5M34.6 20.2h.5M34.4 19.7h.5M33.7 19.6h.5M36.8 19.6h.5M33.3 20.7h.5M35.9 20.2h.5M36.0 20.5h.5M33.2 20.2h.5M36.8 19.4h.5M33.6 21.1h.5M35.0 20.3h.5M34.4 21.0h.5M33.4 20.9h.5M33.6 19.5h.5M33.8 20.7h.5M35.8 20.4h.5M34.5 18.9h.5M33.4 20.8h.5M34.5 20.1h.5" stroke="#F4A62A" stroke-width="0.5" fill="none"/>
<path d="M36.1 19.4h.5M33.4 20.6h.5M32.4 20.1h.5M33.8 19.7h.5M33.8 20.9h.5M36.1 19.6h.5M32.7 21.1h.5M35.0 19.7h.5M34.3 21.0h.5M32.9 20.8h.5M34.3 20.8h.5M32.3 20.2h.5M33.5 19.0h.5M36.1 20.2h.5M33.8 20.5h.5M34.3 20.2h.5M33.1 20.3h.5M32.4 21.0h.5M32.7 20.7h.5M34.7 20.7h.5M33.4 20.2h.5M36.6 19.9h.5M35.4 20.1h.5M34.0 20.4h.5M34.3 19.8h.5M33.5 21.0h.5M34.9 20.9h.5M33.6 20.1h.5M35.4 20.4h.5M33.5 20.6h.5M33.2 20.5h.5M35.1 20.0h.5M36.9 19.4h.5M34.4 21.0h.5M34.8 20.3h.5M33.9 20.1h.5M33.2 21.0h.5M33.9 21.5h.5M34.9 20.5h.5M34.4 20.8h.5M33.7 20.1h.5M35.0 19.0h.5M33.3 20.9h.5M33.5 20.2h.5M33.5 20.4h.5" stroke="#EC5622" stroke-width="0.5" fill="none"/>
<ellipse cx="36.0" cy="19.5" rx="11.8" ry="5.6" fill="none" stroke="#222" stroke-width="0.45" transform="rotate(-20 36.0 19.5)"/>
<ellipse cx="60.2" cy="13.2" rx="12.3" ry="7.8" fill="none" stroke="#222" stroke-width="0.45" transform="rotate(-12 60.2 13.2)"/>
<ellipse cx="60.2" cy="41.6" rx="11.2" ry="14.8" fill="none" stroke="#222" stroke-width="0.45" transform="rotate(0 60.2 41.6)"/>
<text x="15.7" y="8.6" font-size="3.7" style="font-family:'Liberation Serif',serif" fill="#333">Microglia</text>
<text x="15.7" y="12.8" font-size="3.7" style="font-family:'Liberation Serif',serif" fill="#333">83.85%</text>
<text x="48.8" y="4.2" font-size="3.7" style="font-family:'Liberation Serif',serif" fill="#333">Macrophages</text>
<text x="48.8" y="8.2" font-size="3.7" style="font-family:'Liberation Serif',serif" fill="#333">2.20%</text>
<text x="50.2" y="59.8" font-size="3.7" style="font-family:'Liberation Serif',serif" fill="#333">Lymphocytes</text>
<text x="50.2" y="63.9" font-size="3.7" style="font-family:'Liberation Serif',serif" fill="#333">2.22%</text>
<line x1="2.34" y1="67.20" x2="2.34" y2="68.40" stroke="#333" stroke-width="0.35"/>
<line x1="14.82" y1="67.20" x2="14.82" y2="68.40" stroke="#333" stroke-width="0.35"/>
<line x1="39.00" y1="67.20" x2="39.00" y2="68.40" stroke="#333" stroke-width="0.35"/>
<line x1="56.94" y1="67.20" x2="56.94" y2="68.40" stroke="#333" stroke-width="0.35"/>
<line x1="76.83" y1="67.20" x2="76.83" y2="68.40" stroke="#333" stroke-width="0.35"/>
<line x1="-1.20" y1="2.02" x2="0.00" y2="2.02" stroke="#333" stroke-width="0.35"/>
<line x1="-1.20" y1="20.16" x2="0.00" y2="20.16" stroke="#333" stroke-width="0.35"/>
<line x1="-1.20" y1="37.63" x2="0.00" y2="37.63" stroke="#333" stroke-width="0.35"/>
<line x1="-1.20" y1="51.74" x2="0.00" y2="51.74" stroke="#333" stroke-width="0.35"/>
<line x1="-1.20" y1="66.19" x2="0.00" y2="66.19" stroke="#333" stroke-width="0.35"/>
<text x="2.3" y="71.8" font-size="3.0" text-anchor="middle" fill="#222">-10³·⁵</text>
<text x="14.8" y="71.8" font-size="3.0" text-anchor="middle" fill="#222">0</text>
<text x="39.0" y="71.8" font-size="3.0" text-anchor="middle" fill="#222">10⁴</text>
<text x="56.9" y="71.8" font-size="3.0" text-anchor="middle" fill="#222">10⁵</text>
<text x="76.8" y="71.8" font-size="3.0" text-anchor="middle" fill="#222">10⁵·⁵</text>
<text transform="translate(-2.4 2.0) rotate(-90)" text-anchor="middle" font-size="3" fill="#222">10⁵·⁵</text>
<text transform="translate(-2.4 20.2) rotate(-90)" text-anchor="middle" font-size="3" fill="#222">10⁵</text>
<text transform="translate(-2.4 37.6) rotate(-90)" text-anchor="middle" font-size="3" fill="#222">10⁴</text>
<text transform="translate(-2.4 51.7) rotate(-90)" text-anchor="middle" font-size="3" fill="#222">0</text>
<text transform="translate(-2.4 66.2) rotate(-90)" text-anchor="middle" font-size="3" fill="#222">-10⁴·¹</text>
<text transform="translate(-9.6 35.6) rotate(-90)" text-anchor="middle" font-size="3.2" fill="#222">CD11b-A</text>
<text x="39.0" y="77.0" font-size="3.2" text-anchor="middle" fill="#222">CD45-A</text>
<text x="39.0" y="-1.6" text-anchor="middle" font-size="3.9" fill="#222">Tube_008 / <tspan fill="#D22">R1</tspan> / <tspan fill="#2A8A3A">Singlets</tspan> / <tspan fill="#2F55C8">Live cells</tspan> / <tspan fill="#D22">P4</tspan></text>
</g>
</g>
<g id="pi">
<text transform="translate(578.05 110) scale(1.14 1)" font-size="33.5" fill="#000">i</text>
<rect x="592.50" y="106.40" width="88.90" height="132.20" fill="#fff" stroke="#858585" stroke-width="0.7"/>
<line x1="590.90" y1="232.60" x2="592.50" y2="232.60" stroke="#333" stroke-width="0.5"/>
<text x="589.6" y="235.5" font-size="8.1" text-anchor="end" fill="#444" stroke="#444" stroke-width="0.2">0</text>
<line x1="590.90" y1="198.20" x2="592.50" y2="198.20" stroke="#333" stroke-width="0.5"/>
<text x="589.6" y="201.1" font-size="8.1" text-anchor="end" fill="#444" stroke="#444" stroke-width="0.2">25</text>
<line x1="590.90" y1="163.80" x2="592.50" y2="163.80" stroke="#333" stroke-width="0.5"/>
<text x="589.6" y="166.7" font-size="8.1" text-anchor="end" fill="#444" stroke="#444" stroke-width="0.2">50</text>
<line x1="590.90" y1="129.40" x2="592.50" y2="129.40" stroke="#333" stroke-width="0.5"/>
<text x="589.6" y="132.3" font-size="8.1" text-anchor="end" fill="#444" stroke="#444" stroke-width="0.2">75</text>
<rect x="608.00" y="148.94" width="16.60" height="83.66" fill="#DC5044" stroke="#222" stroke-width="0.6"/>
<line x1="616.30" y1="238.60" x2="616.30" y2="240.20" stroke="#333" stroke-width="0.5"/>
<rect x="648.60" y="121.97" width="16.40" height="110.63" fill="#49B0C7" stroke="#222" stroke-width="0.6"/>
<line x1="656.80" y1="238.60" x2="656.80" y2="240.20" stroke="#333" stroke-width="0.5"/>
<line x1="616.40" y1="144.00" x2="616.40" y2="154.00" stroke="#111" stroke-width="0.6"/>
<line x1="612.40" y1="144.00" x2="620.40" y2="144.00" stroke="#111" stroke-width="0.6"/>
<line x1="612.40" y1="154.00" x2="620.40" y2="154.00" stroke="#111" stroke-width="0.6"/>
<line x1="657.00" y1="120.00" x2="657.00" y2="124.40" stroke="#111" stroke-width="0.6"/>
<line x1="653.00" y1="120.00" x2="661.00" y2="120.00" stroke="#111" stroke-width="0.6"/>
<line x1="653.00" y1="124.40" x2="661.00" y2="124.40" stroke="#111" stroke-width="0.6"/>
<circle cx="616" cy="139.6" r="1.8" fill="#000"/>
<circle cx="618" cy="139" r="1.8" fill="#000"/>
<circle cx="613" cy="152" r="1.8" fill="#000"/>
<circle cx="618" cy="155.4" r="1.8" fill="#000"/>
<circle cx="616.6" cy="169" r="1.8" fill="#000"/>
<circle cx="653" cy="117.4" r="1.8" fill="#000"/>
<circle cx="657" cy="117.4" r="1.8" fill="#000"/>
<circle cx="660" cy="121.6" r="1.8" fill="#000"/>
<circle cx="654" cy="128" r="1.8" fill="#000"/>
<circle cx="660.6" cy="127.4" r="1.8" fill="#000"/>
<path d="M616.4 114.4V111.6H657V114.4" fill="none" stroke="#222" stroke-width="0.5"/>
<text x="636.6" y="112.6" font-size="7" text-anchor="middle" fill="#111">**</text>
<text x="577.4" y="174.5" font-size="6.8" text-anchor="middle" fill="#111" transform="rotate(-90 577.4 174.5)">Microglia (%)</text>
<text x="618" y="250.2" font-size="10.7" text-anchor="middle" font-weight="bold" fill="#555">Flea−</text>
<text x="658.6" y="250.2" font-size="10.7" text-anchor="middle" font-weight="bold" fill="#555">Flea+</text>
</g>
<g id="pj">
<text transform="translate(434.63 310) scale(1.14 1)" font-size="33.5" fill="#000">j</text>
<text x="512.2" y="304.4" font-size="16.4" text-anchor="middle" font-weight="bold" style="font-family:'Liberation Serif',serif" fill="#000">Iba1</text>
<g transform="translate(453.1 310.4)">
<rect x="0.00" y="0.00" width="119.20" height="79.20" fill="#020502"/>
<path d="M15.3 48.9h0.6M59.5 49.8h0.6M71.7 12.0h0.6M3.4 66.0h0.6M17.6 43.8h0.6M15.5 41.6h0.6M113.0 25.6h0.6M74.1 50.9h0.6M44.0 48.2h0.6M61.0 40.6h0.6M79.0 25.7h0.6M16.4 29.5h0.6M93.9 70.5h0.6M79.9 36.6h0.6M61.1 37.6h0.6M97.4 20.5h0.6M65.4 20.1h0.6M116.9 75.5h0.6M24.4 24.9h0.6M66.0 68.8h0.6M57.6 47.1h0.6M42.1 77.7h0.6M28.0 74.6h0.6M95.6 61.2h0.6M15.3 56.1h0.6M55.7 57.2h0.6M33.0 35.5h0.6M9.9 50.3h0.6M106.8 18.1h0.6M17.6 53.6h0.6M80.3 37.6h0.6M24.1 71.7h0.6M107.5 20.9h0.6M3.9 78.1h0.6M23.9 71.1h0.6M41.2 76.4h0.6M108.0 13.1h0.6M2.0 9.1h0.6M19.1 11.9h0.6M118.8 1.5h0.6M6.5 49.6h0.6M4.1 36.0h0.6M100.8 58.8h0.6M70.1 63.8h0.6M36.8 30.3h0.6M37.8 42.4h0.6M10.6 7.7h0.6M20.6 22.6h0.6M2.9 17.6h0.6M100.0 24.4h0.6M55.6 25.7h0.6M15.2 45.5h0.6M88.1 26.4h0.6M23.3 25.9h0.6M7.4 65.8h0.6M71.3 1.0h0.6M106.8 0.4h0.6M3.2 4.5h0.6M96.0 68.6h0.6M22.7 50.2h0.6M2.1 75.8h0.6M34.9 17.3h0.6M86.7 72.9h0.6M101.7 41.1h0.6M25.9 53.9h0.6M37.6 63.1h0.6M30.8 19.7h0.6M116.6 37.8h0.6M40.6 22.8h0.6M37.5 71.7h0.6M89.0 46.1h0.6M4.8 62.3h0.6M48.2 26.3h0.6M29.2 77.7h0.6M100.8 35.5h0.6M88.4 12.6h0.6M65.1 42.0h0.6M82.5 54.9h0.6M93.1 53.1h0.6M110.6 3.3h0.6M93.7 40.5h0.6M90.5 11.1h0.6M119.1 25.4h0.6M29.1 67.1h0.6M7.3 49.1h0.6M103.7 76.9h0.6M75.9 7.0h0.6M19.0 8.1h0.6M59.4 43.7h0.6M27.6 24.5h0.6M4.6 8.5h0.6M66.2 38.0h0.6M75.9 37.1h0.6M38.7 49.1h0.6M76.7 21.6h0.6M42.0 69.7h0.6M15.6 22.8h0.6M37.6 8.5h0.6M47.1 27.6h0.6M13.8 12.6h0.6M10.3 22.0h0.6M108.1 66.8h0.6M83.5 3.6h0.6M81.5 14.3h0.6M17.2 58.8h0.6M55.4 78.4h0.6M5.9 76.0h0.6M95.6 59.6h0.6M85.7 72.4h0.6M31.9 11.5h0.6M94.1 67.3h0.6M29.7 31.4h0.6M16.4 24.8h0.6M46.5 39.7h0.6M59.3 2.8h0.6M34.1 1.5h0.6M71.8 47.2h0.6M74.2 75.8h0.6M42.6 64.8h0.6M87.6 74.5h0.6M34.6 50.4h0.6M49.5 46.5h0.6M65.9 6.4h0.6M61.8 60.2h0.6M30.7 16.0h0.6M116.7 62.6h0.6M11.4 36.8h0.6M38.7 0.6h0.6M65.5 44.5h0.6M3.4 35.1h0.6M18.5 5.9h0.6M95.3 20.7h0.6M93.4 24.3h0.6M75.9 27.4h0.6M107.5 56.0h0.6M90.1 13.2h0.6M35.6 35.1h0.6M76.9 48.1h0.6M40.5 74.9h0.6M89.4 9.1h0.6M45.9 6.3h0.6M18.3 15.2h0.6M104.5 17.5h0.6M82.3 12.9h0.6M88.8 6.0h0.6M66.7 16.6h0.6M93.3 17.7h0.6M67.4 51.3h0.6M7.5 28.8h0.6M66.2 13.3h0.6M95.7 13.5h0.6M59.1 38.1h0.6M105.1 69.0h0.6M12.9 56.7h0.6M104.4 16.1h0.6M10.8 5.4h0.6M73.8 34.5h0.6M54.2 28.8h0.6M16.4 20.2h0.6M49.3 45.0h0.6M63.0 40.9h0.6M59.5 71.4h0.6M16.0 9.0h0.6M61.0 15.5h0.6M102.8 44.8h0.6M20.4 44.8h0.6M116.2 60.1h0.6M5.3 55.2h0.6M118.1 10.5h0.6M63.9 47.7h0.6M14.3 24.2h0.6M49.9 28.4h0.6M85.1 0.7h0.6M64.5 67.6h0.6M34.3 56.8h0.6M30.4 59.6h0.6M103.3 22.8h0.6M91.3 33.1h0.6M52.0 13.9h0.6M9.5 74.0h0.6M19.0 20.6h0.6M43.2 55.5h0.6M60.5 10.0h0.6M8.5 42.5h0.6M6.4 8.7h0.6M26.2 42.8h0.6M46.0 42.9h0.6M88.1 27.5h0.6M72.7 27.7h0.6M53.9 32.3h0.6M104.3 8.9h0.6M109.1 22.4h0.6M43.5 67.1h0.6M105.8 77.0h0.6M110.8 29.6h0.6M48.5 69.0h0.6M88.9 69.2h0.6M43.5 17.3h0.6M18.3 21.7h0.6M68.6 55.1h0.6M10.3 24.2h0.6M79.1 75.7h0.6M96.5 28.9h0.6M109.1 57.8h0.6M53.4 56.0h0.6M14.0 16.9h0.6M107.6 68.6h0.6M103.7 26.0h0.6M115.3 8.7h0.6M80.3 35.8h0.6M44.5 50.1h0.6M85.9 21.2h0.6M38.7 67.1h0.6M82.4 2.6h0.6M59.9 20.8h0.6M115.3 35.5h0.6M19.8 27.8h0.6M58.1 31.3h0.6M19.0 67.4h0.6M58.2 48.0h0.6M39.6 30.9h0.6M70.8 39.7h0.6M47.6 59.1h0.6M15.2 72.4h0.6M3.9 48.5h0.6M46.6 34.5h0.6M69.5 20.9h0.6M61.8 72.2h0.6M108.7 63.3h0.6M111.6 17.5h0.6M95.3 34.6h0.6M56.9 70.0h0.6M62.4 19.5h0.6M47.4 64.5h0.6M5.0 17.3h0.6M95.2 29.7h0.6M29.3 6.0h0.6M3.5 53.3h0.6M55.6 57.6h0.6M85.6 2.3h0.6M52.0 23.9h0.6M43.4 60.9h0.6M78.5 15.9h0.6M19.4 42.5h0.6M70.6 45.1h0.6M63.2 9.7h0.6M103.2 72.0h0.6M49.6 59.1h0.6M93.7 44.7h0.6M2.1 26.4h0.6M71.3 31.0h0.6M27.0 9.4h0.6M8.0 9.7h0.6M44.7 13.5h0.6M40.2 19.5h0.6M43.6 46.8h0.6M68.9 7.5h0.6M45.9 6.3h0.6M37.8 33.2h0.6M46.2 6.2h0.6M6.1 5.3h0.6M66.1 8.3h0.6M74.4 30.9h0.6M114.1 22.3h0.6M42.3 58.8h0.6M78.2 18.5h0.6M52.7 22.7h0.6M25.6 37.3h0.6M106.0 5.9h0.6M88.9 35.6h0.6M112.4 46.2h0.6M97.9 65.3h0.6M109.4 4.4h0.6M15.3 63.4h0.6M1.9 45.1h0.6M23.7 45.8h0.6M49.1 4.0h0.6M82.0 69.7h0.6M52.3 22.0h0.6M61.2 43.3h0.6M90.7 42.7h0.6M8.4 72.1h0.6M5.8 78.5h0.6M29.6 18.4h0.6M86.1 52.4h0.6M81.4 45.7h0.6M98.7 43.6h0.6M32.8 26.7h0.6M3.7 50.8h0.6M29.5 6.6h0.6M2.5 37.9h0.6M116.1 45.0h0.6M25.4 53.1h0.6M36.5 9.9h0.6M36.7 4.9h0.6M45.2 47.3h0.6M12.4 6.5h0.6M46.4 18.2h0.6M3.0 35.5h0.6M108.4 2.6h0.6M33.5 75.0h0.6M32.3 18.2h0.6M81.0 48.3h0.6M105.2 17.6h0.6M35.3 47.2h0.6M85.2 25.2h0.6M73.2 46.4h0.6M21.3 47.4h0.6M21.5 54.5h0.6M90.3 21.3h0.6M84.3 7.3h0.6M106.8 20.1h0.6M93.0 25.9h0.6M106.1 24.7h0.6M82.9 7.8h0.6M68.7 47.3h0.6M81.3 8.7h0.6M40.9 54.5h0.6M57.5 12.6h0.6M84.5 28.2h0.6M111.6 74.5h0.6M101.0 7.2h0.6M44.4 34.6h0.6M110.5 48.6h0.6M47.0 31.2h0.6M11.1 44.5h0.6M61.5 68.4h0.6M96.4 63.3h0.6M104.6 29.6h0.6M18.2 42.6h0.6" stroke="#0D3808" stroke-width="0.6" fill="none"/>
<path d="M110.6 76.2h0.7M8.4 14.8h0.7M32.8 39.9h0.7M70.5 13.0h0.7M103.4 45.0h0.7M51.2 1.7h0.7M25.9 64.8h0.7M55.9 12.6h0.7M83.1 18.1h0.7M40.4 28.6h0.7M54.8 73.9h0.7M82.4 28.6h0.7M11.1 57.7h0.7M58.8 19.2h0.7M112.2 3.6h0.7M52.0 77.7h0.7M8.0 71.5h0.7M78.8 47.0h0.7M17.8 50.6h0.7M74.6 73.0h0.7M17.1 53.1h0.7M52.8 77.2h0.7M106.6 64.2h0.7M4.2 70.9h0.7M42.8 34.6h0.7M19.4 69.4h0.7M17.2 49.4h0.7M42.6 56.3h0.7M9.4 75.6h0.7M72.8 54.4h0.7M13.7 35.5h0.7M108.8 74.1h0.7M66.9 73.4h0.7M114.8 27.6h0.7M8.0 70.4h0.7M96.1 18.8h0.7M95.9 78.2h0.7M90.6 43.8h0.7M72.2 20.9h0.7M28.6 59.4h0.7M95.2 58.1h0.7M80.3 4.9h0.7M53.4 38.0h0.7M97.1 7.5h0.7M84.1 20.8h0.7M44.3 2.8h0.7M51.1 54.0h0.7M101.6 6.6h0.7M73.5 54.3h0.7M1.4 77.6h0.7M8.1 77.4h0.7M54.8 46.5h0.7M24.7 12.4h0.7M48.3 47.7h0.7M87.9 66.5h0.7M3.5 56.3h0.7M5.4 38.1h0.7M70.8 4.0h0.7M21.8 21.5h0.7M34.8 66.7h0.7M53.5 12.6h0.7M111.7 45.9h0.7M107.3 60.6h0.7M47.6 42.7h0.7M1.4 63.8h0.7M3.3 46.1h0.7M15.2 3.6h0.7M67.2 50.3h0.7M105.8 45.9h0.7M22.0 65.1h0.7M0.3 30.8h0.7M89.3 60.4h0.7M80.9 47.6h0.7M48.3 40.7h0.7M35.1 49.7h0.7M96.6 35.9h0.7M14.6 16.9h0.7M69.8 23.5h0.7M26.7 35.8h0.7M44.9 27.9h0.7M94.4 37.6h0.7M50.2 48.1h0.7M15.9 32.8h0.7M45.9 40.9h0.7M68.6 49.3h0.7M46.2 53.8h0.7M95.4 9.8h0.7M53.8 0.5h0.7" stroke="#17580E" stroke-width="0.7" fill="none"/>
<path d="M115.7 61.7h0.8M20.1 64.0h0.8" stroke="#217712" stroke-width="0.8" fill="none"/>
</g>
<g transform="translate(453.1 391.1)">
<rect x="0.00" y="0.00" width="119.20" height="79.10" fill="#020502"/>
<path d="M112.9 33.3h0.6M22.6 55.0h0.6M27.5 21.3h0.6M13.7 4.0h0.6M64.5 59.4h0.6M30.7 71.1h0.6M110.6 16.6h0.6M22.4 24.5h0.6M112.8 74.1h0.6M110.0 14.1h0.6M104.9 36.8h0.6M7.7 19.5h0.6M111.7 52.6h0.6M48.6 40.4h0.6M78.9 11.2h0.6M92.8 43.9h0.6M24.0 49.4h0.6M16.0 45.8h0.6M91.0 33.1h0.6M71.5 77.4h0.6M49.9 13.5h0.6M20.3 49.7h0.6M71.6 77.8h0.6M33.7 29.0h0.6M56.7 26.6h0.6M95.5 64.0h0.6M88.6 24.2h0.6M113.2 12.2h0.6M53.5 71.9h0.6M48.2 18.0h0.6M91.0 78.2h0.6M114.7 8.5h0.6M82.8 31.2h0.6M8.1 31.7h0.6M25.1 79.1h0.6M9.2 29.2h0.6M81.9 70.8h0.6M37.0 51.5h0.6M9.7 61.3h0.6M103.8 12.4h0.6M83.1 41.9h0.6M55.0 35.4h0.6M102.5 69.6h0.6M63.8 59.1h0.6M22.5 35.3h0.6M89.5 30.3h0.6M107.7 47.8h0.6M6.8 61.6h0.6M59.5 55.0h0.6M57.9 1.0h0.6M82.8 48.6h0.6M89.7 9.6h0.6M111.3 27.6h0.6M23.4 27.3h0.6M6.7 61.0h0.6M1.2 44.2h0.6M82.9 41.2h0.6M0.8 37.2h0.6M98.7 13.8h0.6M101.8 16.9h0.6M60.1 65.1h0.6M94.1 76.1h0.6M17.9 41.8h0.6M48.8 22.6h0.6M33.0 56.8h0.6M94.6 1.8h0.6M55.9 5.2h0.6M91.7 36.0h0.6M105.6 34.2h0.6M37.4 10.6h0.6M11.8 7.0h0.6M0.3 55.5h0.6M81.4 63.4h0.6M69.0 8.9h0.6M82.4 25.9h0.6M26.1 21.8h0.6M21.4 35.8h0.6M34.5 5.2h0.6M117.6 43.7h0.6M58.3 65.6h0.6M68.7 59.9h0.6M116.9 35.6h0.6M45.9 64.9h0.6M22.0 78.8h0.6M24.0 55.0h0.6M71.8 43.6h0.6M30.7 61.6h0.6M99.7 29.9h0.6M78.9 35.8h0.6M111.8 75.5h0.6M51.9 11.9h0.6M103.9 14.0h0.6M106.9 1.4h0.6M2.7 25.3h0.6M95.7 51.4h0.6M107.1 27.5h0.6M81.0 22.4h0.6M41.7 72.5h0.6M33.8 44.7h0.6M96.1 14.3h0.6M107.4 4.6h0.6M92.0 13.4h0.6M15.0 43.0h0.6M41.3 56.8h0.6M93.8 38.2h0.6M58.9 51.0h0.6M93.6 47.3h0.6M26.6 74.7h0.6M32.2 63.8h0.6M1.5 57.6h0.6M20.4 69.5h0.6M12.1 72.9h0.6M6.4 44.2h0.6M81.1 19.7h0.6M8.4 63.8h0.6M81.2 56.0h0.6M98.3 63.4h0.6M57.8 27.2h0.6M89.0 11.8h0.6M95.9 26.0h0.6M99.5 68.5h0.6M81.4 38.8h0.6M118.0 16.0h0.6M85.9 1.4h0.6M84.5 54.5h0.6M59.4 76.2h0.6M64.8 26.4h0.6M106.0 52.5h0.6M106.4 61.9h0.6M108.5 57.7h0.6M5.5 57.3h0.6M69.1 17.8h0.6M61.6 15.5h0.6M17.0 16.6h0.6M89.6 40.8h0.6M38.6 14.2h0.6M51.5 28.5h0.6M42.6 59.4h0.6M49.6 63.0h0.6M72.0 53.4h0.6M48.6 48.6h0.6M116.6 26.4h0.6M41.1 28.2h0.6M12.0 18.3h0.6M101.5 33.8h0.6M36.3 22.2h0.6M15.2 50.6h0.6M33.3 77.9h0.6M62.2 77.5h0.6M56.1 55.5h0.6M104.0 60.5h0.6M25.5 71.5h0.6M6.8 43.6h0.6M97.8 5.3h0.6M57.8 38.7h0.6M31.0 1.0h0.6M77.3 18.8h0.6M92.8 67.3h0.6M12.7 39.5h0.6M58.9 72.3h0.6M115.0 36.6h0.6M6.7 27.2h0.6M74.6 75.7h0.6M46.5 37.5h0.6M32.7 61.2h0.6M110.5 11.5h0.6M25.4 72.9h0.6M70.2 40.8h0.6M31.2 56.9h0.6M112.6 13.8h0.6M89.6 39.4h0.6M95.3 24.8h0.6M12.2 13.4h0.6M12.8 29.9h0.6M32.1 54.5h0.6M70.5 13.3h0.6M22.7 21.6h0.6M111.1 17.0h0.6M4.4 15.3h0.6M18.9 13.8h0.6M28.3 25.6h0.6M78.2 79.0h0.6M82.9 54.9h0.6M95.6 62.2h0.6M64.7 23.7h0.6M116.1 63.2h0.6M117.8 29.7h0.6M1.8 39.1h0.6M67.6 57.6h0.6M90.8 2.0h0.6M88.8 44.0h0.6M48.7 68.9h0.6M46.8 24.5h0.6M113.1 75.4h0.6M6.8 13.2h0.6M82.6 53.5h0.6M2.6 23.8h0.6M72.9 17.0h0.6M8.5 23.1h0.6M42.2 56.9h0.6M38.4 34.0h0.6M48.7 32.6h0.6M9.7 74.6h0.6M59.1 55.6h0.6M107.9 40.2h0.6M53.1 6.1h0.6M62.2 61.9h0.6M16.0 6.0h0.6M23.8 45.1h0.6M71.3 66.8h0.6M27.3 56.3h0.6M24.4 43.3h0.6M95.4 26.5h0.6M56.3 67.4h0.6M93.5 2.8h0.6M59.9 39.2h0.6M64.0 43.0h0.6M108.4 17.6h0.6M100.9 43.5h0.6M76.6 21.4h0.6M92.4 22.8h0.6M62.3 21.2h0.6M16.2 2.3h0.6M99.6 46.1h0.6M21.7 62.2h0.6M77.3 55.1h0.6M20.2 65.6h0.6M15.2 43.5h0.6M108.4 78.7h0.6M77.9 72.9h0.6M114.2 66.2h0.6M30.5 75.0h0.6M97.6 54.1h0.6M0.8 55.9h0.6M19.3 31.0h0.6M43.8 30.1h0.6M47.9 58.5h0.6M62.6 10.0h0.6M97.0 41.9h0.6M117.4 57.0h0.6M30.8 12.0h0.6M49.8 67.2h0.6M107.4 28.9h0.6M17.8 68.1h0.6M50.4 73.9h0.6M5.3 47.8h0.6M24.7 60.4h0.6M61.2 75.6h0.6M41.2 36.7h0.6M100.8 29.2h0.6M4.5 26.9h0.6M113.5 44.4h0.6M112.2 69.3h0.6M30.3 51.0h0.6M69.7 75.9h0.6M58.6 35.8h0.6M91.0 49.3h0.6M73.0 29.0h0.6M88.9 67.5h0.6M73.5 53.5h0.6M64.0 74.6h0.6M21.3 47.5h0.6M48.3 59.3h0.6M26.9 78.4h0.6M104.7 68.2h0.6M81.0 53.0h0.6M87.6 51.3h0.6M94.9 8.9h0.6M86.5 6.7h0.6M5.5 49.2h0.6M61.1 31.2h0.6M15.8 36.3h0.6M37.7 64.4h0.6M31.8 50.6h0.6M106.2 65.9h0.6M35.9 77.9h0.6M17.6 78.8h0.6M68.7 77.9h0.6M65.4 11.8h0.6M43.8 23.0h0.6M3.0 51.5h0.6M95.2 57.7h0.6M89.9 22.5h0.6M112.1 32.9h0.6M87.2 15.7h0.6M17.3 47.4h0.6M88.5 71.4h0.6M2.9 8.8h0.6M108.3 32.9h0.6M100.7 55.3h0.6M80.1 46.0h0.6M53.4 8.7h0.6M12.0 29.9h0.6M88.8 3.0h0.6M7.8 38.1h0.6M104.9 24.2h0.6M63.1 58.4h0.6M53.5 79.0h0.6M33.8 45.6h0.6M95.8 6.9h0.6M73.3 18.9h0.6M32.7 66.1h0.6M20.1 17.8h0.6M77.7 76.0h0.6M80.9 70.4h0.6M10.0 69.9h0.6M105.3 4.6h0.6M71.7 10.0h0.6M102.4 61.5h0.6M114.0 70.5h0.6M118.6 48.2h0.6M47.0 38.2h0.6M43.6 3.2h0.6M108.8 62.3h0.6M56.5 58.3h0.6M35.6 69.6h0.6M46.2 75.5h0.6M42.9 66.5h0.6M47.7 37.3h0.6M69.4 36.1h0.6M67.7 25.5h0.6M38.6 54.8h0.6M92.5 2.6h0.6M105.8 8.6h0.6M42.8 43.7h0.6M94.1 55.7h0.6M93.4 20.5h0.6M94.4 55.1h0.6M49.3 34.0h0.6M90.9 53.3h0.6M33.2 27.3h0.6M59.8 14.0h0.6M61.0 2.9h0.6M88.8 10.1h0.6M73.8 0.4h0.6M95.2 34.3h0.6M80.5 76.8h0.6M48.1 14.2h0.6M17.1 28.6h0.6M24.8 7.8h0.6M71.1 63.4h0.6M0.5 9.4h0.6M31.8 72.2h0.6M25.0 11.6h0.6M22.6 66.1h0.6M110.1 33.8h0.6M88.3 26.0h0.6M0.8 44.8h0.6M103.3 39.8h0.6M11.0 27.1h0.6M44.4 15.5h0.6M32.9 29.9h0.6M31.4 14.8h0.6M40.9 59.5h0.6M60.2 20.2h0.6M21.4 62.9h0.6M49.3 68.3h0.6M77.7 19.4h0.6M50.3 35.5h0.6M73.6 31.6h0.6M114.6 0.8h0.6M46.6 60.5h0.6M87.9 5.7h0.6M28.2 4.8h0.6M34.3 28.3h0.6M22.2 42.2h0.6M86.7 57.7h0.6M71.9 30.7h0.6M84.4 63.9h0.6M1.1 53.7h0.6M101.5 15.7h0.6M41.3 59.1h0.6M89.2 8.8h0.6M117.8 70.3h0.6M93.0 32.7h0.6M86.5 73.3h0.6M51.4 77.3h0.6M20.0 2.0h0.6M70.0 70.2h0.6M112.5 55.1h0.6M35.8 4.1h0.6M54.2 44.1h0.6M2.6 56.4h0.6M9.4 17.0h0.6M59.7 63.1h0.6M35.7 43.2h0.6M4.5 64.1h0.6M14.0 76.1h0.6M60.8 10.5h0.6M22.7 43.8h0.6M60.7 59.1h0.6M6.0 42.1h0.6M65.3 53.3h0.6M34.8 36.5h0.6M65.9 65.0h0.6M9.2 78.5h0.6M15.1 70.3h0.6M31.4 55.1h0.6M118.3 72.1h0.6M38.2 76.4h0.6M75.5 31.3h0.6M22.0 65.1h0.6M92.7 48.8h0.6M87.3 9.0h0.6M50.5 70.7h0.6M68.3 28.9h0.6M39.9 56.8h0.6M77.7 33.7h0.6M35.3 31.8h0.6M87.9 15.5h0.6M29.2 30.2h0.6M93.7 31.9h0.6M11.2 21.1h0.6M57.5 50.2h0.6M54.5 38.5h0.6M77.6 32.8h0.6M33.8 12.7h0.6M98.3 25.4h0.6M107.1 41.2h0.6M81.0 23.1h0.6M13.0 34.1h0.6M115.9 35.3h0.6M28.6 12.9h0.6M85.7 66.7h0.6M78.1 76.9h0.6M10.6 78.7h0.6M103.3 30.6h0.6M97.6 16.6h0.6M53.6 69.5h0.6M81.3 47.2h0.6M6.6 4.0h0.6M45.8 16.8h0.6M52.7 71.8h0.6M10.4 72.3h0.6M5.8 15.8h0.6M41.5 24.5h0.6M113.8 18.2h0.6M5.0 11.0h0.6M8.1 30.2h0.6M34.7 61.1h0.6M30.3 72.3h0.6M97.7 73.0h0.6M27.2 34.2h0.6M80.9 70.4h0.6M8.6 60.7h0.6M93.2 53.7h0.6M117.3 63.3h0.6M5.5 8.7h0.6M92.0 47.1h0.6M86.0 64.6h0.6M13.7 9.0h0.6M89.4 52.5h0.6M88.1 20.6h0.6M61.4 74.2h0.6M109.5 10.9h0.6M105.0 33.0h0.6M72.4 12.3h0.6M38.4 9.1h0.6M80.6 19.7h0.6M46.0 47.6h0.6M108.5 39.2h0.6M32.1 54.5h0.6M116.9 20.3h0.6M0.9 15.5h0.6M93.8 29.0h0.6M112.9 73.2h0.6M102.1 14.0h0.6M10.7 19.5h0.6M92.6 42.9h0.6M15.2 34.1h0.6M73.6 78.7h0.6M80.1 15.7h0.6M98.2 62.8h0.6M59.6 70.1h0.6M71.9 32.3h0.6M40.8 74.0h0.6M66.6 38.1h0.6M78.7 33.0h0.6M93.8 55.7h0.6M2.4 27.6h0.6M74.9 1.3h0.6M49.3 51.6h0.6M67.5 51.1h0.6M6.6 8.5h0.6M68.4 40.7h0.6M88.1 38.0h0.6M103.8 26.0h0.6M42.3 75.6h0.6M104.3 77.0h0.6M18.5 1.9h0.6M3.6 37.0h0.6M47.4 43.9h0.6M92.3 10.0h0.6M65.3 25.2h0.6M4.5 20.7h0.6M81.9 29.8h0.6M90.5 35.8h0.6M87.7 25.3h0.6M2.8 32.8h0.6M73.9 0.3h0.6M77.5 21.5h0.6M98.5 23.8h0.6M27.4 2.3h0.6M23.8 58.8h0.6M31.4 6.3h0.6M63.6 30.4h0.6M100.8 17.7h0.6M44.9 21.3h0.6M16.3 7.1h0.6M81.6 10.8h0.6M102.2 17.7h0.6M85.4 48.9h0.6M59.5 28.8h0.6M42.2 41.3h0.6M9.8 2.1h0.6M55.6 17.8h0.6M40.3 27.3h0.6M58.3 14.9h0.6M20.9 61.9h0.6M15.4 47.2h0.6M65.0 10.9h0.6M32.6 17.0h0.6M96.2 62.4h0.6M66.6 74.9h0.6M5.1 24.9h0.6M53.5 45.5h0.6M88.5 29.3h0.6M33.7 77.8h0.6M4.7 49.3h0.6M21.9 16.3h0.6M29.1 23.5h0.6M62.2 23.5h0.6M83.1 41.0h0.6M65.7 19.2h0.6M53.5 45.5h0.6M44.8 56.4h0.6M84.5 5.8h0.6M16.0 29.9h0.6M67.2 22.1h0.6M117.5 17.6h0.6M93.9 16.5h0.6M86.1 44.2h0.6M103.6 5.8h0.6M36.3 3.3h0.6M105.3 27.8h0.6M10.1 53.6h0.6M8.2 76.8h0.6M28.2 65.1h0.6M118.0 18.8h0.6M5.3 61.0h0.6M107.4 41.7h0.6M37.0 39.4h0.6M25.2 78.0h0.6M47.3 40.4h0.6M7.2 28.0h0.6M114.7 39.8h0.6M69.6 37.1h0.6M74.5 72.7h0.6M42.4 61.1h0.6M90.4 43.3h0.6M23.5 41.4h0.6M63.6 43.5h0.6M6.4 14.4h0.6M12.1 51.1h0.6M88.0 23.7h0.6M79.9 39.7h0.6" stroke="#0D3808" stroke-width="0.6" fill="none"/>
<path d="M21.4 49.2h0.7M106.8 4.9h0.7M102.3 27.6h0.7M0.3 43.3h0.7M30.8 20.6h0.7M77.4 62.7h0.7M26.2 11.3h0.7M2.4 47.6h0.7M16.1 20.8h0.7M38.6 1.9h0.7M93.0 50.4h0.7M109.0 19.1h0.7M86.9 44.9h0.7M84.8 67.6h0.7M66.5 56.3h0.7M26.5 56.5h0.7M112.9 13.6h0.7M112.4 18.6h0.7M52.0 50.4h0.7M34.7 35.6h0.7M97.6 27.9h0.7M12.2 62.6h0.7M22.5 45.4h0.7M82.5 41.3h0.7M82.9 5.5h0.7M93.2 42.1h0.7M72.3 67.5h0.7M112.3 21.3h0.7M62.1 23.2h0.7M14.5 70.3h0.7M94.7 73.8h0.7M92.4 25.8h0.7M17.9 29.3h0.7M8.5 71.2h0.7M85.9 16.0h0.7M81.2 12.0h0.7M109.8 47.8h0.7M48.3 19.0h0.7M9.3 18.4h0.7M8.8 5.7h0.7M26.5 30.5h0.7M118.7 40.2h0.7M11.7 57.8h0.7M105.0 53.8h0.7M51.9 30.5h0.7M48.4 42.8h0.7M67.3 56.2h0.7M5.2 7.8h0.7M28.1 2.5h0.7M50.0 67.7h0.7M100.3 32.0h0.7M4.5 1.0h0.7M35.2 40.0h0.7M67.5 35.0h0.7M44.0 44.2h0.7M15.5 44.1h0.7M29.1 67.5h0.7M72.8 7.3h0.7M0.9 29.9h0.7M113.4 20.6h0.7M14.6 13.0h0.7M96.1 37.7h0.7M22.5 56.7h0.7M91.2 74.7h0.7M39.6 15.5h0.7M23.7 9.2h0.7M118.7 28.3h0.7M81.8 58.8h0.7M107.6 40.5h0.7M15.2 65.5h0.7M35.2 71.1h0.7M105.2 62.7h0.7M73.9 65.6h0.7M103.3 42.9h0.7M88.2 77.3h0.7M64.7 50.1h0.7M115.4 23.2h0.7M16.1 63.4h0.7M104.9 73.6h0.7M89.1 35.7h0.7M94.2 29.5h0.7M117.2 62.4h0.7M49.2 70.6h0.7M86.0 31.0h0.7M94.3 46.6h0.7M98.6 32.1h0.7M99.1 47.8h0.7M91.1 37.7h0.7M10.1 18.3h0.7M36.1 66.2h0.7M64.2 37.6h0.7M19.4 17.1h0.7M85.3 69.5h0.7M70.6 27.0h0.7M107.8 18.2h0.7M69.6 24.8h0.7M47.9 25.6h0.7M3.7 61.4h0.7M56.0 6.0h0.7M111.2 2.2h0.7M107.0 32.4h0.7M100.4 55.3h0.7M67.2 43.2h0.7M102.8 57.7h0.7M87.0 8.3h0.7M110.4 4.7h0.7M86.6 33.5h0.7M90.9 20.3h0.7M114.9 60.4h0.7M12.3 39.0h0.7M43.1 78.4h0.7M102.0 10.7h0.7M35.1 63.6h0.7M76.2 28.8h0.7M91.7 71.1h0.7M62.0 59.5h0.7M37.2 52.9h0.7M106.4 40.9h0.7M76.2 2.9h0.7M54.3 69.1h0.7M34.4 19.5h0.7M22.7 4.6h0.7M71.7 54.5h0.7M30.3 77.8h0.7M82.7 30.4h0.7M16.3 24.3h0.7M67.9 35.7h0.7M36.0 78.1h0.7M111.4 13.4h0.7M32.9 27.2h0.7M47.0 56.2h0.7M57.5 16.0h0.7M58.3 61.7h0.7M15.4 35.8h0.7M108.7 70.4h0.7M37.0 38.5h0.7M51.2 27.5h0.7M39.9 16.4h0.7M93.0 10.4h0.7M115.9 61.5h0.7M55.1 3.7h0.7M117.6 61.2h0.7M111.8 42.9h0.7M64.5 76.4h0.7M19.2 14.7h0.7M100.4 10.7h0.7M0.8 75.8h0.7M95.1 18.5h0.7M76.5 20.2h0.7M43.0 67.1h0.7M103.0 25.7h0.7M92.4 30.5h0.7M114.6 66.0h0.7M39.3 51.2h0.7M18.0 29.5h0.7M57.8 56.0h0.7M116.8 3.2h0.7M85.2 23.7h0.7M11.4 70.1h0.7M105.8 21.7h0.7M28.2 35.9h0.7M101.2 60.3h0.7M116.0 8.5h0.7M11.0 57.8h0.7M88.6 15.5h0.7M33.1 56.9h0.7M2.0 34.1h0.7M72.8 44.6h0.7M85.9 56.0h0.7M117.2 19.9h0.7M114.6 32.4h0.7M1.6 55.0h0.7M118.6 33.5h0.7M44.4 59.1h0.7M35.3 5.4h0.7M2.9 57.0h0.7M47.3 50.9h0.7M52.0 37.3h0.7M45.9 59.4h0.7M9.7 71.1h0.7M11.3 75.2h0.7M14.6 56.2h0.7M18.4 7.3h0.7M118.3 78.1h0.7M83.9 30.4h0.7M95.8 21.5h0.7M58.8 15.8h0.7M93.0 74.2h0.7M27.5 28.1h0.7M97.9 71.8h0.7M35.0 50.4h0.7M45.4 59.4h0.7M32.8 57.8h0.7M14.2 28.4h0.7M58.7 29.5h0.7M2.7 11.8h0.7M97.7 50.7h0.7M96.8 6.2h0.7M60.0 48.7h0.7M59.1 31.7h0.7M118.7 1.5h0.7M101.2 20.0h0.7M117.3 61.0h0.7M80.6 17.1h0.7M34.5 3.1h0.7M68.7 60.8h0.7M87.0 56.8h0.7M23.4 21.6h0.7M78.1 35.2h0.7M77.5 23.8h0.7M23.9 60.4h0.7M109.9 55.4h0.7M25.6 62.2h0.7M91.3 16.4h0.7M28.8 55.2h0.7M110.2 77.3h0.7M70.5 33.3h0.7M29.0 25.2h0.7M83.2 15.6h0.7M82.7 68.0h0.7M13.6 1.9h0.7M2.0 6.7h0.7M15.5 20.0h0.7M103.6 55.3h0.7M7.3 66.6h0.7M59.9 59.4h0.7M3.1 17.0h0.7M57.4 75.3h0.7M5.3 45.9h0.7M9.2 9.1h0.7M110.2 3.5h0.7M68.3 3.4h0.7M66.2 0.4h0.7M30.3 17.0h0.7M83.3 15.0h0.7M55.4 65.7h0.7M118.0 5.4h0.7M111.2 60.1h0.7M57.9 64.3h0.7M28.7 41.7h0.7M13.8 12.8h0.7M64.9 36.3h0.7M105.5 10.9h0.7M100.3 18.5h0.7M105.8 34.5h0.7M19.2 68.4h0.7M104.5 34.0h0.7M111.0 6.1h0.7M19.9 28.5h0.7M80.1 24.7h0.7M19.9 38.9h0.7M112.3 32.3h0.7M12.3 1.1h0.7M106.6 45.3h0.7M112.7 2.2h0.7M34.4 62.6h0.7M49.1 45.2h0.7M98.8 32.6h0.7M11.4 48.5h0.7M13.6 16.7h0.7M100.7 69.6h0.7M110.4 54.4h0.7M5.8 46.7h0.7M69.9 4.5h0.7M39.1 31.4h0.7M19.1 75.4h0.7M76.6 0.1h0.7M72.3 71.1h0.7M106.3 18.5h0.7M98.0 7.0h0.7M40.2 18.7h0.7M80.3 26.6h0.7M49.3 56.8h0.7M15.5 63.3h0.7M31.2 63.7h0.7M63.8 40.2h0.7M100.2 41.7h0.7M91.0 73.7h0.7M78.2 61.6h0.7M118.1 28.7h0.7M51.4 3.9h0.7M112.0 57.9h0.7M103.4 4.9h0.7M103.0 12.4h0.7M9.9 40.3h0.7M92.0 66.1h0.7M102.0 50.4h0.7M40.7 33.9h0.7M101.3 39.0h0.7M114.6 15.7h0.7M12.5 3.1h0.7M106.6 50.9h0.7M96.7 59.1h0.7M53.7 51.9h0.7M33.2 29.0h0.7M115.9 45.4h0.7M52.2 60.2h0.7M89.7 29.9h0.7M47.6 10.1h0.7M27.7 35.1h0.7M114.3 17.1h0.7M12.0 21.8h0.7M40.4 76.7h0.7M6.3 50.4h0.7M45.0 64.0h0.7M7.3 46.1h0.7M44.8 22.5h0.7M50.8 12.6h0.7M4.1 0.7h0.7M25.2 6.7h0.7M79.7 53.0h0.7M48.7 12.6h0.7M0.0 6.3h0.7M110.2 76.6h0.7M52.4 75.3h0.7M38.1 28.5h0.7M45.1 52.6h0.7M90.1 76.4h0.7M96.2 63.6h0.7M86.7 66.2h0.7M35.1 78.2h0.7M63.8 59.0h0.7M34.8 45.6h0.7M28.4 30.4h0.7M17.4 56.1h0.7M56.2 73.0h0.7M73.5 47.8h0.7M55.0 15.1h0.7M63.7 19.5h0.7M61.6 30.6h0.7M66.0 59.5h0.7M3.8 51.8h0.7M82.3 56.7h0.7M37.9 46.5h0.7M110.3 39.7h0.7M58.1 1.6h0.7M39.4 21.5h0.7M109.3 17.8h0.7M33.4 39.0h0.7M79.1 42.0h0.7M5.6 37.4h0.7M23.8 7.5h0.7M68.6 61.8h0.7M108.1 31.4h0.7M48.5 13.6h0.7M10.3 35.0h0.7M67.6 29.5h0.7M73.4 16.5h0.7M37.5 9.7h0.7M75.0 28.2h0.7M58.9 30.0h0.7M118.2 49.4h0.7M15.9 34.8h0.7M6.6 10.2h0.7M21.0 42.7h0.7M93.9 78.4h0.7M45.5 70.7h0.7M116.8 46.4h0.7M40.6 16.4h0.7M111.5 70.3h0.7M105.3 18.6h0.7M65.6 3.6h0.7M1.9 13.4h0.7M117.0 68.1h0.7M95.8 79.1h0.7M74.9 71.9h0.7M34.1 19.1h0.7M33.3 29.3h0.7M110.8 44.2h0.7M78.3 74.3h0.7M102.6 16.3h0.7M92.3 15.7h0.7M85.9 53.2h0.7M107.2 39.0h0.7M106.3 75.6h0.7M98.4 72.3h0.7M87.4 18.2h0.7M41.2 7.0h0.7M67.0 63.5h0.7M51.7 0.7h0.7M95.3 6.4h0.7M46.7 28.9h0.7M65.1 54.5h0.7M37.6 53.0h0.7M13.1 0.8h0.7M66.5 73.9h0.7M35.4 70.2h0.7M91.1 70.0h0.7M88.8 75.0h0.7M33.6 64.9h0.7M92.6 48.0h0.7M56.5 58.8h0.7M119.0 21.3h0.7M88.1 54.8h0.7M26.6 49.9h0.7M118.9 22.0h0.7M17.2 60.6h0.7M49.2 44.9h0.7M82.0 57.1h0.7M2.8 54.1h0.7M74.0 39.0h0.7M79.5 20.6h0.7M18.8 18.3h0.7M39.1 32.2h0.7M45.5 15.7h0.7M72.0 20.3h0.7M92.4 31.0h0.7M67.3 69.9h0.7M48.2 40.0h0.7M110.2 54.8h0.7M101.7 21.4h0.7M101.2 32.7h0.7" stroke="#17580E" stroke-width="0.7" fill="none"/>
<path d="M41.7 51.5h0.8M79.9 3.5h0.8M12.7 25.4h0.8M54.1 69.4h0.8M55.8 55.7h0.8M108.0 46.1h0.8M9.7 61.2h0.8M73.5 4.3h0.8M104.8 57.7h0.8M106.3 58.6h0.8M54.6 22.4h0.8M23.0 15.1h0.8M17.3 8.0h0.8M12.9 73.3h0.8M34.9 53.3h0.8M92.7 37.2h0.8M29.2 75.1h0.8M4.2 48.2h0.8M57.8 45.5h0.8M31.2 75.1h0.8M35.1 42.7h0.8M51.6 20.2h0.8M65.1 46.0h0.8M40.8 75.2h0.8M47.8 56.3h0.8M77.9 27.4h0.8M57.1 7.9h0.8M118.4 28.6h0.8M57.1 60.7h0.8M102.2 39.8h0.8M105.6 32.5h0.8M4.3 21.0h0.8M54.2 64.4h0.8M9.2 77.6h0.8M109.2 31.0h0.8M16.3 72.2h0.8M66.6 3.7h0.8M57.3 36.4h0.8M28.2 46.1h0.8M111.4 23.8h0.8M5.5 54.8h0.8M46.9 74.8h0.8M74.3 44.2h0.8M115.3 21.0h0.8M79.4 35.4h0.8M110.1 43.3h0.8M36.0 27.3h0.8M105.7 58.9h0.8M46.5 8.9h0.8M93.4 72.5h0.8M42.3 69.4h0.8M46.2 3.5h0.8M16.4 60.3h0.8M102.0 76.3h0.8M58.7 65.3h0.8M81.9 3.7h0.8M25.1 24.2h0.8M39.2 59.4h0.8M94.8 40.9h0.8M34.6 51.6h0.8M13.1 18.0h0.8M28.7 33.6h0.8M1.8 57.4h0.8M25.9 62.8h0.8M83.6 12.9h0.8M57.3 21.7h0.8M78.7 10.1h0.8M3.9 11.1h0.8M70.7 0.4h0.8M44.0 64.7h0.8M19.8 1.2h0.8M38.7 40.6h0.8M4.9 17.3h0.8M99.7 42.8h0.8M64.1 68.0h0.8M24.9 61.4h0.8M32.1 69.7h0.8M18.8 18.4h0.8M78.4 6.2h0.8M41.9 50.9h0.8M10.5 69.4h0.8M23.8 57.5h0.8M112.4 50.8h0.8M32.8 11.8h0.8M62.8 17.2h0.8M10.5 67.7h0.8M45.4 36.4h0.8M94.6 14.8h0.8M89.4 42.5h0.8M109.4 38.1h0.8M5.7 5.8h0.8M39.1 41.0h0.8M105.6 17.3h0.8M3.2 3.8h0.8M59.3 3.2h0.8M82.5 55.8h0.8M115.2 57.1h0.8M56.6 19.5h0.8M54.5 24.6h0.8M60.8 45.0h0.8M77.8 28.4h0.8M2.3 11.3h0.8M88.2 67.6h0.8M97.8 38.7h0.8M96.6 36.9h0.8M69.3 35.0h0.8M5.6 57.7h0.8M50.7 15.4h0.8M34.9 16.8h0.8M106.0 35.1h0.8M48.0 28.0h0.8M72.0 21.0h0.8M36.6 63.8h0.8M2.6 27.8h0.8M41.1 60.1h0.8M117.6 25.3h0.8M81.5 14.4h0.8M68.8 28.7h0.8M46.9 4.1h0.8M28.7 48.7h0.8M77.6 40.9h0.8M24.8 25.3h0.8M85.1 44.0h0.8M12.6 52.1h0.8M6.6 29.1h0.8M7.7 13.8h0.8M56.4 34.7h0.8M114.4 21.8h0.8M59.6 21.4h0.8M64.5 30.8h0.8M57.3 7.7h0.8M80.0 31.0h0.8M15.4 35.4h0.8M45.1 43.8h0.8M48.3 13.0h0.8M109.2 54.5h0.8M72.5 75.2h0.8M95.7 43.8h0.8M92.6 65.9h0.8M49.4 11.8h0.8M43.1 26.8h0.8M27.4 53.4h0.8M32.6 28.8h0.8M4.1 68.1h0.8M62.0 48.6h0.8M89.3 64.7h0.8M89.7 67.6h0.8M97.7 3.1h0.8M63.0 60.7h0.8M7.5 29.2h0.8M93.0 45.5h0.8M9.7 45.2h0.8M23.8 2.4h0.8M88.8 13.7h0.8M80.4 44.8h0.8M88.2 41.5h0.8M61.2 71.6h0.8M117.4 41.4h0.8M96.3 49.5h0.8M93.9 0.3h0.8M99.3 47.8h0.8M86.9 77.0h0.8M29.1 55.5h0.8M36.6 73.5h0.8M44.6 26.6h0.8M92.5 54.8h0.8M10.5 35.8h0.8M1.3 36.5h0.8M19.2 56.3h0.8M60.0 6.3h0.8M63.1 15.6h0.8M8.7 72.4h0.8M56.1 12.0h0.8M12.0 38.6h0.8M61.7 1.3h0.8M112.5 3.2h0.8M86.8 36.7h0.8M83.6 42.9h0.8M65.1 72.0h0.8M100.7 39.7h0.8M72.5 70.3h0.8M64.1 62.7h0.8M90.8 76.9h0.8M66.3 36.5h0.8M5.9 35.2h0.8M63.1 49.7h0.8M47.8 58.6h0.8M70.6 44.8h0.8M62.2 5.8h0.8M19.9 22.6h0.8M94.4 16.7h0.8M66.1 53.0h0.8M87.7 73.9h0.8M52.4 23.4h0.8M39.6 67.9h0.8M24.6 40.2h0.8M53.0 47.8h0.8M5.6 72.7h0.8M70.1 16.2h0.8M114.7 12.6h0.8M86.7 65.0h0.8M27.7 7.2h0.8M6.9 59.9h0.8M96.7 69.8h0.8M77.3 52.3h0.8M63.1 43.3h0.8M20.2 59.9h0.8M1.3 12.7h0.8M89.6 8.6h0.8M41.9 41.7h0.8M18.5 7.9h0.8M56.4 42.1h0.8M99.1 40.4h0.8M54.6 61.0h0.8M105.5 31.0h0.8M34.8 57.2h0.8" stroke="#217712" stroke-width="0.8" fill="none"/>
<path d="M49.7 18.2h0.8M79.9 20.1h0.8M103.9 51.5h0.8M94.5 35.2h0.8M112.7 9.2h0.8M63.9 21.8h0.8M107.1 12.0h0.8M59.6 19.0h0.8M81.9 45.0h0.8M109.5 30.5h0.8M28.7 65.6h0.8M105.9 17.7h0.8M0.8 41.4h0.8M22.9 4.8h0.8M10.8 17.0h0.8M14.8 78.0h0.8M4.9 25.9h0.8M30.9 53.8h0.8M77.1 8.3h0.8M50.6 51.1h0.8M98.3 37.3h0.8M34.1 12.6h0.8M0.2 59.4h0.8M3.4 2.4h0.8M36.7 76.4h0.8M14.4 28.6h0.8M62.3 31.7h0.8M13.9 57.8h0.8M38.4 59.0h0.8M28.4 52.2h0.8M89.1 67.7h0.8M98.6 30.9h0.8M34.9 45.2h0.8M20.4 6.6h0.8M111.6 57.6h0.8M18.2 32.6h0.8M5.5 1.6h0.8M37.8 20.7h0.8M90.4 34.1h0.8M5.5 25.7h0.8M45.2 53.4h0.8M118.6 60.2h0.8M62.6 66.7h0.8M115.3 43.0h0.8M9.9 51.8h0.8M29.0 51.7h0.8M64.4 42.1h0.8M79.5 32.9h0.8M56.0 51.5h0.8M90.4 44.1h0.8M111.0 17.6h0.8M29.3 3.7h0.8M106.2 23.9h0.8M36.8 2.9h0.8M105.5 63.4h0.8M14.5 34.0h0.8M47.9 23.1h0.8M96.0 78.2h0.8M35.4 38.6h0.8M6.8 43.2h0.8M74.7 71.4h0.8M1.1 48.3h0.8M13.1 39.7h0.8M98.8 52.4h0.8M41.4 68.1h0.8M67.4 29.8h0.8M116.4 44.6h0.8M116.7 25.7h0.8M35.2 6.8h0.8M74.3 6.6h0.8M43.2 75.3h0.8M43.7 19.2h0.8M9.9 57.9h0.8M100.5 59.8h0.8M113.5 6.5h0.8M61.2 39.0h0.8M80.3 46.5h0.8M37.8 25.4h0.8M19.8 42.7h0.8M39.0 51.9h0.8M96.4 41.5h0.8M93.0 24.0h0.8M17.4 13.4h0.8M110.6 28.2h0.8M84.3 0.4h0.8M16.4 15.9h0.8M22.3 57.0h0.8M59.3 31.2h0.8" stroke="#2B9718" stroke-width="0.8" fill="none"/>
<path d="M29.9 46.9h0.9M6.8 12.6h0.9M118.6 37.7h0.9M29.7 75.6h0.9M61.5 56.0h0.9M41.0 76.9h0.9M17.2 60.4h0.9M32.1 69.2h0.9M22.1 60.9h0.9M5.2 17.8h0.9M76.1 28.1h0.9M1.7 23.9h0.9M30.3 3.7h0.9M82.1 65.2h0.9M26.6 17.2h0.9M84.1 41.5h0.9M18.8 67.5h0.9M42.3 67.9h0.9" stroke="#35B61C" stroke-width="0.9" fill="none"/>
</g>
<rect x="557.40" y="459.80" width="7.80" height="1.80" fill="#fff"/>
<text x="442.4" y="354.3" font-size="10.6" text-anchor="middle" style="font-family:'Liberation Serif',serif" fill="#111" transform="rotate(-90 442.4 354.3)">Flea-</text>
<text x="442.8" y="427" font-size="10.6" text-anchor="middle" style="font-family:'Liberation Serif',serif" fill="#111" transform="rotate(-90 442.8 427)">Flea+</text>
</g>
<g id="pk">
<text transform="translate(580.33 314) scale(1.14 1)" font-size="33.5" fill="#000">k</text>
<rect x="602.60" y="313.60" width="82.10" height="131.40" fill="#fff" stroke="#8a8a8a" stroke-width="0.7"/>
<line x1="601.00" y1="439.40" x2="602.60" y2="439.40" stroke="#333" stroke-width="0.5"/>
<text x="600.2" y="442.0" font-size="7.3" text-anchor="end" fill="#444" stroke="#444" stroke-width="0.2">0.0</text>
<line x1="601.00" y1="405.12" x2="602.60" y2="405.12" stroke="#333" stroke-width="0.5"/>
<text x="600.2" y="407.7" font-size="7.3" text-anchor="end" fill="#444" stroke="#444" stroke-width="0.2">0.2</text>
<line x1="601.00" y1="370.84" x2="602.60" y2="370.84" stroke="#333" stroke-width="0.5"/>
<text x="600.2" y="373.5" font-size="7.3" text-anchor="end" fill="#444" stroke="#444" stroke-width="0.2">0.4</text>
<line x1="601.00" y1="336.56" x2="602.60" y2="336.56" stroke="#333" stroke-width="0.5"/>
<text x="600.2" y="339.2" font-size="7.3" text-anchor="end" fill="#444" stroke="#444" stroke-width="0.2">0.6</text>
<rect x="617.60" y="373.41" width="15.00" height="65.99" fill="#DC5044" stroke="#222" stroke-width="0.6"/>
<line x1="625.10" y1="445.00" x2="625.10" y2="446.60" stroke="#333" stroke-width="0.5"/>
<rect x="655.40" y="359.70" width="15.00" height="79.70" fill="#49B0C7" stroke="#222" stroke-width="0.6"/>
<line x1="662.90" y1="445.00" x2="662.90" y2="446.60" stroke="#333" stroke-width="0.5"/>
<line x1="625.00" y1="371.00" x2="625.00" y2="376.00" stroke="#111" stroke-width="0.6"/>
<line x1="621.00" y1="371.00" x2="629.00" y2="371.00" stroke="#111" stroke-width="0.6"/>
<line x1="621.00" y1="376.00" x2="629.00" y2="376.00" stroke="#111" stroke-width="0.6"/>
<line x1="663.00" y1="356.40" x2="663.00" y2="363.00" stroke="#111" stroke-width="0.6"/>
<line x1="659.00" y1="356.40" x2="667.00" y2="356.40" stroke="#111" stroke-width="0.6"/>
<line x1="659.00" y1="363.00" x2="667.00" y2="363.00" stroke="#111" stroke-width="0.6"/>
<circle cx="627" cy="367" r="1.8" fill="#000"/>
<circle cx="627" cy="369.2" r="1.8" fill="#000"/>
<circle cx="622.4" cy="375" r="1.8" fill="#000"/>
<circle cx="627.4" cy="378.6" r="1.8" fill="#000"/>
<circle cx="624" cy="380" r="1.8" fill="#000"/>
<circle cx="660" cy="346.4" r="1.8" fill="#000"/>
<circle cx="662" cy="360.4" r="1.8" fill="#000"/>
<circle cx="663" cy="364.4" r="1.8" fill="#000"/>
<circle cx="666" cy="366.4" r="1.8" fill="#000"/>
<path d="M625 338.6V336.4H662.6V338.6" fill="none" stroke="#222" stroke-width="0.5"/>
<text x="643.8" y="334.4" font-size="7" text-anchor="middle" fill="#111">*</text>
<text x="586.4" y="379.5" font-size="6.6" text-anchor="middle" font-weight="bold" fill="#111" transform="rotate(-90 586.4 379.5)">Iba1</text>
<text x="626" y="455.3" font-size="10.3" text-anchor="middle" font-weight="bold" fill="#555">Flea−</text>
<text x="663" y="455.3" font-size="10.3" text-anchor="middle" font-weight="bold" fill="#555">Flea+</text>
<line x1="602.60" y1="313.60" x2="684.70" y2="313.60" stroke="#555" stroke-width="0.7"/>
</g>
<g id="pl">
<text transform="translate(25.83 456.6) scale(1.14 1)" font-size="33.5" fill="#000" stroke="#000" stroke-width="0.8">l</text>
<line x1="87.00" y1="439.00" x2="128.60" y2="439.00" stroke="#DC5044" stroke-width="2"/>
<line x1="134.00" y1="439.00" x2="176.00" y2="439.00" stroke="#49B0C7" stroke-width="2"/>
<line x1="188.00" y1="439.00" x2="208.00" y2="439.00" stroke="#DC5044" stroke-width="2"/>
<line x1="210.00" y1="439.00" x2="230.00" y2="439.00" stroke="#49B0C7" stroke-width="2"/>
<defs><filter id="bl" x="-20%" y="-50%" width="140%" height="200%"><feGaussianBlur stdDeviation="0.55"/></filter></defs>
<rect x="84.00" y="443.00" width="98.00" height="14.00" fill="#3d3d3d"/>
<rect x="84.00" y="461.00" width="98.00" height="14.00" fill="#3d3d3d"/>
<g filter="url(#bl)"><rect x="86.60" y="449.30" width="11.6" height="2.4" rx="1.20" fill="#050505"/><rect x="86.20" y="466.40" width="12.4" height="4.4" rx="2.20" fill="#030303"/><rect x="102.60" y="449.30" width="11.6" height="2.4" rx="1.20" fill="#050505"/><rect x="102.20" y="466.40" width="12.4" height="4.4" rx="2.20" fill="#030303"/><rect x="118.20" y="449.30" width="11.6" height="2.4" rx="1.20" fill="#050505"/><rect x="117.80" y="466.40" width="12.4" height="4.4" rx="2.20" fill="#030303"/><rect x="134.20" y="448.60" width="11.6" height="3.8" rx="1.90" fill="#050505"/><rect x="133.80" y="466.40" width="12.4" height="4.4" rx="2.20" fill="#030303"/><rect x="151.20" y="448.60" width="11.6" height="3.8" rx="1.90" fill="#050505"/><rect x="150.80" y="466.40" width="12.4" height="4.4" rx="2.20" fill="#030303"/><rect x="168.20" y="448.60" width="11.6" height="3.8" rx="1.90" fill="#050505"/><rect x="167.80" y="466.40" width="12.4" height="4.4" rx="2.20" fill="#030303"/></g>
<rect x="186.00" y="443.00" width="46.40" height="14.00" fill="#8b8b8b"/>
<rect x="186.00" y="461.00" width="46.40" height="14.00" fill="#909090"/>
<g filter="url(#bl)"><rect x="188.30" y="449.20" width="8.2" height="2.0" rx="1.00" fill="#1c1c1c"/><rect x="186.90" y="466.20" width="8.2" height="2.8" rx="1.40" fill="#161616"/><rect x="198.70" y="449.20" width="8.2" height="2.0" rx="1.00" fill="#1c1c1c"/><rect x="197.40" y="466.20" width="8.2" height="2.8" rx="1.40" fill="#161616"/><rect x="209.20" y="448.80" width="8.2" height="2.8" rx="1.40" fill="#1c1c1c"/><rect x="208.20" y="466.20" width="8.2" height="2.8" rx="1.40" fill="#161616"/><rect x="220.10" y="448.80" width="8.2" height="2.8" rx="1.40" fill="#1c1c1c"/><rect x="218.80" y="466.20" width="8.2" height="2.8" rx="1.40" fill="#161616"/></g>
<text x="79.8" y="451.2" font-size="7.9" text-anchor="end" font-weight="bold" style="font-family:'Liberation Serif',serif" fill="#000">Iba1</text>
<text x="80" y="471.1" font-size="8.1" text-anchor="end" font-weight="bold" style="font-family:'Liberation Serif',serif" fill="#000">GAPDH</text>
<text x="237" y="452.3" font-size="8.3" font-weight="bold" style="font-family:'Liberation Serif',serif" fill="#000">(~17 kDa)</text>
<text x="237" y="468.1" font-size="8.3" font-weight="bold" style="font-family:'Liberation Serif',serif" fill="#000">(~36 kDa)</text>
<line x1="282.00" y1="450.00" x2="301.60" y2="450.00" stroke="#DC5044" stroke-width="1.8"/>
<line x1="282.00" y1="465.60" x2="301.60" y2="465.60" stroke="#49B0C7" stroke-width="1.8"/>
<text x="309.6" y="453.9" font-size="10.8" fill="#222">Flea-</text>
<text x="309.6" y="468.9" font-size="10.8" fill="#222">Flea+</text>
</g>
</svg>
</body></html>
